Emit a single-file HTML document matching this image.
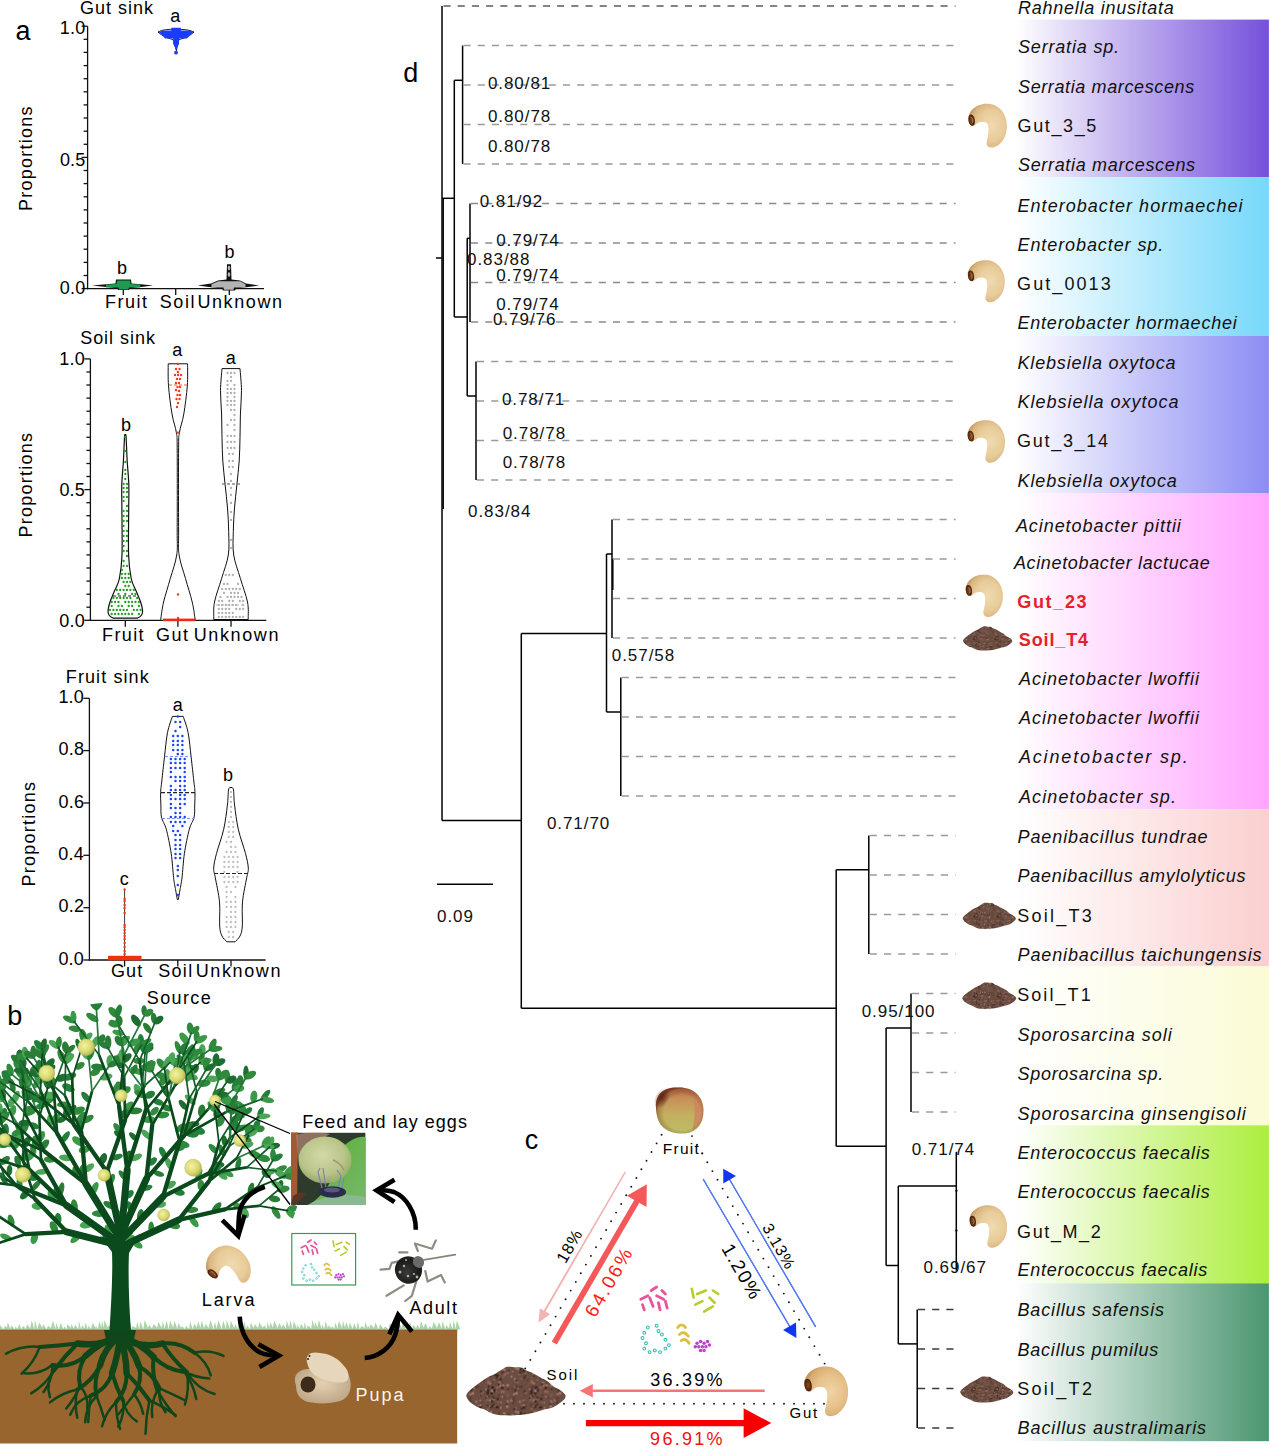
<!DOCTYPE html><html><head><meta charset="utf-8"><style>html,body{margin:0;padding:0;background:#fff;overflow:hidden}svg{display:block}</style></head><body>
<svg width="1270" height="1447" viewBox="0 0 1270 1447" font-family='"Liberation Sans", sans-serif'>
<defs>
<radialGradient id="larvaG" cx="0.6" cy="0.5" r="0.62"><stop offset="0" stop-color="#f0dab0"/><stop offset="0.55" stop-color="#e8cc9a"/><stop offset="0.85" stop-color="#dab680"/><stop offset="1" stop-color="#c49660"/></radialGradient>
<radialGradient id="headG" cx="0.5" cy="0.5" r="0.6"><stop offset="0" stop-color="#8a4a1e"/><stop offset="1" stop-color="#3a1a08"/></radialGradient>
<symbol id="larva" viewBox="0 0 41 46" overflow="visible"><path d="M1.06,13.00 C1.56,11.77 2.36,9.41 3.66,7.83 C4.96,6.25 6.99,4.62 8.86,3.50 C10.73,2.38 12.59,1.54 14.90,1.11 C17.21,0.68 20.32,0.57 22.70,0.90 C25.08,1.23 27.18,1.91 29.20,3.06 C31.22,4.21 33.28,5.96 34.80,7.83 C36.32,9.70 37.47,12.14 38.30,14.30 C39.13,16.46 39.58,18.63 39.80,20.80 C40.02,22.97 39.92,25.13 39.60,27.30 C39.28,29.47 38.77,31.78 37.90,33.80 C37.03,35.82 35.85,37.73 34.40,39.40 C32.95,41.07 31.00,42.85 29.20,43.80 C27.40,44.75 25.12,45.18 23.60,45.10 C22.08,45.02 20.82,44.17 20.10,43.30 C19.38,42.43 19.30,41.12 19.30,39.90 C19.30,38.68 19.82,37.52 20.10,36.00 C20.38,34.48 20.82,32.60 21.00,30.80 C21.18,29.00 21.35,26.78 21.20,25.20 C21.05,23.62 20.64,22.25 20.10,21.30 C19.56,20.35 18.96,19.87 17.95,19.50 C16.94,19.13 15.28,19.02 14.05,19.10 C12.83,19.18 11.68,19.50 10.60,20.00 C9.52,20.50 8.36,21.60 7.56,22.10 C6.76,22.60 6.62,23.07 5.83,23.00 C5.04,22.93 3.62,22.57 2.79,21.70 C1.96,20.83 1.21,18.88 0.85,17.80 C0.49,16.72 0.59,16.00 0.63,15.20 C0.67,14.40 0.56,14.23 1.06,13.00 Z" fill="url(#larvaG)"/><path d="M1.2,13.5 C2,11.5 4,11 5.5,12.5 C7.5,14.5 8,19 7,21.5 C6,23.5 3.5,23.5 2.2,21.5 C0.8,19.5 0.6,16 1.2,13.5 Z" fill="url(#headG)"/><path d="M3,14.5 C4,14 5,15 5.3,17 C5.5,19 5,20.5 4,20.5" fill="none" stroke="#d8b890" stroke-width="0.8" opacity="0.6"/></symbol>
<radialGradient id="larvaG2" cx="0.6" cy="0.5" r="0.62"><stop offset="0" stop-color="#f0d4a4"/><stop offset="0.55" stop-color="#e6c08a"/><stop offset="0.85" stop-color="#d8ac70"/><stop offset="1" stop-color="#c09058"/></radialGradient>
<symbol id="larva2" viewBox="0 0 41 46" overflow="visible"><path d="M1.06,13.00 C1.56,11.77 2.36,9.41 3.66,7.83 C4.96,6.25 6.99,4.62 8.86,3.50 C10.73,2.38 12.59,1.54 14.90,1.11 C17.21,0.68 20.32,0.57 22.70,0.90 C25.08,1.23 27.18,1.91 29.20,3.06 C31.22,4.21 33.28,5.96 34.80,7.83 C36.32,9.70 37.47,12.14 38.30,14.30 C39.13,16.46 39.58,18.63 39.80,20.80 C40.02,22.97 39.92,25.13 39.60,27.30 C39.28,29.47 38.77,31.78 37.90,33.80 C37.03,35.82 35.85,37.73 34.40,39.40 C32.95,41.07 31.00,42.85 29.20,43.80 C27.40,44.75 25.12,45.18 23.60,45.10 C22.08,45.02 20.82,44.17 20.10,43.30 C19.38,42.43 19.30,41.12 19.30,39.90 C19.30,38.68 19.82,37.52 20.10,36.00 C20.38,34.48 20.82,32.60 21.00,30.80 C21.18,29.00 21.35,26.78 21.20,25.20 C21.05,23.62 20.64,22.25 20.10,21.30 C19.56,20.35 18.96,19.87 17.95,19.50 C16.94,19.13 15.28,19.02 14.05,19.10 C12.83,19.18 11.68,19.50 10.60,20.00 C9.52,20.50 8.36,21.60 7.56,22.10 C6.76,22.60 6.62,23.07 5.83,23.00 C5.04,22.93 3.62,22.57 2.79,21.70 C1.96,20.83 1.21,18.88 0.85,17.80 C0.49,16.72 0.59,16.00 0.63,15.20 C0.67,14.40 0.56,14.23 1.06,13.00 Z" fill="url(#larvaG2)"/><path d="M1.2,13.5 C2,11.5 4,11 5.5,12.5 C7.5,14.5 8,19 7,21.5 C6,23.5 3.5,23.5 2.2,21.5 C0.8,19.5 0.6,16 1.2,13.5 Z" fill="url(#headG)"/></symbol>
<pattern id="soilP" width="24" height="24" patternUnits="userSpaceOnUse"><rect width="24" height="24" fill="#6a4c40"/><rect x="12.5" y="8.5" width="1.3" height="1.3" fill="#9a7264"/><rect x="13.4" y="13.9" width="1.3" height="1.3" fill="#302018"/><rect x="12.7" y="4.4" width="1.0" height="1.0" fill="#302018"/><rect x="19.2" y="11.0" width="1.3" height="1.3" fill="#302018"/><rect x="14.6" y="20.0" width="0.8" height="0.8" fill="#5a3c30"/><rect x="0.3" y="17.9" width="1.3" height="1.3" fill="#a88070"/><rect x="1.0" y="17.9" width="1.3" height="1.3" fill="#5a3c30"/><rect x="13.7" y="21.2" width="1.0" height="1.0" fill="#3a2820"/><rect x="18.1" y="9.8" width="1.3" height="1.3" fill="#a88070"/><rect x="20.2" y="2.2" width="0.8" height="0.8" fill="#302018"/><rect x="5.0" y="22.2" width="1.0" height="1.0" fill="#5a3c30"/><rect x="19.7" y="9.7" width="1.3" height="1.3" fill="#a88070"/><rect x="8.1" y="13.5" width="1.3" height="1.3" fill="#a88070"/><rect x="15.7" y="21.4" width="1.0" height="1.0" fill="#9a7264"/><rect x="15.4" y="3.8" width="1.3" height="1.3" fill="#3a2820"/><rect x="20.8" y="13.1" width="1.3" height="1.3" fill="#7a5040"/><rect x="19.1" y="13.2" width="1.3" height="1.3" fill="#9a7264"/><rect x="1.5" y="19.6" width="0.8" height="0.8" fill="#3a2820"/><rect x="7.9" y="1.5" width="0.8" height="0.8" fill="#302018"/><rect x="6.8" y="17.7" width="0.8" height="0.8" fill="#5a3c30"/><rect x="13.9" y="17.5" width="0.8" height="0.8" fill="#8e6458"/><rect x="13.5" y="12.7" width="1.3" height="1.3" fill="#a88070"/><rect x="5.4" y="0.8" width="1.3" height="1.3" fill="#3a2820"/><rect x="2.5" y="12.3" width="0.8" height="0.8" fill="#4a3026"/><rect x="6.7" y="6.1" width="1.0" height="1.0" fill="#9a7264"/><rect x="7.2" y="22.0" width="1.0" height="1.0" fill="#4a3026"/><rect x="10.6" y="12.0" width="1.0" height="1.0" fill="#a88070"/><rect x="22.4" y="18.7" width="1.3" height="1.3" fill="#8e6458"/><rect x="14.6" y="16.5" width="1.0" height="1.0" fill="#3a2820"/><rect x="22.5" y="12.0" width="1.0" height="1.0" fill="#3a2820"/><rect x="18.1" y="22.7" width="0.8" height="0.8" fill="#7a5040"/><rect x="8.7" y="13.6" width="0.8" height="0.8" fill="#7a5040"/><rect x="14.6" y="7.6" width="0.8" height="0.8" fill="#5a3c30"/><rect x="21.1" y="14.0" width="1.3" height="1.3" fill="#7a5040"/><rect x="11.3" y="13.6" width="1.3" height="1.3" fill="#3a2820"/><rect x="5.8" y="10.5" width="1.0" height="1.0" fill="#4a3026"/><rect x="8.4" y="7.2" width="0.8" height="0.8" fill="#7a5040"/><rect x="6.1" y="18.1" width="1.3" height="1.3" fill="#7a5040"/><rect x="22.3" y="15.7" width="0.8" height="0.8" fill="#8e6458"/><rect x="11.5" y="15.0" width="1.0" height="1.0" fill="#5a3c30"/><rect x="7.5" y="15.6" width="0.8" height="0.8" fill="#3a2820"/><rect x="13.8" y="21.8" width="0.8" height="0.8" fill="#8e6458"/><rect x="18.6" y="22.1" width="1.0" height="1.0" fill="#9a7264"/><rect x="17.1" y="5.0" width="1.0" height="1.0" fill="#8e6458"/><rect x="5.2" y="2.8" width="1.0" height="1.0" fill="#302018"/><rect x="18.6" y="19.3" width="1.0" height="1.0" fill="#9a7264"/><rect x="7.8" y="19.0" width="1.0" height="1.0" fill="#5a3c30"/><rect x="7.9" y="3.0" width="1.3" height="1.3" fill="#8e6458"/><rect x="18.3" y="6.2" width="1.3" height="1.3" fill="#3a2820"/><rect x="9.6" y="9.7" width="1.3" height="1.3" fill="#7a5040"/><rect x="21.2" y="3.6" width="0.8" height="0.8" fill="#a88070"/><rect x="21.7" y="20.2" width="1.0" height="1.0" fill="#4a3026"/><rect x="21.9" y="21.3" width="1.3" height="1.3" fill="#a88070"/><rect x="17.1" y="19.2" width="0.8" height="0.8" fill="#9a7264"/><rect x="7.8" y="5.2" width="1.3" height="1.3" fill="#3a2820"/><rect x="22.3" y="2.8" width="1.3" height="1.3" fill="#8e6458"/><rect x="0.8" y="18.5" width="0.8" height="0.8" fill="#9a7264"/><rect x="13.3" y="0.3" width="1.0" height="1.0" fill="#9a7264"/><rect x="11.6" y="5.5" width="0.8" height="0.8" fill="#8e6458"/><rect x="12.4" y="1.2" width="1.3" height="1.3" fill="#4a3026"/><rect x="2.9" y="22.4" width="1.0" height="1.0" fill="#8e6458"/><rect x="8.1" y="4.5" width="0.8" height="0.8" fill="#302018"/><rect x="5.5" y="6.3" width="0.8" height="0.8" fill="#8e6458"/><rect x="11.2" y="13.1" width="0.8" height="0.8" fill="#5a3c30"/><rect x="17.4" y="5.7" width="0.8" height="0.8" fill="#a88070"/><rect x="10.9" y="17.9" width="0.8" height="0.8" fill="#a88070"/><rect x="17.8" y="1.1" width="0.8" height="0.8" fill="#4a3026"/><rect x="11.1" y="0.8" width="0.8" height="0.8" fill="#4a3026"/><rect x="11.5" y="7.3" width="1.3" height="1.3" fill="#8e6458"/><rect x="8.1" y="14.9" width="0.8" height="0.8" fill="#7a5040"/><rect x="6.1" y="22.7" width="1.0" height="1.0" fill="#3a2820"/><rect x="2.9" y="0.1" width="0.8" height="0.8" fill="#a88070"/><rect x="13.0" y="1.0" width="0.8" height="0.8" fill="#a88070"/><rect x="15.0" y="12.5" width="1.3" height="1.3" fill="#302018"/><rect x="20.4" y="1.2" width="1.3" height="1.3" fill="#4a3026"/><rect x="7.2" y="21.9" width="1.3" height="1.3" fill="#302018"/><rect x="0.4" y="5.0" width="1.0" height="1.0" fill="#a88070"/><rect x="13.6" y="18.5" width="1.3" height="1.3" fill="#3a2820"/><rect x="3.0" y="0.6" width="1.0" height="1.0" fill="#9a7264"/><rect x="22.3" y="12.9" width="1.0" height="1.0" fill="#7a5040"/><rect x="10.7" y="2.8" width="0.8" height="0.8" fill="#3a2820"/><rect x="2.5" y="7.3" width="1.3" height="1.3" fill="#a88070"/><rect x="16.5" y="10.9" width="1.3" height="1.3" fill="#8e6458"/><rect x="1.0" y="2.1" width="1.0" height="1.0" fill="#9a7264"/><rect x="20.3" y="4.1" width="1.3" height="1.3" fill="#8e6458"/><rect x="19.4" y="2.8" width="1.0" height="1.0" fill="#4a3026"/><rect x="11.1" y="16.0" width="1.3" height="1.3" fill="#8e6458"/><rect x="6.9" y="2.0" width="1.3" height="1.3" fill="#3a2820"/><rect x="12.8" y="2.3" width="0.8" height="0.8" fill="#9a7264"/><rect x="7.5" y="13.0" width="1.3" height="1.3" fill="#4a3026"/><rect x="23.0" y="14.9" width="0.8" height="0.8" fill="#8e6458"/><rect x="16.1" y="21.7" width="1.3" height="1.3" fill="#302018"/><rect x="13.8" y="21.6" width="1.0" height="1.0" fill="#3a2820"/><rect x="8.6" y="5.4" width="0.8" height="0.8" fill="#a88070"/><rect x="22.2" y="9.6" width="1.3" height="1.3" fill="#a88070"/><rect x="14.8" y="20.6" width="0.8" height="0.8" fill="#302018"/><rect x="2.2" y="17.2" width="0.8" height="0.8" fill="#5a3c30"/><rect x="16.5" y="4.3" width="1.3" height="1.3" fill="#302018"/><rect x="3.4" y="11.9" width="0.8" height="0.8" fill="#3a2820"/><rect x="12.4" y="17.9" width="1.3" height="1.3" fill="#9a7264"/><rect x="19.6" y="13.4" width="1.3" height="1.3" fill="#a88070"/><rect x="7.1" y="6.2" width="0.8" height="0.8" fill="#3a2820"/><rect x="4.0" y="8.3" width="0.8" height="0.8" fill="#a88070"/><rect x="17.8" y="3.3" width="1.0" height="1.0" fill="#7a5040"/><rect x="13.8" y="10.8" width="1.3" height="1.3" fill="#302018"/><rect x="22.8" y="1.7" width="1.0" height="1.0" fill="#4a3026"/><rect x="20.3" y="1.1" width="1.3" height="1.3" fill="#a88070"/><rect x="14.9" y="17.9" width="0.8" height="0.8" fill="#9a7264"/><rect x="19.6" y="5.6" width="0.8" height="0.8" fill="#8e6458"/><rect x="3.2" y="14.3" width="1.0" height="1.0" fill="#9a7264"/><rect x="3.9" y="1.0" width="1.0" height="1.0" fill="#4a3026"/><rect x="2.1" y="18.4" width="1.0" height="1.0" fill="#5a3c30"/><rect x="6.1" y="21.0" width="0.8" height="0.8" fill="#8e6458"/><rect x="10.4" y="16.9" width="1.0" height="1.0" fill="#4a3026"/><rect x="0.7" y="7.6" width="0.8" height="0.8" fill="#7a5040"/><rect x="1.8" y="14.8" width="1.0" height="1.0" fill="#a88070"/><rect x="2.9" y="7.3" width="1.0" height="1.0" fill="#302018"/><rect x="15.3" y="2.6" width="0.8" height="0.8" fill="#3a2820"/><rect x="12.1" y="16.1" width="0.8" height="0.8" fill="#3a2820"/><rect x="6.8" y="15.5" width="1.0" height="1.0" fill="#7a5040"/><rect x="17.3" y="22.1" width="0.8" height="0.8" fill="#3a2820"/><rect x="11.4" y="8.1" width="1.3" height="1.3" fill="#8e6458"/><rect x="16.7" y="17.1" width="1.3" height="1.3" fill="#3a2820"/><rect x="8.5" y="21.2" width="0.8" height="0.8" fill="#5a3c30"/><rect x="2.5" y="12.9" width="0.8" height="0.8" fill="#302018"/><rect x="16.6" y="13.7" width="1.3" height="1.3" fill="#7a5040"/><rect x="4.3" y="11.1" width="1.3" height="1.3" fill="#3a2820"/><rect x="1.6" y="16.5" width="1.3" height="1.3" fill="#5a3c30"/><rect x="2.3" y="6.2" width="1.0" height="1.0" fill="#a88070"/><rect x="1.0" y="11.6" width="0.8" height="0.8" fill="#4a3026"/><rect x="17.7" y="8.1" width="1.3" height="1.3" fill="#9a7264"/><rect x="10.3" y="18.6" width="1.0" height="1.0" fill="#7a5040"/><rect x="11.5" y="22.9" width="1.0" height="1.0" fill="#8e6458"/><rect x="13.6" y="15.7" width="1.0" height="1.0" fill="#5a3c30"/><rect x="16.1" y="13.0" width="0.8" height="0.8" fill="#8e6458"/><rect x="3.0" y="14.0" width="1.3" height="1.3" fill="#a88070"/><rect x="12.5" y="3.9" width="0.8" height="0.8" fill="#a88070"/><rect x="20.0" y="8.5" width="0.8" height="0.8" fill="#5a3c30"/><rect x="19.4" y="10.2" width="0.8" height="0.8" fill="#3a2820"/><rect x="7.3" y="20.8" width="1.0" height="1.0" fill="#a88070"/><rect x="11.4" y="12.2" width="1.3" height="1.3" fill="#3a2820"/><rect x="11.1" y="13.8" width="1.3" height="1.3" fill="#3a2820"/><rect x="17.7" y="15.2" width="0.8" height="0.8" fill="#4a3026"/><rect x="12.0" y="10.6" width="0.8" height="0.8" fill="#302018"/><rect x="4.9" y="18.7" width="1.3" height="1.3" fill="#9a7264"/><rect x="13.0" y="22.1" width="0.8" height="0.8" fill="#302018"/><rect x="10.7" y="2.0" width="0.8" height="0.8" fill="#5a3c30"/><rect x="8.3" y="5.4" width="0.8" height="0.8" fill="#4a3026"/><rect x="12.4" y="21.4" width="1.0" height="1.0" fill="#8e6458"/><rect x="20.0" y="16.0" width="1.0" height="1.0" fill="#7a5040"/><rect x="19.7" y="13.8" width="0.8" height="0.8" fill="#5a3c30"/><rect x="1.8" y="22.9" width="1.3" height="1.3" fill="#4a3026"/><rect x="19.8" y="10.1" width="0.8" height="0.8" fill="#9a7264"/><rect x="7.3" y="18.1" width="1.0" height="1.0" fill="#9a7264"/><rect x="19.4" y="16.2" width="0.8" height="0.8" fill="#a88070"/><rect x="10.9" y="1.6" width="1.0" height="1.0" fill="#a88070"/><rect x="14.9" y="7.0" width="0.8" height="0.8" fill="#a88070"/><rect x="17.4" y="9.2" width="1.0" height="1.0" fill="#302018"/><rect x="20.7" y="16.6" width="1.0" height="1.0" fill="#5a3c30"/><rect x="10.3" y="8.3" width="1.0" height="1.0" fill="#7a5040"/><rect x="22.3" y="18.5" width="0.8" height="0.8" fill="#a88070"/><rect x="3.3" y="10.6" width="1.0" height="1.0" fill="#3a2820"/><rect x="4.8" y="3.9" width="0.8" height="0.8" fill="#9a7264"/><rect x="3.9" y="0.6" width="1.3" height="1.3" fill="#a88070"/><rect x="3.9" y="11.3" width="1.3" height="1.3" fill="#8e6458"/><rect x="9.3" y="7.3" width="0.8" height="0.8" fill="#4a3026"/><rect x="16.4" y="5.5" width="1.3" height="1.3" fill="#4a3026"/><rect x="11.3" y="20.9" width="1.0" height="1.0" fill="#4a3026"/><rect x="2.2" y="10.9" width="0.8" height="0.8" fill="#9a7264"/><rect x="14.3" y="8.0" width="1.0" height="1.0" fill="#5a3c30"/></pattern>
<symbol id="soil" viewBox="0 0 55 27" overflow="visible"><path d="M0.02,15.81 C0.14,14.63 1.56,13.53 2.82,12.35 C4.08,11.17 6.04,9.85 7.59,8.74 C9.13,7.64 10.67,6.56 12.11,5.73 C13.56,4.89 14.93,4.45 16.27,3.72 C17.61,2.99 19.10,1.93 20.17,1.33 C21.24,0.72 21.52,0.24 22.70,0.07 C23.88,-0.10 25.87,0.23 27.24,0.31 C28.61,0.39 30.04,0.30 30.93,0.55 C31.82,0.80 31.62,1.32 32.59,1.82 C33.57,2.32 35.39,2.87 36.76,3.56 C38.14,4.24 39.50,5.20 40.84,5.94 C42.19,6.68 43.57,7.14 44.82,8.00 C46.07,8.85 47.11,10.22 48.33,11.07 C49.54,11.91 51.03,12.26 52.10,13.07 C53.16,13.87 54.48,14.99 54.71,15.91 C54.94,16.82 54.16,17.75 53.48,18.55 C52.81,19.35 51.69,20.04 50.65,20.72 C49.61,21.39 48.52,22.11 47.22,22.59 C45.92,23.08 44.45,23.18 42.86,23.61 C41.27,24.04 39.35,24.74 37.69,25.18 C36.03,25.61 34.69,25.95 32.90,26.22 C31.10,26.49 28.99,26.69 26.91,26.79 C24.84,26.89 22.44,26.93 20.46,26.82 C18.48,26.71 16.78,26.66 15.04,26.12 C13.30,25.58 11.55,24.29 10.02,23.60 C8.49,22.92 7.16,22.69 5.84,22.00 C4.51,21.31 3.06,20.50 2.08,19.47 C1.11,18.44 -0.11,17.00 0.02,15.81 Z" fill="url(#soilP)"/></symbol>
<radialGradient id="appleG" cx="0.5" cy="0.7" r="0.7" fx="0.45" fy="0.75"><stop offset="0" stop-color="#c0b458"/><stop offset="0.35" stop-color="#b0a04a"/><stop offset="0.65" stop-color="#a8783a"/><stop offset="0.88" stop-color="#985030"/><stop offset="1" stop-color="#5a1c10"/></radialGradient>
<radialGradient id="fruitG" cx="0.4" cy="0.4" r="0.6"><stop offset="0" stop-color="#f4f2a0"/><stop offset="0.7" stop-color="#d6d870"/><stop offset="1" stop-color="#b8b850"/></radialGradient>
<linearGradient id="photoG" x1="0" y1="0" x2="1" y2="1"><stop offset="0" stop-color="#6a4a30"/><stop offset="0.4" stop-color="#8aa060"/><stop offset="1" stop-color="#5aa050"/></linearGradient>
<radialGradient id="budG" cx="0.45" cy="0.4" r="0.55"><stop offset="0" stop-color="#c4d0a0"/><stop offset="0.8" stop-color="#a8b880"/><stop offset="1" stop-color="#809060"/></radialGradient>
<radialGradient id="pupaG" cx="0.5" cy="0.45" r="0.6"><stop offset="0" stop-color="#e4d0b0"/><stop offset="1" stop-color="#bca486"/></radialGradient>
<radialGradient id="beetleG" cx="0.4" cy="0.4" r="0.6"><stop offset="0" stop-color="#707070"/><stop offset="1" stop-color="#1a1a1a"/></radialGradient>
<linearGradient id="bg0" x1="0" x2="1" y1="0" y2="0"><stop offset="0" stop-color="#fff"/><stop offset="1" stop-color="#7550dc"/></linearGradient>
<linearGradient id="bg1" x1="0" x2="1" y1="0" y2="0"><stop offset="0" stop-color="#fff"/><stop offset="1" stop-color="#76d8fa"/></linearGradient>
<linearGradient id="bg2" x1="0" x2="1" y1="0" y2="0"><stop offset="0" stop-color="#fff"/><stop offset="1" stop-color="#8c8cf4"/></linearGradient>
<linearGradient id="bg3" x1="0" x2="1" y1="0" y2="0"><stop offset="0" stop-color="#fff"/><stop offset="1" stop-color="#ffa4ff"/></linearGradient>
<linearGradient id="bg4" x1="0" x2="1" y1="0" y2="0"><stop offset="0" stop-color="#fff"/><stop offset="1" stop-color="#fbcfcf"/></linearGradient>
<linearGradient id="bg5" x1="0" x2="1" y1="0" y2="0"><stop offset="0" stop-color="#fff"/><stop offset="1" stop-color="#fbfbd6"/></linearGradient>
<linearGradient id="bg6" x1="0" x2="1" y1="0" y2="0"><stop offset="0" stop-color="#fff"/><stop offset="1" stop-color="#acee3e"/></linearGradient>
<linearGradient id="bg7" x1="0" x2="1" y1="0" y2="0"><stop offset="0" stop-color="#fff"/><stop offset="1" stop-color="#4b9670"/></linearGradient>
</defs>
<rect width="1270" height="1447" fill="#fff"/>
<rect x="1015.7" y="19.6" width="253.2" height="157.5" fill="url(#bg0)"/>
<rect x="1015.7" y="177.1" width="253.2" height="158.5" fill="url(#bg1)"/>
<rect x="1015.7" y="335.6" width="253.2" height="157.4" fill="url(#bg2)"/>
<rect x="1015.7" y="493.0" width="253.2" height="316.2" fill="url(#bg3)"/>
<rect x="1015.7" y="809.2" width="253.2" height="157.1" fill="url(#bg4)"/>
<rect x="1015.7" y="966.3" width="253.2" height="159.0" fill="url(#bg5)"/>
<rect x="1015.7" y="1125.3" width="253.2" height="158.0" fill="url(#bg6)"/>
<rect x="1015.7" y="1283.3" width="253.2" height="157.9" fill="url(#bg7)"/>
<g stroke-linecap="butt">
<line x1="442.0" y1="6.0" x2="442.0" y2="820.6" stroke="#000" stroke-width="1.5" />
<line x1="443.2" y1="198.3" x2="443.2" y2="509.0" stroke="#000" stroke-width="1.5" />
<line x1="436.0" y1="258.0" x2="442.0" y2="258.0" stroke="#000" stroke-width="1.5" />
<line x1="443.5" y1="6.0" x2="955.5" y2="6.0" stroke="#5c5c5c" stroke-width="1.4" stroke-dasharray="7.1 7.1"/>
<line x1="442.0" y1="198.3" x2="454.3" y2="198.3" stroke="#000" stroke-width="1.5" />
<line x1="454.3" y1="80.3" x2="454.3" y2="317.0" stroke="#000" stroke-width="1.5" />
<line x1="454.3" y1="80.3" x2="462.6" y2="80.3" stroke="#000" stroke-width="1.5" />
<line x1="462.6" y1="45.5" x2="462.6" y2="164.0" stroke="#000" stroke-width="1.5" />
<line x1="463.5" y1="45.5" x2="955.5" y2="45.5" stroke="#9a9a9a" stroke-width="1.4" stroke-dasharray="7.1 7.1"/>
<line x1="463.5" y1="85.0" x2="955.5" y2="85.0" stroke="#9a9a9a" stroke-width="1.4" stroke-dasharray="7.1 7.1"/>
<line x1="463.5" y1="124.5" x2="955.5" y2="124.5" stroke="#9a9a9a" stroke-width="1.4" stroke-dasharray="7.1 7.1"/>
<line x1="463.5" y1="164.0" x2="955.5" y2="164.0" stroke="#9a9a9a" stroke-width="1.4" stroke-dasharray="7.1 7.1"/>
<line x1="454.3" y1="317.0" x2="467.2" y2="317.0" stroke="#000" stroke-width="1.5" />
<line x1="467.2" y1="238.3" x2="467.2" y2="396.0" stroke="#000" stroke-width="1.5" />
<line x1="467.2" y1="238.3" x2="470.0" y2="238.3" stroke="#000" stroke-width="1.5" />
<line x1="470.0" y1="203.5" x2="470.0" y2="322.0" stroke="#000" stroke-width="1.5" />
<line x1="471.0" y1="203.5" x2="955.5" y2="203.5" stroke="#8a8a8a" stroke-width="1.4" stroke-dasharray="7.1 7.1"/>
<line x1="471.0" y1="243.0" x2="955.5" y2="243.0" stroke="#8a8a8a" stroke-width="1.4" stroke-dasharray="7.1 7.1"/>
<line x1="471.0" y1="282.5" x2="955.5" y2="282.5" stroke="#8a8a8a" stroke-width="1.4" stroke-dasharray="7.1 7.1"/>
<line x1="471.0" y1="322.0" x2="955.5" y2="322.0" stroke="#8a8a8a" stroke-width="1.4" stroke-dasharray="7.1 7.1"/>
<line x1="467.2" y1="396.0" x2="476.0" y2="396.0" stroke="#000" stroke-width="1.5" />
<line x1="476.0" y1="361.5" x2="476.0" y2="480.0" stroke="#000" stroke-width="1.5" />
<line x1="477.0" y1="361.5" x2="955.5" y2="361.5" stroke="#9a9a9a" stroke-width="1.4" stroke-dasharray="7.1 7.1"/>
<line x1="477.0" y1="401.0" x2="955.5" y2="401.0" stroke="#9a9a9a" stroke-width="1.4" stroke-dasharray="7.1 7.1"/>
<line x1="477.0" y1="440.5" x2="955.5" y2="440.5" stroke="#9a9a9a" stroke-width="1.4" stroke-dasharray="7.1 7.1"/>
<line x1="477.0" y1="480.0" x2="955.5" y2="480.0" stroke="#9a9a9a" stroke-width="1.4" stroke-dasharray="7.1 7.1"/>
<line x1="442.0" y1="820.6" x2="521.3" y2="820.6" stroke="#000" stroke-width="1.5" />
<line x1="521.3" y1="633.4" x2="521.3" y2="1008.2" stroke="#000" stroke-width="1.5" />
<line x1="521.3" y1="633.4" x2="606.5" y2="633.4" stroke="#000" stroke-width="1.5" />
<line x1="606.5" y1="554.0" x2="606.5" y2="712.0" stroke="#000" stroke-width="1.5" />
<line x1="606.5" y1="554.0" x2="612.0" y2="554.0" stroke="#000" stroke-width="1.5" />
<line x1="612.0" y1="519.5" x2="612.0" y2="638.0" stroke="#000" stroke-width="1.5" />
<line x1="612.8" y1="559.0" x2="612.8" y2="590.0" stroke="#000" stroke-width="1.5" />
<line x1="613.0" y1="519.5" x2="955.5" y2="519.5" stroke="#9a9a9a" stroke-width="1.4" stroke-dasharray="7.1 7.1"/>
<line x1="613.0" y1="559.0" x2="955.5" y2="559.0" stroke="#9a9a9a" stroke-width="1.4" stroke-dasharray="7.1 7.1"/>
<line x1="613.0" y1="598.5" x2="955.5" y2="598.5" stroke="#9a9a9a" stroke-width="1.4" stroke-dasharray="7.1 7.1"/>
<line x1="613.0" y1="638.0" x2="955.5" y2="638.0" stroke="#9a9a9a" stroke-width="1.4" stroke-dasharray="7.1 7.1"/>
<line x1="606.5" y1="712.0" x2="620.8" y2="712.0" stroke="#000" stroke-width="1.5" />
<line x1="620.8" y1="677.5" x2="620.8" y2="796.0" stroke="#000" stroke-width="1.5" />
<line x1="621.8" y1="677.5" x2="955.5" y2="677.5" stroke="#9a9a9a" stroke-width="1.4" stroke-dasharray="7.1 7.1"/>
<line x1="621.8" y1="717.0" x2="955.5" y2="717.0" stroke="#9a9a9a" stroke-width="1.4" stroke-dasharray="7.1 7.1"/>
<line x1="621.8" y1="756.5" x2="955.5" y2="756.5" stroke="#9a9a9a" stroke-width="1.4" stroke-dasharray="7.1 7.1"/>
<line x1="621.8" y1="796.0" x2="955.5" y2="796.0" stroke="#9a9a9a" stroke-width="1.4" stroke-dasharray="7.1 7.1"/>
<line x1="521.3" y1="1008.2" x2="836.2" y2="1008.2" stroke="#000" stroke-width="1.5" />
<line x1="836.2" y1="869.8" x2="836.2" y2="1146.2" stroke="#000" stroke-width="1.5" />
<line x1="836.2" y1="869.8" x2="868.8" y2="869.8" stroke="#000" stroke-width="1.5" />
<line x1="868.8" y1="835.5" x2="868.8" y2="954.0" stroke="#000" stroke-width="1.5" />
<line x1="869.8" y1="835.5" x2="955.5" y2="835.5" stroke="#9a9a9a" stroke-width="1.4" stroke-dasharray="7.1 7.1"/>
<line x1="869.8" y1="875.0" x2="955.5" y2="875.0" stroke="#9a9a9a" stroke-width="1.4" stroke-dasharray="7.1 7.1"/>
<line x1="869.8" y1="914.5" x2="955.5" y2="914.5" stroke="#9a9a9a" stroke-width="1.4" stroke-dasharray="7.1 7.1"/>
<line x1="869.8" y1="954.0" x2="955.5" y2="954.0" stroke="#9a9a9a" stroke-width="1.4" stroke-dasharray="7.1 7.1"/>
<line x1="836.2" y1="1146.2" x2="886.1" y2="1146.2" stroke="#000" stroke-width="1.5" />
<line x1="886.1" y1="1028.0" x2="886.1" y2="1265.5" stroke="#000" stroke-width="1.5" />
<line x1="886.1" y1="1028.0" x2="911.0" y2="1028.0" stroke="#000" stroke-width="1.5" />
<line x1="911.0" y1="993.5" x2="911.0" y2="1112.0" stroke="#000" stroke-width="1.5" />
<line x1="912.0" y1="993.5" x2="955.5" y2="993.5" stroke="#9a9a9a" stroke-width="1.4" stroke-dasharray="7.1 7.1"/>
<line x1="912.0" y1="1033.0" x2="955.5" y2="1033.0" stroke="#9a9a9a" stroke-width="1.4" stroke-dasharray="7.1 7.1"/>
<line x1="912.0" y1="1072.5" x2="955.5" y2="1072.5" stroke="#9a9a9a" stroke-width="1.4" stroke-dasharray="7.1 7.1"/>
<line x1="912.0" y1="1112.0" x2="955.5" y2="1112.0" stroke="#9a9a9a" stroke-width="1.4" stroke-dasharray="7.1 7.1"/>
<line x1="886.1" y1="1265.5" x2="898.3" y2="1265.5" stroke="#000" stroke-width="1.5" />
<line x1="898.3" y1="1186.0" x2="898.3" y2="1343.9" stroke="#000" stroke-width="1.5" />
<line x1="898.3" y1="1186.0" x2="956.3" y2="1186.0" stroke="#000" stroke-width="1.5" />
<line x1="956.3" y1="1151.8" x2="956.3" y2="1270.7" stroke="#000" stroke-width="1.5" />
<line x1="955.3" y1="1190.7" x2="957.5" y2="1190.7" stroke="#000" stroke-width="1.5" />
<line x1="955.3" y1="1230.5" x2="957.5" y2="1230.5" stroke="#000" stroke-width="1.5" />
<line x1="898.3" y1="1343.9" x2="917.2" y2="1343.9" stroke="#000" stroke-width="1.5" />
<line x1="917.2" y1="1309.5" x2="917.2" y2="1428.0" stroke="#000" stroke-width="1.5" />
<line x1="918.0" y1="1309.5" x2="953.6" y2="1309.5" stroke="#3a3a3a" stroke-width="1.4" stroke-dasharray="7.1 7.1"/>
<line x1="918.0" y1="1349.0" x2="953.6" y2="1349.0" stroke="#3a3a3a" stroke-width="1.4" stroke-dasharray="7.1 7.1"/>
<line x1="918.0" y1="1388.5" x2="953.6" y2="1388.5" stroke="#3a3a3a" stroke-width="1.4" stroke-dasharray="7.1 7.1"/>
<line x1="918.0" y1="1428.0" x2="953.6" y2="1428.0" stroke="#3a3a3a" stroke-width="1.4" stroke-dasharray="7.1 7.1"/>
<line x1="437.0" y1="884.2" x2="493.0" y2="884.2" stroke="#000" stroke-width="1.5" />
</g>
<text x="487.9" y="88.6" font-size="17" fill="#111" letter-spacing="0.95" >0.80/81</text>
<text x="487.9" y="121.5" font-size="17" fill="#111" letter-spacing="0.95" >0.80/78</text>
<text x="487.9" y="151.5" font-size="17" fill="#111" letter-spacing="0.95" >0.80/78</text>
<text x="479.8" y="207.0" font-size="17" fill="#111" letter-spacing="0.95" >0.81/92</text>
<text x="496.2" y="246.3" font-size="17" fill="#111" letter-spacing="0.95" >0.79/74</text>
<text x="467.0" y="265.2" font-size="17" fill="#111" letter-spacing="0.95" >0.83/88</text>
<text x="496.2" y="280.6" font-size="17" fill="#111" letter-spacing="0.95" >0.79/74</text>
<text x="496.2" y="309.6" font-size="17" fill="#111" letter-spacing="0.95" >0.79/74</text>
<text x="493.0" y="325.4" font-size="17" fill="#111" letter-spacing="0.95" >0.79/76</text>
<text x="501.9" y="404.6" font-size="17" fill="#111" letter-spacing="0.95" >0.78/71</text>
<text x="502.7" y="438.9" font-size="17" fill="#111" letter-spacing="0.95" >0.78/78</text>
<text x="502.7" y="467.6" font-size="17" fill="#111" letter-spacing="0.95" >0.78/78</text>
<text x="468.0" y="517.2" font-size="17" fill="#111" letter-spacing="0.95" >0.83/84</text>
<text x="611.8" y="661.0" font-size="17" fill="#111" letter-spacing="0.95" >0.57/58</text>
<text x="546.9" y="828.9" font-size="17" fill="#111" letter-spacing="0.95" >0.71/70</text>
<text x="861.7" y="1016.5" font-size="17" fill="#111" letter-spacing="0.95" >0.95/100</text>
<text x="911.8" y="1154.5" font-size="17" fill="#111" letter-spacing="0.95" >0.71/74</text>
<text x="923.5" y="1273.0" font-size="17" fill="#111" letter-spacing="0.95" >0.69/67</text>
<text x="437.0" y="922.2" font-size="17" fill="#111" letter-spacing="0.95" >0.09</text>
<text x="403.3" y="82.0" font-size="27" fill="#000" letter-spacing="0" >d</text>
<text x="1018.0" y="13.9" font-size="18" fill="#111" font-style="italic" letter-spacing="0.74" >Rahnella inusitata</text>
<text x="1018.0" y="53.4" font-size="18" fill="#111" font-style="italic" letter-spacing="0.82" >Serratia sp.</text>
<text x="1018.0" y="92.7" font-size="18" fill="#111" font-style="italic" letter-spacing="0.62" >Serratia marcescens</text>
<text x="1017.6" y="132.3" font-size="18" fill="#111" letter-spacing="1.62" >Gut_3_5</text>
<text x="1018.0" y="171.3" font-size="18" fill="#111" font-style="italic" letter-spacing="0.67" >Serratia marcescens</text>
<text x="1017.5" y="211.6" font-size="18" fill="#111" font-style="italic" letter-spacing="1.04" >Enterobacter hormaechei</text>
<text x="1017.5" y="250.7" font-size="18" fill="#111" font-style="italic" letter-spacing="0.91" >Enterobacter sp.</text>
<text x="1017.1" y="289.8" font-size="18" fill="#111" letter-spacing="2.07" >Gut_0013</text>
<text x="1017.5" y="328.8" font-size="18" fill="#111" font-style="italic" letter-spacing="0.78" >Enterobacter hormaechei</text>
<text x="1017.5" y="369.1" font-size="18" fill="#111" font-style="italic" letter-spacing="0.82" >Klebsiella oxytoca</text>
<text x="1017.5" y="408.2" font-size="18" fill="#111" font-style="italic" letter-spacing="1.0" >Klebsiella oxytoca</text>
<text x="1017.1" y="447.2" font-size="18" fill="#111" letter-spacing="1.69" >Gut_3_14</text>
<text x="1017.5" y="487.0" font-size="18" fill="#111" font-style="italic" letter-spacing="0.9" >Klebsiella oxytoca</text>
<text x="1015.9" y="531.6" font-size="18" fill="#111" font-style="italic" letter-spacing="0.94" >Acinetobacter pittii</text>
<text x="1013.9" y="569.4" font-size="18" fill="#111" font-style="italic" letter-spacing="0.65" >Acinetobacter lactucae</text>
<text x="1017.3" y="607.7" font-size="18" fill="#e8202a" font-weight="bold" letter-spacing="1.66" >Gut_23</text>
<text x="1018.8" y="645.8" font-size="18" fill="#e8202a" font-weight="bold" letter-spacing="0.87" >Soil_T4</text>
<text x="1018.9" y="684.6" font-size="18" fill="#111" font-style="italic" letter-spacing="1.0" >Acinetobacter lwoffii</text>
<text x="1018.9" y="723.9" font-size="18" fill="#111" font-style="italic" letter-spacing="1.0" >Acinetobacter lwoffii</text>
<text x="1018.9" y="763.4" font-size="18" fill="#111" font-style="italic" letter-spacing="1.86" >Acinetobacter sp.</text>
<text x="1018.9" y="802.5" font-size="18" fill="#111" font-style="italic" letter-spacing="1.12" >Acinetobacter sp.</text>
<text x="1017.5" y="842.8" font-size="18" fill="#111" font-style="italic" letter-spacing="0.9" >Paenibacillus tundrae</text>
<text x="1017.5" y="881.9" font-size="18" fill="#111" font-style="italic" letter-spacing="0.76" >Paenibacillus amylolyticus</text>
<text x="1017.2" y="922.2" font-size="18" fill="#111" letter-spacing="2.27" >Soil_T3</text>
<text x="1017.5" y="961.2" font-size="18" fill="#111" font-style="italic" letter-spacing="0.88" >Paenibacillus taichungensis</text>
<text x="1017.2" y="1000.8" font-size="18" fill="#111" letter-spacing="2.07" >Soil_T1</text>
<text x="1017.5" y="1040.6" font-size="18" fill="#111" font-style="italic" letter-spacing="1.01" >Sporosarcina soli</text>
<text x="1017.5" y="1079.7" font-size="18" fill="#111" font-style="italic" letter-spacing="0.71" >Sporosarcina sp.</text>
<text x="1017.5" y="1119.5" font-size="18" fill="#111" font-style="italic" letter-spacing="0.96" >Sporosarcina ginsengisoli</text>
<text x="1017.5" y="1159.0" font-size="18" fill="#111" font-style="italic" letter-spacing="0.86" >Enterococcus faecalis</text>
<text x="1017.5" y="1198.1" font-size="18" fill="#111" font-style="italic" letter-spacing="0.86" >Enterococcus faecalis</text>
<text x="1017.1" y="1237.9" font-size="18" fill="#111" letter-spacing="1.6" >Gut_M_2</text>
<text x="1017.5" y="1276.2" font-size="18" fill="#111" font-style="italic" letter-spacing="0.73" >Enterococcus faecalis</text>
<text x="1017.5" y="1316.0" font-size="18" fill="#111" font-style="italic" letter-spacing="0.84" >Bacillus safensis</text>
<text x="1017.5" y="1355.6" font-size="18" fill="#111" font-style="italic" letter-spacing="0.78" >Bacillus pumilus</text>
<text x="1017.2" y="1395.1" font-size="18" fill="#111" letter-spacing="2.28" >Soil_T2</text>
<text x="1017.5" y="1434.4" font-size="18" fill="#111" font-style="italic" letter-spacing="0.93" >Bacillus australimaris</text>
<use href="#larva" x="967.6" y="103.0" width="40.4" height="45.6" preserveAspectRatio="none"/>
<use href="#larva" x="966.0" y="259.5" width="41.0" height="43.5" preserveAspectRatio="none"/>
<use href="#larva" x="966.0" y="419.5" width="41.0" height="44.1" preserveAspectRatio="none"/>
<use href="#larva" x="965.0" y="573.7" width="39.0" height="44.3" preserveAspectRatio="none"/>
<use href="#larva" x="968.4" y="1204.6" width="40.2" height="44.1" preserveAspectRatio="none"/>
<use href="#soil" x="963.0" y="626.0" width="49.5" height="25.0" preserveAspectRatio="none"/>
<use href="#soil" x="962.0" y="902.8" width="54.8" height="26.2" preserveAspectRatio="none"/>
<use href="#soil" x="962.0" y="982.4" width="54.8" height="26.6" preserveAspectRatio="none"/>
<use href="#soil" x="959.6" y="1376.5" width="54.6" height="26.2" preserveAspectRatio="none"/>
<text x="79.9" y="13.9" font-size="18" fill="#000" letter-spacing="1.03" >Gut sink</text>
<text x="15.5" y="40.3" font-size="27" fill="#000" letter-spacing="0" >a</text>
<g transform="translate(27.3 158.5) rotate(-90)">
<text x="-52.6" y="4.7" font-size="18" fill="#000" letter-spacing="1.25" >Proportions</text>
</g>
<g stroke="#111" stroke-width="1.3">
<line x1="87.6" y1="26.2" x2="87.6" y2="289.20000000000005"/>
<line x1="87.0" y1="288.6" x2="264" y2="288.6"/>
<line x1="81.6" y1="26.2" x2="87.6" y2="26.2"/>
<line x1="83.6" y1="39.3" x2="87.6" y2="39.3"/>
<line x1="83.6" y1="52.4" x2="87.6" y2="52.4"/>
<line x1="83.6" y1="65.6" x2="87.6" y2="65.6"/>
<line x1="83.6" y1="78.7" x2="87.6" y2="78.7"/>
<line x1="83.6" y1="91.8" x2="87.6" y2="91.8"/>
<line x1="83.6" y1="104.9" x2="87.6" y2="104.9"/>
<line x1="83.6" y1="118.0" x2="87.6" y2="118.0"/>
<line x1="83.6" y1="131.2" x2="87.6" y2="131.2"/>
<line x1="83.6" y1="144.3" x2="87.6" y2="144.3"/>
<line x1="81.6" y1="157.4" x2="87.6" y2="157.4"/>
<line x1="83.6" y1="170.5" x2="87.6" y2="170.5"/>
<line x1="83.6" y1="183.6" x2="87.6" y2="183.6"/>
<line x1="83.6" y1="196.8" x2="87.6" y2="196.8"/>
<line x1="83.6" y1="209.9" x2="87.6" y2="209.9"/>
<line x1="83.6" y1="223.0" x2="87.6" y2="223.0"/>
<line x1="83.6" y1="236.1" x2="87.6" y2="236.1"/>
<line x1="83.6" y1="249.2" x2="87.6" y2="249.2"/>
<line x1="83.6" y1="262.4" x2="87.6" y2="262.4"/>
<line x1="83.6" y1="275.5" x2="87.6" y2="275.5"/>
<line x1="81.6" y1="288.6" x2="87.6" y2="288.6"/>
<line x1="123.3" y1="288.6" x2="123.3" y2="295.1"/>
<line x1="175.7" y1="288.6" x2="175.7" y2="295.1"/>
<line x1="229.3" y1="288.6" x2="229.3" y2="295.1"/>
</g>
<text x="59.8" y="34.0" font-size="18" fill="#000" letter-spacing="0.2" >1.0</text>
<text x="59.9" y="165.5" font-size="18" fill="#000" letter-spacing="0.2" >0.5</text>
<text x="59.8" y="294.4" font-size="18" fill="#000" letter-spacing="0.2" >0.0</text>
<path d="M92,285.6 L106,284.2 L115.5,283.6 L116,279.6 L131,279.6 L131.5,283.6 L141,284.2 L153,285.6 L141,287 L130,288.2 L129,290 L118.3,290 L117.5,288.2 L106,287 Z" fill="#111"/>
<path d="M106,284.6 L116.5,284 L117,280.5 L130,280.5 L130.5,284 L140.3,284.6 L140.3,287.5 L129,287.5 L128.5,289.5 L119,289.5 L118.5,287.5 L106,287.5 Z" fill="#1f9a50"/>
<path d="M197.7,285.6 L211,283.5 L218,280.5 L226.5,279.6 L227,264.2 L231,264.2 L231.5,279.6 L240,280.5 L246,283.5 L259.4,285.6 L246,287.2 L236,288.6 L235,290.5 L223,290.5 L222,288.6 L211,287.2 Z" fill="#111"/>
<path d="M211.5,284.2 L218.5,281.3 L240,281.3 L245.5,284.2 L245.5,287.6 L234,287.6 L233.5,289.8 L224,289.8 L223.5,287.6 L211.5,287.6 Z" fill="#b4b4b4"/>
<ellipse cx="229" cy="268" rx="1.3" ry="2.2" fill="#b4b4b4"/><ellipse cx="229" cy="274.5" rx="1.3" ry="2.2" fill="#b4b4b4"/>
<path d="M158,32 C162,29.5 168,29.3 175.5,29.3 C183,29.3 189,29.5 194,32 C190,36 184,38.5 179,39.5 C177.5,43 177,47 176.5,51 C175.5,47 174.5,43 173,39.5 C168,38.5 162,36 158,32 Z" fill="none" stroke="#222" stroke-width="1"/>
<path d="M158.3,32 L163,30.4 L171.3,30.4 L171.3,27.7 L180.9,27.7 L180.9,30.4 L189.4,30.4 L193.7,32 L189.4,35.7 L187,38.5 L179.1,38.5 L179,44 L177.2,47.6 L176,50 L175,47.6 L173.2,44 L173.2,38.5 L165,38.5 L163,35.7 Z" fill="#1a3cff"/>
<circle cx="176" cy="52.7" r="1.9" fill="#1a3cff"/>
<text x="170.3" y="22.0" font-size="18" fill="#000" letter-spacing="0" >a</text>
<text x="116.9" y="274.3" font-size="18" fill="#000" letter-spacing="0" >b</text>
<text x="224.4" y="258.1" font-size="18" fill="#000" letter-spacing="0" >b</text>
<text x="105.1" y="307.9" font-size="18" fill="#000" letter-spacing="1.5" >Fruit</text>
<text x="159.7" y="307.9" font-size="18" fill="#000" letter-spacing="1.6" >Soil</text>
<text x="197.4" y="307.9" font-size="18" fill="#000" letter-spacing="1.6" >Unknown</text>
<text x="80.2" y="344.0" font-size="18" fill="#000" letter-spacing="0.96" >Soil sink</text>
<g transform="translate(27.2 485.0) rotate(-90)">
<text x="-52.6" y="4.7" font-size="18" fill="#000" letter-spacing="1.25" >Proportions</text>
</g>
<g stroke="#111" stroke-width="1.3">
<line x1="90.4" y1="358.9" x2="90.4" y2="620.9"/>
<line x1="89.80000000000001" y1="620.3" x2="266.3" y2="620.3"/>
<line x1="84.4" y1="358.9" x2="90.4" y2="358.9"/>
<line x1="86.4" y1="372.0" x2="90.4" y2="372.0"/>
<line x1="86.4" y1="385.0" x2="90.4" y2="385.0"/>
<line x1="86.4" y1="398.1" x2="90.4" y2="398.1"/>
<line x1="86.4" y1="411.2" x2="90.4" y2="411.2"/>
<line x1="86.4" y1="424.2" x2="90.4" y2="424.2"/>
<line x1="86.4" y1="437.3" x2="90.4" y2="437.3"/>
<line x1="86.4" y1="450.4" x2="90.4" y2="450.4"/>
<line x1="86.4" y1="463.5" x2="90.4" y2="463.5"/>
<line x1="86.4" y1="476.5" x2="90.4" y2="476.5"/>
<line x1="84.4" y1="489.6" x2="90.4" y2="489.6"/>
<line x1="86.4" y1="502.7" x2="90.4" y2="502.7"/>
<line x1="86.4" y1="515.7" x2="90.4" y2="515.7"/>
<line x1="86.4" y1="528.8" x2="90.4" y2="528.8"/>
<line x1="86.4" y1="541.9" x2="90.4" y2="541.9"/>
<line x1="86.4" y1="554.9" x2="90.4" y2="554.9"/>
<line x1="86.4" y1="568.0" x2="90.4" y2="568.0"/>
<line x1="86.4" y1="581.1" x2="90.4" y2="581.1"/>
<line x1="86.4" y1="594.2" x2="90.4" y2="594.2"/>
<line x1="86.4" y1="607.2" x2="90.4" y2="607.2"/>
<line x1="84.4" y1="620.3" x2="90.4" y2="620.3"/>
<line x1="125.3" y1="620.3" x2="125.3" y2="626.8"/>
<line x1="177.9" y1="620.3" x2="177.9" y2="626.8"/>
<line x1="231.0" y1="620.3" x2="231.0" y2="626.8"/>
</g>
<text x="59.3" y="364.9" font-size="18" fill="#000" letter-spacing="0.2" >1.0</text>
<text x="59.4" y="496.1" font-size="18" fill="#000" letter-spacing="0.2" >0.5</text>
<text x="59.3" y="626.6" font-size="18" fill="#000" letter-spacing="0.2" >0.0</text>
<path d="M125.60,434.50 C125.68,435.00 125.83,433.08 126.10,437.50 C126.37,441.92 126.75,453.17 127.20,461.00 C127.65,468.83 128.55,476.33 128.80,484.50 C129.05,492.67 128.73,498.25 128.70,510.00 C128.67,521.75 128.18,543.58 128.60,555.00 C129.02,566.42 130.00,572.62 131.20,578.50 C132.40,584.38 134.23,586.38 135.80,590.30 C137.37,594.22 139.47,598.48 140.60,602.00 C141.73,605.52 142.57,609.07 142.60,611.40 C142.63,613.73 141.68,614.87 140.80,616.00 C139.92,617.13 137.88,617.83 137.30,618.20 L113.30,618.20 C112.72,617.83 110.68,617.13 109.80,616.00 C108.92,614.87 107.97,613.73 108.00,611.40 C108.03,609.07 108.87,605.52 110.00,602.00 C111.13,598.48 113.23,594.22 114.80,590.30 C116.37,586.38 118.20,584.38 119.40,578.50 C120.60,572.62 121.58,566.42 122.00,555.00 C122.42,543.58 121.93,521.75 121.90,510.00 C121.87,498.25 121.55,492.67 121.80,484.50 C122.05,476.33 122.95,468.83 123.40,461.00 C123.85,453.17 124.23,441.92 124.50,437.50 C124.77,433.08 124.92,435.00 125.00,434.50 Z" fill="#fff" stroke="#111" stroke-width="1.2"/>
<path d="M187.60,363.80 C187.55,367.47 187.93,377.43 187.30,385.80 C186.67,394.17 185.12,406.17 183.80,414.00 C182.48,421.83 180.27,426.80 179.40,432.80 C178.53,438.80 178.73,433.80 178.60,450.00 C178.47,466.20 178.52,512.50 178.60,530.00 C178.68,547.50 177.95,546.92 179.10,555.00 C180.25,563.08 183.32,570.67 185.50,578.50 C187.68,586.33 190.63,595.42 192.20,602.00 C193.77,608.58 194.45,614.95 194.90,618.00 C195.35,621.05 194.90,619.92 194.90,620.30 L160.90,620.30 C160.90,619.92 160.45,621.05 160.90,618.00 C161.35,614.95 162.03,608.58 163.60,602.00 C165.17,595.42 168.12,586.33 170.30,578.50 C172.48,570.67 175.55,563.08 176.70,555.00 C177.85,546.92 177.12,547.50 177.20,530.00 C177.28,512.50 177.33,466.20 177.20,450.00 C177.07,433.80 177.27,438.80 176.40,432.80 C175.53,426.80 173.32,421.83 172.00,414.00 C170.68,406.17 169.13,394.17 168.50,385.80 C167.87,377.43 168.25,367.47 168.20,363.80 Z" fill="#fff" stroke="#111" stroke-width="1.0"/>
<path d="M240.00,368.60 C240.25,372.25 241.43,382.93 241.50,390.50 C241.57,398.07 240.65,406.17 240.40,414.00 C240.15,421.83 240.20,429.67 240.00,437.50 C239.80,445.33 239.72,453.17 239.20,461.00 C238.68,468.83 237.68,476.67 236.90,484.50 C236.12,492.33 235.10,500.17 234.50,508.00 C233.90,515.83 233.43,523.67 233.30,531.50 C233.17,539.33 232.52,547.17 233.70,555.00 C234.88,562.83 238.10,570.67 240.40,578.50 C242.70,586.33 246.20,595.42 247.50,602.00 C248.80,608.58 248.12,615.08 248.20,618.00 C248.28,620.92 248.03,619.25 248.00,619.50 L214.00,619.50 C213.97,619.25 213.72,620.92 213.80,618.00 C213.88,615.08 213.20,608.58 214.50,602.00 C215.80,595.42 219.30,586.33 221.60,578.50 C223.90,570.67 227.12,562.83 228.30,555.00 C229.48,547.17 228.83,539.33 228.70,531.50 C228.57,523.67 228.10,515.83 227.50,508.00 C226.90,500.17 225.88,492.33 225.10,484.50 C224.32,476.67 223.32,468.83 222.80,461.00 C222.28,453.17 222.20,445.33 222.00,437.50 C221.80,429.67 221.85,421.83 221.60,414.00 C221.35,406.17 220.43,398.07 220.50,390.50 C220.57,382.93 221.75,372.25 222.00,368.60 Z" fill="#fff" stroke="#111" stroke-width="1.0"/>
<circle cx="125.3" cy="437.0" r="1.15" fill="#1ea01e"/>
<circle cx="125.3" cy="451.0" r="1.15" fill="#1ea01e"/>
<circle cx="125.3" cy="462.0" r="1.15" fill="#1ea01e"/>
<circle cx="125.3" cy="470.0" r="1.15" fill="#1ea01e"/>
<circle cx="125.3" cy="474.0" r="1.15" fill="#1ea01e"/>
<circle cx="125.3" cy="479.0" r="1.15" fill="#1ea01e"/>
<circle cx="123.6" cy="484.0" r="1.15" fill="#1ea01e"/>
<circle cx="127.0" cy="484.0" r="1.15" fill="#1ea01e"/>
<circle cx="123.6" cy="488.0" r="1.15" fill="#1ea01e"/>
<circle cx="127.0" cy="488.0" r="1.15" fill="#1ea01e"/>
<circle cx="123.6" cy="492.0" r="1.15" fill="#1ea01e"/>
<circle cx="127.0" cy="492.0" r="1.15" fill="#1ea01e"/>
<circle cx="123.6" cy="497.0" r="1.15" fill="#1ea01e"/>
<circle cx="127.0" cy="497.0" r="1.15" fill="#1ea01e"/>
<circle cx="123.6" cy="501.0" r="1.15" fill="#1ea01e"/>
<circle cx="127.0" cy="506.0" r="1.15" fill="#1ea01e"/>
<circle cx="123.6" cy="511.0" r="1.15" fill="#1ea01e"/>
<circle cx="127.0" cy="511.0" r="1.15" fill="#1ea01e"/>
<circle cx="123.6" cy="516.0" r="1.15" fill="#1ea01e"/>
<circle cx="127.0" cy="516.0" r="1.15" fill="#1ea01e"/>
<circle cx="123.6" cy="521.0" r="1.15" fill="#1ea01e"/>
<circle cx="127.0" cy="521.0" r="1.15" fill="#1ea01e"/>
<circle cx="123.6" cy="526.0" r="1.15" fill="#1ea01e"/>
<circle cx="123.6" cy="531.0" r="1.15" fill="#1ea01e"/>
<circle cx="127.0" cy="531.0" r="1.15" fill="#1ea01e"/>
<circle cx="123.6" cy="536.0" r="1.15" fill="#1ea01e"/>
<circle cx="127.0" cy="536.0" r="1.15" fill="#1ea01e"/>
<circle cx="123.6" cy="541.0" r="1.15" fill="#1ea01e"/>
<circle cx="127.0" cy="541.0" r="1.15" fill="#1ea01e"/>
<circle cx="123.6" cy="546.0" r="1.15" fill="#1ea01e"/>
<circle cx="123.6" cy="551.0" r="1.15" fill="#1ea01e"/>
<circle cx="127.0" cy="551.0" r="1.15" fill="#1ea01e"/>
<circle cx="127.0" cy="556.0" r="1.15" fill="#1ea01e"/>
<circle cx="123.6" cy="561.0" r="1.15" fill="#1ea01e"/>
<circle cx="123.6" cy="566.0" r="1.15" fill="#1ea01e"/>
<circle cx="127.0" cy="566.0" r="1.15" fill="#1ea01e"/>
<circle cx="121.9" cy="570.0" r="1.15" fill="#1ea01e"/>
<circle cx="121.9" cy="574.0" r="1.15" fill="#1ea01e"/>
<circle cx="125.3" cy="574.0" r="1.15" fill="#1ea01e"/>
<circle cx="128.7" cy="574.0" r="1.15" fill="#1ea01e"/>
<circle cx="121.9" cy="578.0" r="1.15" fill="#1ea01e"/>
<circle cx="125.3" cy="578.0" r="1.15" fill="#1ea01e"/>
<circle cx="128.7" cy="578.0" r="1.15" fill="#1ea01e"/>
<circle cx="123.6" cy="582.0" r="1.15" fill="#1ea01e"/>
<circle cx="127.0" cy="582.0" r="1.15" fill="#1ea01e"/>
<circle cx="130.4" cy="582.0" r="1.15" fill="#1ea01e"/>
<circle cx="125.3" cy="586.0" r="1.15" fill="#1ea01e"/>
<circle cx="128.7" cy="586.0" r="1.15" fill="#1ea01e"/>
<circle cx="116.8" cy="590.0" r="1.15" fill="#1ea01e"/>
<circle cx="120.2" cy="590.0" r="1.15" fill="#1ea01e"/>
<circle cx="123.6" cy="590.0" r="1.15" fill="#1ea01e"/>
<circle cx="127.0" cy="590.0" r="1.15" fill="#1ea01e"/>
<circle cx="130.4" cy="590.0" r="1.15" fill="#1ea01e"/>
<circle cx="133.8" cy="590.0" r="1.15" fill="#1ea01e"/>
<circle cx="118.5" cy="594.0" r="1.15" fill="#1ea01e"/>
<circle cx="125.3" cy="594.0" r="1.15" fill="#1ea01e"/>
<circle cx="132.1" cy="594.0" r="1.15" fill="#1ea01e"/>
<circle cx="135.5" cy="594.0" r="1.15" fill="#1ea01e"/>
<circle cx="113.4" cy="598.0" r="1.15" fill="#1ea01e"/>
<circle cx="116.8" cy="598.0" r="1.15" fill="#1ea01e"/>
<circle cx="120.2" cy="598.0" r="1.15" fill="#1ea01e"/>
<circle cx="123.6" cy="598.0" r="1.15" fill="#1ea01e"/>
<circle cx="127.0" cy="598.0" r="1.15" fill="#1ea01e"/>
<circle cx="130.4" cy="598.0" r="1.15" fill="#1ea01e"/>
<circle cx="137.2" cy="598.0" r="1.15" fill="#1ea01e"/>
<circle cx="111.7" cy="602.0" r="1.15" fill="#1ea01e"/>
<circle cx="115.1" cy="602.0" r="1.15" fill="#1ea01e"/>
<circle cx="118.5" cy="602.0" r="1.15" fill="#1ea01e"/>
<circle cx="125.3" cy="602.0" r="1.15" fill="#1ea01e"/>
<circle cx="128.7" cy="602.0" r="1.15" fill="#1ea01e"/>
<circle cx="132.1" cy="602.0" r="1.15" fill="#1ea01e"/>
<circle cx="135.5" cy="602.0" r="1.15" fill="#1ea01e"/>
<circle cx="138.9" cy="602.0" r="1.15" fill="#1ea01e"/>
<circle cx="111.7" cy="606.0" r="1.15" fill="#1ea01e"/>
<circle cx="118.5" cy="606.0" r="1.15" fill="#1ea01e"/>
<circle cx="121.9" cy="606.0" r="1.15" fill="#1ea01e"/>
<circle cx="128.7" cy="606.0" r="1.15" fill="#1ea01e"/>
<circle cx="132.1" cy="606.0" r="1.15" fill="#1ea01e"/>
<circle cx="138.9" cy="606.0" r="1.15" fill="#1ea01e"/>
<circle cx="110.0" cy="610.0" r="1.15" fill="#1ea01e"/>
<circle cx="113.4" cy="610.0" r="1.15" fill="#1ea01e"/>
<circle cx="116.8" cy="610.0" r="1.15" fill="#1ea01e"/>
<circle cx="120.2" cy="610.0" r="1.15" fill="#1ea01e"/>
<circle cx="123.6" cy="610.0" r="1.15" fill="#1ea01e"/>
<circle cx="127.0" cy="610.0" r="1.15" fill="#1ea01e"/>
<circle cx="133.8" cy="610.0" r="1.15" fill="#1ea01e"/>
<circle cx="137.2" cy="610.0" r="1.15" fill="#1ea01e"/>
<circle cx="140.6" cy="610.0" r="1.15" fill="#1ea01e"/>
<circle cx="111.7" cy="614.0" r="1.15" fill="#1ea01e"/>
<circle cx="115.1" cy="614.0" r="1.15" fill="#1ea01e"/>
<circle cx="118.5" cy="614.0" r="1.15" fill="#1ea01e"/>
<circle cx="121.9" cy="614.0" r="1.15" fill="#1ea01e"/>
<circle cx="125.3" cy="614.0" r="1.15" fill="#1ea01e"/>
<circle cx="128.7" cy="614.0" r="1.15" fill="#1ea01e"/>
<circle cx="132.1" cy="614.0" r="1.15" fill="#1ea01e"/>
<circle cx="138.9" cy="614.0" r="1.15" fill="#1ea01e"/>
<line x1="113" y1="596" x2="137.5" y2="596" stroke="#222" stroke-width="1" stroke-dasharray="3 2"/>
<circle cx="177.9" cy="364" r="1.2" fill="#f03a1a"/>
<circle cx="176" cy="369" r="1.2" fill="#f03a1a"/>
<circle cx="179.5" cy="369" r="1.2" fill="#f03a1a"/>
<circle cx="177.9" cy="372" r="1.2" fill="#f03a1a"/>
<circle cx="175" cy="375" r="1.2" fill="#f03a1a"/>
<circle cx="178" cy="375" r="1.2" fill="#f03a1a"/>
<circle cx="181" cy="375" r="1.2" fill="#f03a1a"/>
<circle cx="177" cy="379" r="1.2" fill="#f03a1a"/>
<circle cx="180" cy="379" r="1.2" fill="#f03a1a"/>
<circle cx="176" cy="383" r="1.2" fill="#f03a1a"/>
<circle cx="179" cy="383" r="1.2" fill="#f03a1a"/>
<circle cx="177.5" cy="387" r="1.2" fill="#f03a1a"/>
<circle cx="180" cy="387" r="1.2" fill="#f03a1a"/>
<circle cx="176" cy="390" r="1.2" fill="#f03a1a"/>
<circle cx="179" cy="391" r="1.2" fill="#f03a1a"/>
<circle cx="177.5" cy="395" r="1.2" fill="#f03a1a"/>
<circle cx="180" cy="395" r="1.2" fill="#f03a1a"/>
<circle cx="176.5" cy="399" r="1.2" fill="#f03a1a"/>
<circle cx="179.5" cy="399" r="1.2" fill="#f03a1a"/>
<circle cx="178" cy="403" r="1.2" fill="#f03a1a"/>
<circle cx="177" cy="407" r="1.2" fill="#f03a1a"/>
<circle cx="178" cy="432.6" r="1.2" fill="#f03a1a"/>
<circle cx="178" cy="594.5" r="1.2" fill="#f03a1a"/>
<circle cx="178" cy="618" r="1.2" fill="#f03a1a"/>
<line x1="169" y1="385" x2="187" y2="385" stroke="#f06040" stroke-width="1" stroke-dasharray="3 2"/>
<rect x="163" y="618.6" width="32.5" height="2.6" fill="#f02a10"/>
<circle cx="227.5" cy="373.0" r="1.15" fill="#b0b0b0"/>
<circle cx="231.0" cy="373.0" r="1.15" fill="#b0b0b0"/>
<circle cx="234.5" cy="373.0" r="1.15" fill="#b0b0b0"/>
<circle cx="231.0" cy="377.0" r="1.15" fill="#b0b0b0"/>
<circle cx="227.5" cy="381.0" r="1.15" fill="#b0b0b0"/>
<circle cx="231.0" cy="381.0" r="1.15" fill="#b0b0b0"/>
<circle cx="227.5" cy="385.0" r="1.15" fill="#b0b0b0"/>
<circle cx="234.5" cy="385.0" r="1.15" fill="#b0b0b0"/>
<circle cx="227.5" cy="389.0" r="1.15" fill="#b0b0b0"/>
<circle cx="231.0" cy="389.0" r="1.15" fill="#b0b0b0"/>
<circle cx="234.5" cy="389.0" r="1.15" fill="#b0b0b0"/>
<circle cx="227.5" cy="393.0" r="1.15" fill="#b0b0b0"/>
<circle cx="231.0" cy="393.0" r="1.15" fill="#b0b0b0"/>
<circle cx="234.5" cy="393.0" r="1.15" fill="#b0b0b0"/>
<circle cx="227.5" cy="397.0" r="1.15" fill="#b0b0b0"/>
<circle cx="234.5" cy="397.0" r="1.15" fill="#b0b0b0"/>
<circle cx="227.5" cy="401.0" r="1.15" fill="#b0b0b0"/>
<circle cx="231.0" cy="401.0" r="1.15" fill="#b0b0b0"/>
<circle cx="234.5" cy="401.0" r="1.15" fill="#b0b0b0"/>
<circle cx="227.5" cy="405.0" r="1.15" fill="#b0b0b0"/>
<circle cx="231.0" cy="405.0" r="1.15" fill="#b0b0b0"/>
<circle cx="234.5" cy="405.0" r="1.15" fill="#b0b0b0"/>
<circle cx="231.0" cy="410.0" r="1.15" fill="#b0b0b0"/>
<circle cx="234.5" cy="410.0" r="1.15" fill="#b0b0b0"/>
<circle cx="234.5" cy="415.0" r="1.15" fill="#b0b0b0"/>
<circle cx="231.0" cy="420.0" r="1.15" fill="#b0b0b0"/>
<circle cx="234.5" cy="420.0" r="1.15" fill="#b0b0b0"/>
<circle cx="227.5" cy="425.0" r="1.15" fill="#b0b0b0"/>
<circle cx="234.5" cy="425.0" r="1.15" fill="#b0b0b0"/>
<circle cx="234.5" cy="430.0" r="1.15" fill="#b0b0b0"/>
<circle cx="227.5" cy="436.0" r="1.15" fill="#b0b0b0"/>
<circle cx="231.0" cy="436.0" r="1.15" fill="#b0b0b0"/>
<circle cx="234.5" cy="436.0" r="1.15" fill="#b0b0b0"/>
<circle cx="227.5" cy="442.0" r="1.15" fill="#b0b0b0"/>
<circle cx="231.0" cy="442.0" r="1.15" fill="#b0b0b0"/>
<circle cx="234.5" cy="442.0" r="1.15" fill="#b0b0b0"/>
<circle cx="227.5" cy="448.0" r="1.15" fill="#b0b0b0"/>
<circle cx="231.0" cy="448.0" r="1.15" fill="#b0b0b0"/>
<circle cx="234.5" cy="448.0" r="1.15" fill="#b0b0b0"/>
<circle cx="229.2" cy="454.0" r="1.15" fill="#b0b0b0"/>
<circle cx="232.8" cy="454.0" r="1.15" fill="#b0b0b0"/>
<circle cx="229.2" cy="461.0" r="1.15" fill="#b0b0b0"/>
<circle cx="232.8" cy="461.0" r="1.15" fill="#b0b0b0"/>
<circle cx="229.2" cy="467.0" r="1.15" fill="#b0b0b0"/>
<circle cx="232.8" cy="467.0" r="1.15" fill="#b0b0b0"/>
<circle cx="231.0" cy="474.0" r="1.15" fill="#b0b0b0"/>
<circle cx="231.0" cy="481.0" r="1.15" fill="#b0b0b0"/>
<circle cx="231.0" cy="488.0" r="1.15" fill="#b0b0b0"/>
<circle cx="231.0" cy="495.0" r="1.15" fill="#b0b0b0"/>
<circle cx="231.0" cy="503.0" r="1.15" fill="#b0b0b0"/>
<circle cx="231.0" cy="512.0" r="1.15" fill="#b0b0b0"/>
<circle cx="231.0" cy="520.0" r="1.15" fill="#b0b0b0"/>
<circle cx="231.0" cy="540.0" r="1.15" fill="#b0b0b0"/>
<circle cx="231.0" cy="548.0" r="1.15" fill="#b0b0b0"/>
<circle cx="225.8" cy="575.0" r="1.15" fill="#b0b0b0"/>
<circle cx="229.2" cy="575.0" r="1.15" fill="#b0b0b0"/>
<circle cx="232.8" cy="575.0" r="1.15" fill="#b0b0b0"/>
<circle cx="224.0" cy="584.0" r="1.15" fill="#b0b0b0"/>
<circle cx="227.5" cy="584.0" r="1.15" fill="#b0b0b0"/>
<circle cx="238.0" cy="584.0" r="1.15" fill="#b0b0b0"/>
<circle cx="222.2" cy="589.0" r="1.15" fill="#b0b0b0"/>
<circle cx="225.8" cy="589.0" r="1.15" fill="#b0b0b0"/>
<circle cx="229.2" cy="589.0" r="1.15" fill="#b0b0b0"/>
<circle cx="232.8" cy="589.0" r="1.15" fill="#b0b0b0"/>
<circle cx="236.2" cy="589.0" r="1.15" fill="#b0b0b0"/>
<circle cx="239.8" cy="589.0" r="1.15" fill="#b0b0b0"/>
<circle cx="224.0" cy="593.0" r="1.15" fill="#b0b0b0"/>
<circle cx="231.0" cy="593.0" r="1.15" fill="#b0b0b0"/>
<circle cx="234.5" cy="593.0" r="1.15" fill="#b0b0b0"/>
<circle cx="238.0" cy="593.0" r="1.15" fill="#b0b0b0"/>
<circle cx="220.5" cy="597.0" r="1.15" fill="#b0b0b0"/>
<circle cx="227.5" cy="597.0" r="1.15" fill="#b0b0b0"/>
<circle cx="231.0" cy="597.0" r="1.15" fill="#b0b0b0"/>
<circle cx="234.5" cy="597.0" r="1.15" fill="#b0b0b0"/>
<circle cx="238.0" cy="597.0" r="1.15" fill="#b0b0b0"/>
<circle cx="241.5" cy="597.0" r="1.15" fill="#b0b0b0"/>
<circle cx="218.8" cy="601.0" r="1.15" fill="#b0b0b0"/>
<circle cx="222.2" cy="601.0" r="1.15" fill="#b0b0b0"/>
<circle cx="229.2" cy="601.0" r="1.15" fill="#b0b0b0"/>
<circle cx="232.8" cy="601.0" r="1.15" fill="#b0b0b0"/>
<circle cx="239.8" cy="601.0" r="1.15" fill="#b0b0b0"/>
<circle cx="243.2" cy="601.0" r="1.15" fill="#b0b0b0"/>
<circle cx="218.8" cy="605.0" r="1.15" fill="#b0b0b0"/>
<circle cx="222.2" cy="605.0" r="1.15" fill="#b0b0b0"/>
<circle cx="225.8" cy="605.0" r="1.15" fill="#b0b0b0"/>
<circle cx="229.2" cy="605.0" r="1.15" fill="#b0b0b0"/>
<circle cx="232.8" cy="605.0" r="1.15" fill="#b0b0b0"/>
<circle cx="236.2" cy="605.0" r="1.15" fill="#b0b0b0"/>
<circle cx="243.2" cy="605.0" r="1.15" fill="#b0b0b0"/>
<circle cx="218.8" cy="609.0" r="1.15" fill="#b0b0b0"/>
<circle cx="222.2" cy="609.0" r="1.15" fill="#b0b0b0"/>
<circle cx="225.8" cy="609.0" r="1.15" fill="#b0b0b0"/>
<circle cx="229.2" cy="609.0" r="1.15" fill="#b0b0b0"/>
<circle cx="236.2" cy="609.0" r="1.15" fill="#b0b0b0"/>
<circle cx="239.8" cy="609.0" r="1.15" fill="#b0b0b0"/>
<circle cx="243.2" cy="609.0" r="1.15" fill="#b0b0b0"/>
<circle cx="218.8" cy="613.0" r="1.15" fill="#b0b0b0"/>
<circle cx="222.2" cy="613.0" r="1.15" fill="#b0b0b0"/>
<circle cx="225.8" cy="613.0" r="1.15" fill="#b0b0b0"/>
<circle cx="229.2" cy="613.0" r="1.15" fill="#b0b0b0"/>
<circle cx="232.8" cy="613.0" r="1.15" fill="#b0b0b0"/>
<circle cx="218.8" cy="617.0" r="1.15" fill="#b0b0b0"/>
<circle cx="222.2" cy="617.0" r="1.15" fill="#b0b0b0"/>
<circle cx="225.8" cy="617.0" r="1.15" fill="#b0b0b0"/>
<circle cx="229.2" cy="617.0" r="1.15" fill="#b0b0b0"/>
<circle cx="232.8" cy="617.0" r="1.15" fill="#b0b0b0"/>
<circle cx="236.2" cy="617.0" r="1.15" fill="#b0b0b0"/>
<circle cx="239.8" cy="617.0" r="1.15" fill="#b0b0b0"/>
<circle cx="243.2" cy="617.0" r="1.15" fill="#b0b0b0"/>
<line x1="222" y1="484" x2="240" y2="484" stroke="#555" stroke-width="1" stroke-dasharray="3 2"/>
<line x1="216" y1="605" x2="246" y2="605" stroke="#bbb" stroke-width="1" stroke-dasharray="3 2"/>
<text x="120.9" y="430.5" font-size="18" fill="#000" letter-spacing="0" >b</text>
<text x="172.3" y="356.4" font-size="18" fill="#000" letter-spacing="0" >a</text>
<text x="225.8" y="363.5" font-size="18" fill="#000" letter-spacing="0" >a</text>
<text x="102.0" y="641.0" font-size="18" fill="#000" letter-spacing="1.38" >Fruit</text>
<text x="156.1" y="641.0" font-size="18" fill="#000" letter-spacing="1.5" >Gut</text>
<text x="193.7" y="641.0" font-size="18" fill="#000" letter-spacing="1.62" >Unknown</text>
<text x="65.8" y="682.5" font-size="18" fill="#000" letter-spacing="1.1" >Fruit sink</text>
<g transform="translate(30.2 834.0) rotate(-90)">
<text x="-52.6" y="4.7" font-size="18" fill="#000" letter-spacing="1.25" >Proportions</text>
</g>
<g stroke="#111" stroke-width="1.3">
<line x1="89.4" y1="698.3" x2="89.4" y2="960.6"/>
<line x1="88.80000000000001" y1="960.0" x2="265.6" y2="960.0"/>
<line x1="83.4" y1="698.3" x2="89.4" y2="698.3"/>
<line x1="83.4" y1="750.6" x2="89.4" y2="750.6"/>
<line x1="83.4" y1="803.0" x2="89.4" y2="803.0"/>
<line x1="83.4" y1="855.3" x2="89.4" y2="855.3"/>
<line x1="83.4" y1="907.7" x2="89.4" y2="907.7"/>
<line x1="83.4" y1="960.0" x2="89.4" y2="960.0"/>
<line x1="124.6" y1="960.0" x2="124.6" y2="966.5"/>
<line x1="177.8" y1="960.0" x2="177.8" y2="966.5"/>
<line x1="231.0" y1="960.0" x2="231.0" y2="966.5"/>
</g>
<text x="58.4" y="703.0" font-size="18" fill="#000" letter-spacing="0.2" >1.0</text>
<text x="58.5" y="755.2" font-size="18" fill="#000" letter-spacing="0.2" >0.8</text>
<text x="58.5" y="807.7" font-size="18" fill="#000" letter-spacing="0.2" >0.6</text>
<text x="58.3" y="860.0" font-size="18" fill="#000" letter-spacing="0.2" >0.4</text>
<text x="58.6" y="912.4" font-size="18" fill="#000" letter-spacing="0.2" >0.2</text>
<text x="58.4" y="964.7" font-size="18" fill="#000" letter-spacing="0.2" >0.0</text>
<line x1="124.6" y1="889.3" x2="124.6" y2="958" stroke="#222" stroke-width="0.9"/>
<circle cx="124.6" cy="889.5" r="1.2" fill="#f03a1a"/>
<circle cx="124.6" cy="899" r="1.2" fill="#f03a1a"/>
<circle cx="124.6" cy="901" r="1.2" fill="#f03a1a"/>
<circle cx="124.6" cy="905" r="1.2" fill="#f03a1a"/>
<circle cx="124.6" cy="908" r="1.2" fill="#f03a1a"/>
<circle cx="124.6" cy="913" r="1.2" fill="#f03a1a"/>
<circle cx="124.6" cy="925" r="1.2" fill="#f03a1a"/>
<circle cx="124.6" cy="927" r="1.2" fill="#f03a1a"/>
<circle cx="124.6" cy="930" r="1.2" fill="#f03a1a"/>
<circle cx="124.6" cy="933" r="1.2" fill="#f03a1a"/>
<circle cx="124.6" cy="936" r="1.2" fill="#f03a1a"/>
<circle cx="124.6" cy="939" r="1.2" fill="#f03a1a"/>
<circle cx="124.6" cy="943" r="1.2" fill="#f03a1a"/>
<circle cx="124.6" cy="947" r="1.2" fill="#f03a1a"/>
<circle cx="124.6" cy="951" r="1.2" fill="#f03a1a"/>
<circle cx="124.6" cy="954" r="1.2" fill="#f03a1a"/>
<rect x="108" y="955.8" width="33.5" height="4.6" fill="#f0300c"/>
<path d="M183.20,716.40 C184.02,719.10 186.78,725.87 188.10,732.60 C189.42,739.33 190.15,748.73 191.10,756.80 C192.05,764.87 193.15,775.03 193.80,781.00 C194.45,786.97 194.85,788.58 195.00,792.60 C195.15,796.62 194.85,801.00 194.70,805.10 C194.55,809.20 195.00,813.17 194.10,817.20 C193.20,821.23 190.92,823.25 189.30,829.30 C187.68,835.35 185.62,845.43 184.40,853.50 C183.18,861.57 182.73,871.65 182.00,877.70 C181.27,883.75 180.62,886.17 180.00,889.80 C179.38,893.43 178.58,897.88 178.30,899.50 L177.30,899.50 C177.02,897.88 176.22,893.43 175.60,889.80 C174.98,886.17 174.33,883.75 173.60,877.70 C172.87,871.65 172.42,861.57 171.20,853.50 C169.98,845.43 167.92,835.35 166.30,829.30 C164.68,823.25 162.40,821.23 161.50,817.20 C160.60,813.17 161.05,809.20 160.90,805.10 C160.75,801.00 160.45,796.62 160.60,792.60 C160.75,788.58 161.15,786.97 161.80,781.00 C162.45,775.03 163.55,764.87 164.50,756.80 C165.45,748.73 166.18,739.33 167.50,732.60 C168.82,725.87 171.58,719.10 172.40,716.40 Z" fill="#fff" stroke="#111" stroke-width="1.0"/>
<circle cx="177.8" cy="716.5" r="1.25" fill="#1a44ff"/>
<circle cx="175.5" cy="722.0" r="1.25" fill="#1a44ff"/>
<circle cx="180.1" cy="722.0" r="1.25" fill="#1a44ff"/>
<circle cx="180.1" cy="727.0" r="1.25" fill="#1a44ff"/>
<circle cx="175.5" cy="731.0" r="1.25" fill="#1a44ff"/>
<circle cx="173.2" cy="736.0" r="1.25" fill="#1a44ff"/>
<circle cx="177.8" cy="736.0" r="1.25" fill="#1a44ff"/>
<circle cx="182.4" cy="736.0" r="1.25" fill="#1a44ff"/>
<circle cx="173.2" cy="741.0" r="1.25" fill="#1a44ff"/>
<circle cx="177.8" cy="741.0" r="1.25" fill="#1a44ff"/>
<circle cx="182.4" cy="741.0" r="1.25" fill="#1a44ff"/>
<circle cx="173.2" cy="745.0" r="1.25" fill="#1a44ff"/>
<circle cx="177.8" cy="745.0" r="1.25" fill="#1a44ff"/>
<circle cx="182.4" cy="745.0" r="1.25" fill="#1a44ff"/>
<circle cx="173.2" cy="750.0" r="1.25" fill="#1a44ff"/>
<circle cx="177.8" cy="750.0" r="1.25" fill="#1a44ff"/>
<circle cx="182.4" cy="750.0" r="1.25" fill="#1a44ff"/>
<circle cx="177.8" cy="754.0" r="1.25" fill="#1a44ff"/>
<circle cx="182.4" cy="754.0" r="1.25" fill="#1a44ff"/>
<circle cx="170.9" cy="759.0" r="1.25" fill="#1a44ff"/>
<circle cx="175.5" cy="759.0" r="1.25" fill="#1a44ff"/>
<circle cx="180.1" cy="759.0" r="1.25" fill="#1a44ff"/>
<circle cx="184.7" cy="759.0" r="1.25" fill="#1a44ff"/>
<circle cx="170.9" cy="763.0" r="1.25" fill="#1a44ff"/>
<circle cx="175.5" cy="763.0" r="1.25" fill="#1a44ff"/>
<circle cx="180.1" cy="763.0" r="1.25" fill="#1a44ff"/>
<circle cx="184.7" cy="763.0" r="1.25" fill="#1a44ff"/>
<circle cx="170.9" cy="768.0" r="1.25" fill="#1a44ff"/>
<circle cx="175.5" cy="768.0" r="1.25" fill="#1a44ff"/>
<circle cx="180.1" cy="768.0" r="1.25" fill="#1a44ff"/>
<circle cx="184.7" cy="768.0" r="1.25" fill="#1a44ff"/>
<circle cx="170.9" cy="772.0" r="1.25" fill="#1a44ff"/>
<circle cx="184.7" cy="772.0" r="1.25" fill="#1a44ff"/>
<circle cx="170.9" cy="777.0" r="1.25" fill="#1a44ff"/>
<circle cx="175.5" cy="777.0" r="1.25" fill="#1a44ff"/>
<circle cx="180.1" cy="777.0" r="1.25" fill="#1a44ff"/>
<circle cx="184.7" cy="777.0" r="1.25" fill="#1a44ff"/>
<circle cx="175.5" cy="781.0" r="1.25" fill="#1a44ff"/>
<circle cx="180.1" cy="781.0" r="1.25" fill="#1a44ff"/>
<circle cx="184.7" cy="781.0" r="1.25" fill="#1a44ff"/>
<circle cx="170.9" cy="786.0" r="1.25" fill="#1a44ff"/>
<circle cx="180.1" cy="786.0" r="1.25" fill="#1a44ff"/>
<circle cx="184.7" cy="786.0" r="1.25" fill="#1a44ff"/>
<circle cx="170.9" cy="790.0" r="1.25" fill="#1a44ff"/>
<circle cx="175.5" cy="790.0" r="1.25" fill="#1a44ff"/>
<circle cx="180.1" cy="790.0" r="1.25" fill="#1a44ff"/>
<circle cx="184.7" cy="790.0" r="1.25" fill="#1a44ff"/>
<circle cx="170.9" cy="795.0" r="1.25" fill="#1a44ff"/>
<circle cx="180.1" cy="795.0" r="1.25" fill="#1a44ff"/>
<circle cx="184.7" cy="795.0" r="1.25" fill="#1a44ff"/>
<circle cx="170.9" cy="799.0" r="1.25" fill="#1a44ff"/>
<circle cx="175.5" cy="799.0" r="1.25" fill="#1a44ff"/>
<circle cx="180.1" cy="799.0" r="1.25" fill="#1a44ff"/>
<circle cx="184.7" cy="799.0" r="1.25" fill="#1a44ff"/>
<circle cx="170.9" cy="804.0" r="1.25" fill="#1a44ff"/>
<circle cx="180.1" cy="804.0" r="1.25" fill="#1a44ff"/>
<circle cx="184.7" cy="804.0" r="1.25" fill="#1a44ff"/>
<circle cx="170.9" cy="808.0" r="1.25" fill="#1a44ff"/>
<circle cx="175.5" cy="808.0" r="1.25" fill="#1a44ff"/>
<circle cx="180.1" cy="808.0" r="1.25" fill="#1a44ff"/>
<circle cx="175.5" cy="813.0" r="1.25" fill="#1a44ff"/>
<circle cx="180.1" cy="813.0" r="1.25" fill="#1a44ff"/>
<circle cx="170.9" cy="817.0" r="1.25" fill="#1a44ff"/>
<circle cx="175.5" cy="817.0" r="1.25" fill="#1a44ff"/>
<circle cx="180.1" cy="817.0" r="1.25" fill="#1a44ff"/>
<circle cx="184.7" cy="817.0" r="1.25" fill="#1a44ff"/>
<circle cx="170.9" cy="822.0" r="1.25" fill="#1a44ff"/>
<circle cx="175.5" cy="822.0" r="1.25" fill="#1a44ff"/>
<circle cx="180.1" cy="822.0" r="1.25" fill="#1a44ff"/>
<circle cx="184.7" cy="822.0" r="1.25" fill="#1a44ff"/>
<circle cx="173.2" cy="826.0" r="1.25" fill="#1a44ff"/>
<circle cx="182.4" cy="826.0" r="1.25" fill="#1a44ff"/>
<circle cx="173.2" cy="831.0" r="1.25" fill="#1a44ff"/>
<circle cx="177.8" cy="831.0" r="1.25" fill="#1a44ff"/>
<circle cx="175.5" cy="835.0" r="1.25" fill="#1a44ff"/>
<circle cx="180.1" cy="835.0" r="1.25" fill="#1a44ff"/>
<circle cx="175.5" cy="840.0" r="1.25" fill="#1a44ff"/>
<circle cx="180.1" cy="840.0" r="1.25" fill="#1a44ff"/>
<circle cx="175.5" cy="845.0" r="1.25" fill="#1a44ff"/>
<circle cx="180.1" cy="845.0" r="1.25" fill="#1a44ff"/>
<circle cx="175.5" cy="849.0" r="1.25" fill="#1a44ff"/>
<circle cx="180.1" cy="849.0" r="1.25" fill="#1a44ff"/>
<circle cx="175.5" cy="854.0" r="1.25" fill="#1a44ff"/>
<circle cx="180.1" cy="854.0" r="1.25" fill="#1a44ff"/>
<circle cx="175.5" cy="858.0" r="1.25" fill="#1a44ff"/>
<circle cx="180.1" cy="858.0" r="1.25" fill="#1a44ff"/>
<circle cx="177.8" cy="866.0" r="1.25" fill="#1a44ff"/>
<circle cx="177.8" cy="870.0" r="1.25" fill="#1a44ff"/>
<circle cx="177.8" cy="876.0" r="1.25" fill="#1a44ff"/>
<circle cx="177.8" cy="885.0" r="1.25" fill="#1a44ff"/>
<circle cx="177.8" cy="895.0" r="1.25" fill="#1a44ff"/>
<line x1="161" y1="792.6" x2="195" y2="792.6" stroke="#222" stroke-width="1.1" stroke-dasharray="4 2"/>
<line x1="165" y1="756.5" x2="191" y2="756.5" stroke="#6a8aff" stroke-width="0.9" stroke-dasharray="3 2"/>
<line x1="162" y1="818.5" x2="194" y2="818.5" stroke="#6a8aff" stroke-width="0.9" stroke-dasharray="3 2"/>
<path d="M232.00,787.50 C232.25,787.92 233.07,787.07 233.50,790.00 C233.93,792.93 233.80,798.55 234.60,805.10 C235.40,811.65 236.48,821.23 238.30,829.30 C240.12,837.37 243.83,847.05 245.50,853.50 C247.17,859.95 248.10,863.97 248.30,868.00 C248.50,872.03 247.67,872.05 246.70,877.70 C245.73,883.35 243.23,893.83 242.50,901.90 C241.77,909.97 242.72,920.42 242.30,926.10 C241.88,931.78 241.22,933.38 240.00,936.00 C238.78,938.62 235.83,940.83 235.00,941.80 L227.00,941.80 C226.17,940.83 223.22,938.62 222.00,936.00 C220.78,933.38 220.12,931.78 219.70,926.10 C219.28,920.42 220.23,909.97 219.50,901.90 C218.77,893.83 216.27,883.35 215.30,877.70 C214.33,872.05 213.50,872.03 213.70,868.00 C213.90,863.97 214.83,859.95 216.50,853.50 C218.17,847.05 221.88,837.37 223.70,829.30 C225.52,821.23 226.60,811.65 227.40,805.10 C228.20,798.55 228.07,792.93 228.50,790.00 C228.93,787.07 229.75,787.92 230.00,787.50 Z" fill="#fff" stroke="#111" stroke-width="1.0"/>
<circle cx="231.0" cy="792.0" r="1.15" fill="#c0c0c0"/>
<circle cx="231.0" cy="797.0" r="1.15" fill="#c0c0c0"/>
<circle cx="231.0" cy="802.0" r="1.15" fill="#c0c0c0"/>
<circle cx="231.0" cy="807.0" r="1.15" fill="#c0c0c0"/>
<circle cx="231.0" cy="812.0" r="1.15" fill="#c0c0c0"/>
<circle cx="231.0" cy="817.0" r="1.15" fill="#c0c0c0"/>
<circle cx="228.8" cy="822.0" r="1.15" fill="#c0c0c0"/>
<circle cx="233.2" cy="822.0" r="1.15" fill="#c0c0c0"/>
<circle cx="228.8" cy="827.0" r="1.15" fill="#c0c0c0"/>
<circle cx="233.2" cy="827.0" r="1.15" fill="#c0c0c0"/>
<circle cx="228.8" cy="832.0" r="1.15" fill="#c0c0c0"/>
<circle cx="233.2" cy="832.0" r="1.15" fill="#c0c0c0"/>
<circle cx="228.8" cy="837.0" r="1.15" fill="#c0c0c0"/>
<circle cx="233.2" cy="837.0" r="1.15" fill="#c0c0c0"/>
<circle cx="226.6" cy="842.0" r="1.15" fill="#c0c0c0"/>
<circle cx="231.0" cy="842.0" r="1.15" fill="#c0c0c0"/>
<circle cx="231.0" cy="847.0" r="1.15" fill="#c0c0c0"/>
<circle cx="235.4" cy="847.0" r="1.15" fill="#c0c0c0"/>
<circle cx="226.6" cy="852.0" r="1.15" fill="#c0c0c0"/>
<circle cx="231.0" cy="852.0" r="1.15" fill="#c0c0c0"/>
<circle cx="235.4" cy="852.0" r="1.15" fill="#c0c0c0"/>
<circle cx="224.4" cy="857.0" r="1.15" fill="#c0c0c0"/>
<circle cx="228.8" cy="857.0" r="1.15" fill="#c0c0c0"/>
<circle cx="233.2" cy="857.0" r="1.15" fill="#c0c0c0"/>
<circle cx="237.6" cy="857.0" r="1.15" fill="#c0c0c0"/>
<circle cx="224.4" cy="862.0" r="1.15" fill="#c0c0c0"/>
<circle cx="228.8" cy="862.0" r="1.15" fill="#c0c0c0"/>
<circle cx="233.2" cy="862.0" r="1.15" fill="#c0c0c0"/>
<circle cx="237.6" cy="862.0" r="1.15" fill="#c0c0c0"/>
<circle cx="224.4" cy="867.0" r="1.15" fill="#c0c0c0"/>
<circle cx="228.8" cy="867.0" r="1.15" fill="#c0c0c0"/>
<circle cx="233.2" cy="867.0" r="1.15" fill="#c0c0c0"/>
<circle cx="237.6" cy="867.0" r="1.15" fill="#c0c0c0"/>
<circle cx="224.4" cy="872.0" r="1.15" fill="#c0c0c0"/>
<circle cx="237.6" cy="872.0" r="1.15" fill="#c0c0c0"/>
<circle cx="224.4" cy="877.0" r="1.15" fill="#c0c0c0"/>
<circle cx="228.8" cy="877.0" r="1.15" fill="#c0c0c0"/>
<circle cx="233.2" cy="877.0" r="1.15" fill="#c0c0c0"/>
<circle cx="237.6" cy="877.0" r="1.15" fill="#c0c0c0"/>
<circle cx="224.4" cy="882.0" r="1.15" fill="#c0c0c0"/>
<circle cx="228.8" cy="882.0" r="1.15" fill="#c0c0c0"/>
<circle cx="233.2" cy="882.0" r="1.15" fill="#c0c0c0"/>
<circle cx="237.6" cy="882.0" r="1.15" fill="#c0c0c0"/>
<circle cx="226.6" cy="887.0" r="1.15" fill="#c0c0c0"/>
<circle cx="235.4" cy="887.0" r="1.15" fill="#c0c0c0"/>
<circle cx="226.6" cy="892.0" r="1.15" fill="#c0c0c0"/>
<circle cx="231.0" cy="892.0" r="1.15" fill="#c0c0c0"/>
<circle cx="226.6" cy="897.0" r="1.15" fill="#c0c0c0"/>
<circle cx="235.4" cy="897.0" r="1.15" fill="#c0c0c0"/>
<circle cx="226.6" cy="902.0" r="1.15" fill="#c0c0c0"/>
<circle cx="231.0" cy="902.0" r="1.15" fill="#c0c0c0"/>
<circle cx="235.4" cy="902.0" r="1.15" fill="#c0c0c0"/>
<circle cx="226.6" cy="907.0" r="1.15" fill="#c0c0c0"/>
<circle cx="231.0" cy="907.0" r="1.15" fill="#c0c0c0"/>
<circle cx="235.4" cy="907.0" r="1.15" fill="#c0c0c0"/>
<circle cx="231.0" cy="912.0" r="1.15" fill="#c0c0c0"/>
<circle cx="235.4" cy="912.0" r="1.15" fill="#c0c0c0"/>
<circle cx="226.6" cy="917.0" r="1.15" fill="#c0c0c0"/>
<circle cx="231.0" cy="917.0" r="1.15" fill="#c0c0c0"/>
<circle cx="235.4" cy="917.0" r="1.15" fill="#c0c0c0"/>
<circle cx="226.6" cy="922.0" r="1.15" fill="#c0c0c0"/>
<circle cx="231.0" cy="922.0" r="1.15" fill="#c0c0c0"/>
<circle cx="235.4" cy="922.0" r="1.15" fill="#c0c0c0"/>
<circle cx="226.6" cy="927.0" r="1.15" fill="#c0c0c0"/>
<circle cx="231.0" cy="927.0" r="1.15" fill="#c0c0c0"/>
<circle cx="235.4" cy="927.0" r="1.15" fill="#c0c0c0"/>
<circle cx="228.8" cy="932.0" r="1.15" fill="#c0c0c0"/>
<circle cx="233.2" cy="932.0" r="1.15" fill="#c0c0c0"/>
<circle cx="228.8" cy="937.0" r="1.15" fill="#c0c0c0"/>
<circle cx="233.2" cy="937.0" r="1.15" fill="#c0c0c0"/>
<line x1="214" y1="873.5" x2="248" y2="873.5" stroke="#222" stroke-width="1.1" stroke-dasharray="4 2"/>
<text x="119.8" y="885.0" font-size="18" fill="#000" letter-spacing="0" >c</text>
<text x="172.8" y="710.8" font-size="18" fill="#000" letter-spacing="0" >a</text>
<text x="222.9" y="781.0" font-size="18" fill="#000" letter-spacing="0" >b</text>
<text x="110.9" y="977.4" font-size="18" fill="#000" letter-spacing="1.2" >Gut</text>
<text x="158.2" y="977.4" font-size="18" fill="#000" letter-spacing="1.33" >Soil</text>
<text x="195.7" y="977.4" font-size="18" fill="#000" letter-spacing="1.63" >Unknown</text>
<text x="146.8" y="1003.5" font-size="18" fill="#000" letter-spacing="1.38" >Source</text>
<text x="7.3" y="1024.7" font-size="27" fill="#000" letter-spacing="0" >b</text>
<rect x="0" y="1329.3" width="457.2" height="114.2" fill="#98652f"/>
<line x1="0" y1="1329.6" x2="457.2" y2="1329.6" stroke="#2a2a1a" stroke-width="0.8"/>
<path d="M120.0,1336.0 Q100.0,1346.9 77.5,1343.5" fill="none" stroke="#0f461a" stroke-width="6.4" stroke-linecap="round"/>
<path d="M77.5,1343.5 Q58.6,1345.6 39.7,1346.9" fill="none" stroke="#0f461a" stroke-width="4.0" stroke-linecap="round"/>
<path d="M39.7,1346.9 Q21.8,1345.1 6.0,1353.7" fill="none" stroke="#0f461a" stroke-width="2.5" stroke-linecap="round"/>
<path d="M39.7,1346.9 Q34.2,1362.7 21.6,1373.6" fill="none" stroke="#0f461a" stroke-width="2.5" stroke-linecap="round"/>
<path d="M77.5,1343.5 Q64.6,1356.0 54.1,1370.4" fill="none" stroke="#0f461a" stroke-width="4.0" stroke-linecap="round"/>
<path d="M54.1,1370.4 Q45.7,1384.9 31.2,1393.3" fill="none" stroke="#0f461a" stroke-width="2.5" stroke-linecap="round"/>
<path d="M54.1,1370.4 Q45.4,1382.7 49.9,1397.1" fill="none" stroke="#0f461a" stroke-width="2.5" stroke-linecap="round"/>
<path d="M120.0,1336.0 Q100.5,1341.8 85.7,1355.8" fill="none" stroke="#0f461a" stroke-width="6.4" stroke-linecap="round"/>
<path d="M85.7,1355.8 Q71.2,1368.2 52.4,1365.0" fill="none" stroke="#0f461a" stroke-width="4.0" stroke-linecap="round"/>
<path d="M52.4,1365.0 Q39.9,1374.6 24.2,1373.3" fill="none" stroke="#0f461a" stroke-width="2.5" stroke-linecap="round"/>
<path d="M52.4,1365.0 Q52.6,1380.1 43.5,1392.1" fill="none" stroke="#0f461a" stroke-width="2.5" stroke-linecap="round"/>
<path d="M85.7,1355.8 Q76.4,1369.7 80.0,1386.0" fill="none" stroke="#0f461a" stroke-width="4.0" stroke-linecap="round"/>
<path d="M80.0,1386.0 Q74.9,1398.3 66.2,1408.5" fill="none" stroke="#0f461a" stroke-width="2.5" stroke-linecap="round"/>
<path d="M80.0,1386.0 Q89.0,1395.8 87.2,1409.0" fill="none" stroke="#0f461a" stroke-width="2.5" stroke-linecap="round"/>
<path d="M120.0,1336.0 Q104.5,1347.2 99.9,1365.8" fill="none" stroke="#0f461a" stroke-width="6.4" stroke-linecap="round"/>
<path d="M99.9,1365.8 Q92.1,1380.9 77.4,1389.5" fill="none" stroke="#0f461a" stroke-width="4.0" stroke-linecap="round"/>
<path d="M77.4,1389.5 Q62.1,1392.5 50.0,1402.4" fill="none" stroke="#0f461a" stroke-width="2.5" stroke-linecap="round"/>
<path d="M77.4,1389.5 Q74.1,1403.6 77.3,1417.8" fill="none" stroke="#0f461a" stroke-width="2.5" stroke-linecap="round"/>
<path d="M99.9,1365.8 Q93.2,1380.4 96.5,1396.1" fill="none" stroke="#0f461a" stroke-width="4.0" stroke-linecap="round"/>
<path d="M96.5,1396.1 Q85.8,1406.9 85.2,1422.2" fill="none" stroke="#0f461a" stroke-width="2.5" stroke-linecap="round"/>
<path d="M96.5,1396.1 Q101.1,1407.8 104.6,1419.8" fill="none" stroke="#0f461a" stroke-width="2.5" stroke-linecap="round"/>
<path d="M120.0,1336.0 Q118.2,1354.9 112.1,1373.0" fill="none" stroke="#0f461a" stroke-width="6.4" stroke-linecap="round"/>
<path d="M112.1,1373.0 Q106.8,1389.4 90.7,1395.7" fill="none" stroke="#0f461a" stroke-width="4.0" stroke-linecap="round"/>
<path d="M90.7,1395.7 Q75.8,1400.2 70.2,1414.7" fill="none" stroke="#0f461a" stroke-width="2.5" stroke-linecap="round"/>
<path d="M90.7,1395.7 Q88.8,1408.9 88.2,1422.1" fill="none" stroke="#0f461a" stroke-width="2.5" stroke-linecap="round"/>
<path d="M112.1,1373.0 Q116.1,1387.5 123.2,1400.9" fill="none" stroke="#0f461a" stroke-width="4.0" stroke-linecap="round"/>
<path d="M123.2,1400.9 Q124.8,1414.6 118.2,1426.7" fill="none" stroke="#0f461a" stroke-width="2.5" stroke-linecap="round"/>
<path d="M123.2,1400.9 Q125.6,1414.1 136.8,1421.4" fill="none" stroke="#0f461a" stroke-width="2.5" stroke-linecap="round"/>
<path d="M120.0,1336.0 Q126.1,1354.1 126.6,1373.2" fill="none" stroke="#0f461a" stroke-width="6.4" stroke-linecap="round"/>
<path d="M126.6,1373.2 Q127.1,1389.7 116.1,1402.1" fill="none" stroke="#0f461a" stroke-width="4.0" stroke-linecap="round"/>
<path d="M116.1,1402.1 Q105.7,1412.2 102.0,1426.2" fill="none" stroke="#0f461a" stroke-width="2.5" stroke-linecap="round"/>
<path d="M116.1,1402.1 Q115.8,1415.9 120.1,1428.9" fill="none" stroke="#0f461a" stroke-width="2.5" stroke-linecap="round"/>
<path d="M126.6,1373.2 Q139.3,1385.8 149.4,1400.5" fill="none" stroke="#0f461a" stroke-width="4.0" stroke-linecap="round"/>
<path d="M149.4,1400.5 Q145.9,1417.0 145.5,1433.8" fill="none" stroke="#0f461a" stroke-width="2.5" stroke-linecap="round"/>
<path d="M149.4,1400.5 Q163.5,1406.3 175.7,1415.3" fill="none" stroke="#0f461a" stroke-width="2.5" stroke-linecap="round"/>
<path d="M120.0,1336.0 Q133.4,1348.9 139.1,1366.5" fill="none" stroke="#0f461a" stroke-width="6.4" stroke-linecap="round"/>
<path d="M139.1,1366.5 Q142.6,1381.5 134.1,1394.3" fill="none" stroke="#0f461a" stroke-width="4.0" stroke-linecap="round"/>
<path d="M134.1,1394.3 Q126.4,1404.4 118.4,1414.3" fill="none" stroke="#0f461a" stroke-width="2.5" stroke-linecap="round"/>
<path d="M134.1,1394.3 Q140.9,1402.9 143.1,1413.7" fill="none" stroke="#0f461a" stroke-width="2.5" stroke-linecap="round"/>
<path d="M139.1,1366.5 Q153.0,1374.1 159.6,1388.4" fill="none" stroke="#0f461a" stroke-width="4.0" stroke-linecap="round"/>
<path d="M159.6,1388.4 Q157.8,1401.5 165.5,1412.2" fill="none" stroke="#0f461a" stroke-width="2.5" stroke-linecap="round"/>
<path d="M159.6,1388.4 Q172.0,1393.9 184.1,1399.9" fill="none" stroke="#0f461a" stroke-width="2.5" stroke-linecap="round"/>
<path d="M120.0,1336.0 Q139.4,1342.3 153.6,1357.0" fill="none" stroke="#0f461a" stroke-width="6.4" stroke-linecap="round"/>
<path d="M153.6,1357.0 Q151.6,1374.2 157.4,1390.6" fill="none" stroke="#0f461a" stroke-width="4.0" stroke-linecap="round"/>
<path d="M157.4,1390.6 Q150.3,1402.9 152.2,1417.0" fill="none" stroke="#0f461a" stroke-width="2.5" stroke-linecap="round"/>
<path d="M157.4,1390.6 Q165.2,1404.3 175.5,1416.2" fill="none" stroke="#0f461a" stroke-width="2.5" stroke-linecap="round"/>
<path d="M153.6,1357.0 Q166.4,1369.9 184.4,1372.0" fill="none" stroke="#0f461a" stroke-width="4.0" stroke-linecap="round"/>
<path d="M184.4,1372.0 Q193.4,1384.1 196.3,1398.9" fill="none" stroke="#0f461a" stroke-width="2.5" stroke-linecap="round"/>
<path d="M184.4,1372.0 Q196.3,1377.6 209.4,1378.5" fill="none" stroke="#0f461a" stroke-width="2.5" stroke-linecap="round"/>
<path d="M120.0,1336.0 Q139.6,1349.4 162.5,1343.5" fill="none" stroke="#0f461a" stroke-width="6.4" stroke-linecap="round"/>
<path d="M162.5,1343.5 Q172.7,1359.5 186.9,1372.0" fill="none" stroke="#0f461a" stroke-width="4.0" stroke-linecap="round"/>
<path d="M186.9,1372.0 Q189.8,1388.5 184.9,1404.5" fill="none" stroke="#0f461a" stroke-width="2.5" stroke-linecap="round"/>
<path d="M186.9,1372.0 Q196.3,1388.6 214.6,1394.0" fill="none" stroke="#0f461a" stroke-width="2.5" stroke-linecap="round"/>
<path d="M162.5,1343.5 Q180.4,1341.7 194.4,1352.8" fill="none" stroke="#0f461a" stroke-width="4.0" stroke-linecap="round"/>
<path d="M194.4,1352.8 Q206.7,1361.2 210.8,1375.4" fill="none" stroke="#0f461a" stroke-width="2.5" stroke-linecap="round"/>
<path d="M194.4,1352.8 Q209.6,1349.0 223.5,1355.9" fill="none" stroke="#0f461a" stroke-width="2.5" stroke-linecap="round"/>
<path d="M104,1330 L136,1330 L133,1344 L107,1344 Z" fill="#0f461a"/>
<polygon points="0,1330 0.0,1324.9 3.4,1329.2 5.0,1325.9 7.0,1327.5 7.8,1322.0 10.2,1328.6 11.5,1325.2 14.6,1329.3 15.5,1326.4 17.5,1328.7 19.4,1323.8 21.1,1329.0 23.1,1326.1 25.8,1328.7 27.3,1324.1 30.2,1328.5 31.7,1320.2 34.3,1329.2 34.9,1319.9 37.4,1329.1 39.3,1322.4 42.3,1327.7 43.2,1324.0 46.5,1329.2 48.1,1325.8 51.0,1328.1 52.9,1320.6 55.4,1329.1 56.1,1322.8 58.7,1329.4 60.5,1322.9 63.4,1329.1 64.3,1326.4 66.5,1329.0 67.6,1323.9 70.8,1327.7 71.5,1323.7 73.4,1328.2 75.3,1325.1 78.4,1328.9 78.9,1321.1 81.1,1329.2 82.2,1324.9 84.5,1328.6 85.7,1322.4 87.7,1329.3 88.4,1325.8 90.9,1328.8 92.6,1323.0 95.5,1327.5 96.1,1326.4 97.9,1328.7 99.3,1321.3 101.5,1327.6 102.0,1320.7 103.9,1327.7 104.5,1319.7 107.5,1327.5 108.8,1325.3 112.3,1328.6 112.9,1322.3 115.4,1328.6 116.1,1325.6 118.8,1328.6 119.5,1323.4 122.4,1328.1 123.6,1323.7 125.9,1329.0 126.7,1323.4 128.4,1328.0 129.9,1322.2 131.5,1328.8 132.6,1325.8 136.1,1328.0 137.3,1321.6 139.2,1329.0 140.5,1321.3 143.3,1329.5 144.7,1320.1 147.7,1327.6 149.7,1324.9 151.8,1328.4 153.7,1323.9 157.1,1327.8 158.4,1322.1 161.8,1327.9 162.8,1320.6 164.6,1328.8 166.6,1320.6 168.7,1328.9 170.1,1320.6 173.0,1327.6 174.6,1320.8 177.3,1328.8 178.4,1323.1 181.0,1327.8 181.9,1326.0 184.9,1329.0 186.0,1325.7 189.2,1329.0 190.1,1320.9 192.6,1328.9 194.4,1323.6 196.7,1327.6 198.3,1321.3 200.3,1327.9 201.7,1320.7 204.0,1327.9 205.7,1323.8 208.5,1327.9 210.5,1320.1 213.5,1329.2 215.0,1321.7 216.6,1328.6 218.4,1320.2 221.8,1329.3 223.2,1320.4 226.0,1328.9 226.6,1320.1 229.8,1328.2 230.8,1320.7 234.0,1328.1 235.4,1324.3 237.4,1328.8 238.4,1322.9 240.2,1328.1 241.2,1325.4 243.2,1328.7 244.3,1321.0 246.0,1329.1 247.0,1325.3 250.0,1329.3 250.6,1322.6 253.5,1327.8 254.9,1324.2 258.1,1328.0 259.3,1322.6 262.7,1327.5 264.6,1325.6 266.8,1328.7 267.5,1321.2 269.1,1327.7 270.5,1322.2 272.9,1327.6 274.2,1320.2 277.6,1328.1 279.5,1323.1 281.8,1327.8 283.1,1324.3 285.9,1328.5 286.6,1320.6 289.1,1327.6 290.4,1319.9 292.5,1329.1 293.8,1321.1 296.9,1328.2 297.6,1323.7 299.2,1328.8 301.1,1324.1 304.0,1328.3 304.7,1321.7 306.4,1329.1 307.8,1325.6 311.2,1328.6 312.6,1319.7 314.3,1327.5 314.9,1322.3 317.7,1327.5 318.8,1319.9 321.6,1328.5 322.3,1324.8 324.5,1328.8 325.6,1320.8 327.8,1328.2 328.4,1325.5 331.3,1327.7 332.3,1326.3 334.3,1328.8 335.3,1322.6 337.4,1328.2 339.1,1321.0 342.1,1328.3 343.0,1320.6 345.0,1327.8 346.2,1322.1 348.7,1328.2 349.7,1322.5 352.7,1328.8 354.1,1323.3 356.5,1328.7 357.9,1321.5 359.7,1329.2 361.4,1325.9 364.5,1328.0 365.4,1322.0 367.4,1327.7 368.2,1325.7 369.7,1328.1 370.5,1324.3 374.0,1328.0 375.6,1322.5 378.4,1329.5 380.1,1324.2 383.3,1328.7 385.2,1326.5 388.6,1329.3 389.9,1323.1 393.4,1328.1 395.4,1320.2 397.7,1329.2 398.4,1321.5 401.8,1328.2 402.8,1322.3 405.7,1329.0 407.2,1325.1 408.8,1329.4 410.0,1321.6 411.9,1328.7 413.5,1324.7 416.0,1328.3 417.1,1325.0 420.0,1328.1 420.8,1320.8 423.6,1327.8 425.3,1323.0 428.2,1328.9 429.7,1325.9 431.9,1328.5 433.7,1321.7 437.0,1327.8 439.0,1322.2 441.7,1328.6 442.6,1320.9 445.3,1329.2 446.1,1325.0 449.1,1328.3 449.9,1321.7 452.5,1329.0 453.7,1319.6 455.5,1329.0 456.8,1320.6 460.2,1328.7 457,1330" fill="#9ccc98" opacity="0.85"/>
<clipPath id="canopyClip"><path d="M-5,1060 C10,1035 40,1015 80,1006 C110,1000 150,1002 185,1010 C230,1022 270,1050 292,1085 C306,1115 306,1160 300,1195 C294,1225 280,1245 262,1262 L-5,1262 Z"/></clipPath>
<g clip-path="url(#canopyClip)">
<ellipse cx="105.6" cy="1236.6" rx="5.5" ry="3.1" transform="rotate(-98 105.6 1236.6)" fill="#1e6e30"/>
<ellipse cx="75.4" cy="1238.7" rx="6.0" ry="3.0" transform="rotate(-218 75.4 1238.7)" fill="#3a9a48"/>
<ellipse cx="58.2" cy="1218.6" rx="5.7" ry="3.3" transform="rotate(-96 58.2 1218.6)" fill="#23803a"/>
<ellipse cx="36.9" cy="1206.4" rx="5.3" ry="3.5" transform="rotate(-172 36.9 1206.4)" fill="#4aa656"/>
<ellipse cx="35.9" cy="1185.5" rx="6.5" ry="2.8" transform="rotate(-49 35.9 1185.5)" fill="#2a7d36"/>
<ellipse cx="22.5" cy="1168.9" rx="6.4" ry="3.2" transform="rotate(-148 22.5 1168.9)" fill="#2a7d36"/>
<ellipse cx="26.0" cy="1142.8" rx="7.0" ry="3.6" transform="rotate(-56 26.0 1142.8)" fill="#1e6e30"/>
<ellipse cx="19.7" cy="1128.5" rx="6.7" ry="3.5" transform="rotate(-122 19.7 1128.5)" fill="#2a7d36"/>
<ellipse cx="24.7" cy="1128.3" rx="7.0" ry="3.2" transform="rotate(-62 24.7 1128.3)" fill="#2f8a3c"/>
<ellipse cx="16.8" cy="1142.8" rx="6.6" ry="3.5" transform="rotate(-69 16.8 1142.8)" fill="#2f8a3c"/>
<ellipse cx="1.6" cy="1132.1" rx="6.3" ry="3.6" transform="rotate(-152 1.6 1132.1)" fill="#1e6e30"/>
<ellipse cx="5.8" cy="1129.5" rx="5.9" ry="3.2" transform="rotate(-92 5.8 1129.5)" fill="#2a7d36"/>
<ellipse cx="19.5" cy="1183.5" rx="7.0" ry="3.0" transform="rotate(-94 19.5 1183.5)" fill="#2f8a3c"/>
<ellipse cx="5.0" cy="1160.4" rx="5.8" ry="3.3" transform="rotate(-40 5.0 1160.4)" fill="#2a7d36"/>
<ellipse cx="-3.3" cy="1145.9" rx="6.7" ry="3.3" transform="rotate(-78 -3.3 1145.9)" fill="#2f8a3c"/>
<ellipse cx="54.0" cy="1227.5" rx="6.8" ry="3.6" transform="rotate(-116 54.0 1227.5)" fill="#2f8a3c"/>
<ellipse cx="34.3" cy="1238.5" rx="5.7" ry="3.5" transform="rotate(-252 34.3 1238.5)" fill="#3a9a48"/>
<ellipse cx="11.1" cy="1220.6" rx="6.2" ry="3.1" transform="rotate(-108 11.1 1220.6)" fill="#2f8a3c"/>
<ellipse cx="5.9" cy="1237.1" rx="6.2" ry="2.8" transform="rotate(-156 5.9 1237.1)" fill="#3a9a48"/>
<ellipse cx="108.1" cy="1230.8" rx="6.3" ry="3.4" transform="rotate(-106 108.1 1230.8)" fill="#3a9a48"/>
<ellipse cx="86.7" cy="1224.7" rx="7.0" ry="3.7" transform="rotate(-188 86.7 1224.7)" fill="#4aa656"/>
<ellipse cx="74.4" cy="1206.2" rx="7.1" ry="3.4" transform="rotate(-97 74.4 1206.2)" fill="#2f8a3c"/>
<ellipse cx="51.7" cy="1196.1" rx="6.3" ry="3.3" transform="rotate(-117 51.7 1196.1)" fill="#3a9a48"/>
<ellipse cx="24.6" cy="1194.8" rx="5.6" ry="3.4" transform="rotate(-225 24.6 1194.8)" fill="#1e6e30"/>
<ellipse cx="9.5" cy="1170.2" rx="5.4" ry="2.8" transform="rotate(-88 9.5 1170.2)" fill="#1e6e30"/>
<ellipse cx="3.6" cy="1178.6" rx="6.8" ry="2.8" transform="rotate(-118 3.6 1178.6)" fill="#1e6e30"/>
<ellipse cx="56.7" cy="1192.0" rx="6.4" ry="3.2" transform="rotate(-96 56.7 1192.0)" fill="#23803a"/>
<ellipse cx="32.5" cy="1177.8" rx="5.7" ry="3.0" transform="rotate(-172 32.5 1177.8)" fill="#23803a"/>
<ellipse cx="17.7" cy="1161.0" rx="5.5" ry="3.1" transform="rotate(-110 17.7 1161.0)" fill="#2a7d36"/>
<ellipse cx="24.6" cy="1155.3" rx="6.8" ry="3.1" transform="rotate(-77 24.6 1155.3)" fill="#23803a"/>
<ellipse cx="4.9" cy="1144.9" rx="6.6" ry="2.9" transform="rotate(-191 4.9 1144.9)" fill="#23803a"/>
<ellipse cx="3.3" cy="1112.9" rx="5.3" ry="3.6" transform="rotate(-63 3.3 1112.9)" fill="#23803a"/>
<ellipse cx="-1.0" cy="1096.3" rx="5.8" ry="2.8" transform="rotate(-71 -1.0 1096.3)" fill="#2f8a3c"/>
<ellipse cx="31.3" cy="1155.0" rx="7.2" ry="3.2" transform="rotate(-52 31.3 1155.0)" fill="#3a9a48"/>
<ellipse cx="18.6" cy="1135.9" rx="5.6" ry="3.6" transform="rotate(-140 18.6 1135.9)" fill="#4aa656"/>
<ellipse cx="29.3" cy="1112.8" rx="7.0" ry="2.9" transform="rotate(-19 29.3 1112.8)" fill="#2f8a3c"/>
<ellipse cx="25.6" cy="1094.8" rx="6.9" ry="3.6" transform="rotate(-109 25.6 1094.8)" fill="#2f8a3c"/>
<ellipse cx="30.5" cy="1095.7" rx="5.5" ry="3.6" transform="rotate(-49 30.5 1095.7)" fill="#1e6e30"/>
<ellipse cx="12.9" cy="1110.5" rx="5.6" ry="3.3" transform="rotate(-78 12.9 1110.5)" fill="#3a9a48"/>
<ellipse cx="-1.6" cy="1097.7" rx="7.1" ry="3.7" transform="rotate(-152 -1.6 1097.7)" fill="#4aa656"/>
<ellipse cx="2.7" cy="1095.1" rx="5.4" ry="3.4" transform="rotate(-92 2.7 1095.1)" fill="#23803a"/>
<ellipse cx="61.1" cy="1189.3" rx="7.1" ry="3.0" transform="rotate(-77 61.1 1189.3)" fill="#2a7d36"/>
<ellipse cx="41.6" cy="1171.9" rx="6.6" ry="2.8" transform="rotate(-186 41.6 1171.9)" fill="#4aa656"/>
<ellipse cx="44.0" cy="1145.3" rx="7.1" ry="3.5" transform="rotate(-50 44.0 1145.3)" fill="#2a7d36"/>
<ellipse cx="34.0" cy="1125.7" rx="5.4" ry="2.9" transform="rotate(-155 34.0 1125.7)" fill="#23803a"/>
<ellipse cx="35.3" cy="1097.4" rx="5.4" ry="3.4" transform="rotate(-71 35.3 1097.4)" fill="#23803a"/>
<ellipse cx="23.9" cy="1084.4" rx="5.6" ry="2.9" transform="rotate(-141 23.9 1084.4)" fill="#4aa656"/>
<ellipse cx="28.6" cy="1082.6" rx="5.8" ry="3.0" transform="rotate(-81 28.6 1082.6)" fill="#2f8a3c"/>
<ellipse cx="45.5" cy="1096.9" rx="6.5" ry="3.6" transform="rotate(-29 45.5 1096.9)" fill="#1e6e30"/>
<ellipse cx="38.0" cy="1077.8" rx="6.2" ry="3.7" transform="rotate(-118 38.0 1077.8)" fill="#3a9a48"/>
<ellipse cx="43.0" cy="1078.0" rx="6.5" ry="3.0" transform="rotate(-58 43.0 1078.0)" fill="#4aa656"/>
<ellipse cx="48.2" cy="1100.5" rx="6.5" ry="3.2" transform="rotate(-24 48.2 1100.5)" fill="#2f8a3c"/>
<ellipse cx="46.6" cy="1082.6" rx="6.1" ry="3.2" transform="rotate(-104 46.6 1082.6)" fill="#1e6e30"/>
<ellipse cx="51.4" cy="1083.9" rx="7.0" ry="2.7" transform="rotate(-44 51.4 1083.9)" fill="#1e6e30"/>
<ellipse cx="33.1" cy="1148.6" rx="5.8" ry="3.0" transform="rotate(-87 33.1 1148.6)" fill="#2f8a3c"/>
<ellipse cx="10.4" cy="1143.2" rx="6.3" ry="2.9" transform="rotate(-190 10.4 1143.2)" fill="#2f8a3c"/>
<ellipse cx="-3.2" cy="1118.7" rx="5.6" ry="2.9" transform="rotate(-89 -3.2 1118.7)" fill="#4aa656"/>
<ellipse cx="1.9" cy="1119.2" rx="6.3" ry="2.9" transform="rotate(-71 1.9 1119.2)" fill="#3a9a48"/>
<ellipse cx="117.2" cy="1229.0" rx="7.2" ry="2.7" transform="rotate(-82 117.2 1229.0)" fill="#2a7d36"/>
<ellipse cx="98.9" cy="1213.6" rx="7.0" ry="3.3" transform="rotate(-179 98.9 1213.6)" fill="#2f8a3c"/>
<ellipse cx="94.5" cy="1188.6" rx="7.1" ry="3.2" transform="rotate(-65 94.5 1188.6)" fill="#3a9a48"/>
<ellipse cx="75.6" cy="1171.0" rx="5.3" ry="3.5" transform="rotate(-90 75.6 1171.0)" fill="#23803a"/>
<ellipse cx="49.6" cy="1159.5" rx="5.8" ry="3.2" transform="rotate(-177 49.6 1159.5)" fill="#2f8a3c"/>
<ellipse cx="35.0" cy="1142.0" rx="6.2" ry="3.2" transform="rotate(-96 35.0 1142.0)" fill="#2f8a3c"/>
<ellipse cx="12.2" cy="1142.5" rx="6.5" ry="3.7" transform="rotate(-212 12.2 1142.5)" fill="#4aa656"/>
<ellipse cx="4.6" cy="1117.7" rx="7.1" ry="2.9" transform="rotate(-52 4.6 1117.7)" fill="#2f8a3c"/>
<ellipse cx="39.1" cy="1138.7" rx="6.7" ry="2.8" transform="rotate(-71 39.1 1138.7)" fill="#2a7d36"/>
<ellipse cx="16.9" cy="1132.5" rx="5.7" ry="3.1" transform="rotate(-205 16.9 1132.5)" fill="#2f8a3c"/>
<ellipse cx="11.5" cy="1102.0" rx="5.7" ry="3.4" transform="rotate(-54 11.5 1102.0)" fill="#4aa656"/>
<ellipse cx="-2.2" cy="1087.4" rx="5.7" ry="3.2" transform="rotate(-141 -2.2 1087.4)" fill="#3a9a48"/>
<ellipse cx="2.5" cy="1085.6" rx="6.9" ry="3.3" transform="rotate(-81 2.5 1085.6)" fill="#23803a"/>
<ellipse cx="-0.7" cy="1108.5" rx="5.3" ry="3.3" transform="rotate(-83 -0.7 1108.5)" fill="#4aa656"/>
<ellipse cx="41.8" cy="1136.0" rx="5.3" ry="3.1" transform="rotate(-71 41.8 1136.0)" fill="#3a9a48"/>
<ellipse cx="24.5" cy="1123.0" rx="5.9" ry="3.3" transform="rotate(-182 24.5 1123.0)" fill="#1e6e30"/>
<ellipse cx="27.1" cy="1092.2" rx="6.2" ry="3.1" transform="rotate(-41 27.1 1092.2)" fill="#2a7d36"/>
<ellipse cx="19.9" cy="1073.1" rx="6.6" ry="3.6" transform="rotate(-123 19.9 1073.1)" fill="#2f8a3c"/>
<ellipse cx="24.9" cy="1072.8" rx="5.3" ry="3.6" transform="rotate(-63 24.9 1072.8)" fill="#1e6e30"/>
<ellipse cx="16.0" cy="1096.8" rx="6.5" ry="3.3" transform="rotate(-68 16.0 1096.8)" fill="#4aa656"/>
<ellipse cx="-1.0" cy="1087.8" rx="5.7" ry="2.8" transform="rotate(-161 -1.0 1087.8)" fill="#23803a"/>
<ellipse cx="2.7" cy="1084.5" rx="6.1" ry="3.4" transform="rotate(-101 2.7 1084.5)" fill="#2f8a3c"/>
<ellipse cx="82.0" cy="1170.8" rx="6.4" ry="3.2" transform="rotate(-80 82.0 1170.8)" fill="#23803a"/>
<ellipse cx="65.7" cy="1157.9" rx="6.7" ry="3.2" transform="rotate(-173 65.7 1157.9)" fill="#4aa656"/>
<ellipse cx="65.4" cy="1137.0" rx="6.8" ry="2.9" transform="rotate(-55 65.4 1137.0)" fill="#23803a"/>
<ellipse cx="50.1" cy="1120.1" rx="5.7" ry="3.2" transform="rotate(-90 50.1 1120.1)" fill="#4aa656"/>
<ellipse cx="29.8" cy="1109.6" rx="6.9" ry="3.5" transform="rotate(-178 29.8 1109.6)" fill="#2f8a3c"/>
<ellipse cx="27.9" cy="1081.1" rx="5.8" ry="3.2" transform="rotate(-56 27.9 1081.1)" fill="#4aa656"/>
<ellipse cx="18.0" cy="1065.2" rx="5.6" ry="3.7" transform="rotate(-132 18.0 1065.2)" fill="#2f8a3c"/>
<ellipse cx="22.9" cy="1064.1" rx="5.5" ry="3.5" transform="rotate(-72 22.9 1064.1)" fill="#1e6e30"/>
<ellipse cx="12.5" cy="1085.7" rx="7.2" ry="2.8" transform="rotate(-103 12.5 1085.7)" fill="#2a7d36"/>
<ellipse cx="-3.0" cy="1076.9" rx="6.2" ry="3.7" transform="rotate(-115 -3.0 1076.9)" fill="#2f8a3c"/>
<ellipse cx="55.8" cy="1118.6" rx="5.7" ry="3.6" transform="rotate(-56 55.8 1118.6)" fill="#3a9a48"/>
<ellipse cx="39.5" cy="1099.8" rx="5.4" ry="3.3" transform="rotate(-165 39.5 1099.8)" fill="#2a7d36"/>
<ellipse cx="46.2" cy="1068.5" rx="6.0" ry="2.8" transform="rotate(-38 46.2 1068.5)" fill="#2f8a3c"/>
<ellipse cx="39.9" cy="1049.6" rx="6.6" ry="3.4" transform="rotate(-117 39.9 1049.6)" fill="#4aa656"/>
<ellipse cx="44.9" cy="1049.8" rx="6.4" ry="3.0" transform="rotate(-57 44.9 1049.8)" fill="#2f8a3c"/>
<ellipse cx="32.4" cy="1071.2" rx="6.3" ry="2.9" transform="rotate(-65 32.4 1071.2)" fill="#2a7d36"/>
<ellipse cx="15.8" cy="1058.2" rx="5.4" ry="2.9" transform="rotate(-154 15.8 1058.2)" fill="#23803a"/>
<ellipse cx="19.9" cy="1055.4" rx="5.9" ry="3.7" transform="rotate(-94 19.9 1055.4)" fill="#1e6e30"/>
<ellipse cx="62.0" cy="1119.4" rx="5.6" ry="2.9" transform="rotate(-26 62.0 1119.4)" fill="#1e6e30"/>
<ellipse cx="50.4" cy="1096.1" rx="6.5" ry="2.8" transform="rotate(-139 50.4 1096.1)" fill="#23803a"/>
<ellipse cx="61.7" cy="1077.8" rx="6.3" ry="3.6" transform="rotate(-19 61.7 1077.8)" fill="#1e6e30"/>
<ellipse cx="61.1" cy="1056.1" rx="7.0" ry="2.9" transform="rotate(-112 61.1 1056.1)" fill="#2f8a3c"/>
<ellipse cx="65.6" cy="1047.5" rx="6.0" ry="3.5" transform="rotate(-100 65.6 1047.5)" fill="#2a7d36"/>
<ellipse cx="70.3" cy="1049.2" rx="6.0" ry="2.7" transform="rotate(-40 70.3 1049.2)" fill="#2a7d36"/>
<ellipse cx="50.9" cy="1069.4" rx="5.9" ry="2.9" transform="rotate(-48 50.9 1069.4)" fill="#1e6e30"/>
<ellipse cx="38.4" cy="1053.9" rx="6.8" ry="3.2" transform="rotate(-140 38.4 1053.9)" fill="#2a7d36"/>
<ellipse cx="43.1" cy="1052.2" rx="5.6" ry="3.2" transform="rotate(-80 43.1 1052.2)" fill="#23803a"/>
<ellipse cx="88.9" cy="1167.8" rx="6.1" ry="3.2" transform="rotate(-36 88.9 1167.8)" fill="#4aa656"/>
<ellipse cx="77.8" cy="1141.2" rx="6.6" ry="3.6" transform="rotate(-143 77.8 1141.2)" fill="#3a9a48"/>
<ellipse cx="88.1" cy="1119.0" rx="6.3" ry="3.1" transform="rotate(-31 88.1 1119.0)" fill="#2f8a3c"/>
<ellipse cx="86.0" cy="1097.2" rx="6.6" ry="3.1" transform="rotate(-129 86.0 1097.2)" fill="#23803a"/>
<ellipse cx="106.2" cy="1077.1" rx="6.4" ry="3.2" transform="rotate(-14 106.2 1077.1)" fill="#4aa656"/>
<ellipse cx="109.5" cy="1060.7" rx="5.7" ry="3.1" transform="rotate(-86 109.5 1060.7)" fill="#4aa656"/>
<ellipse cx="113.6" cy="1063.5" rx="6.6" ry="3.0" transform="rotate(-26 113.6 1063.5)" fill="#23803a"/>
<ellipse cx="95.3" cy="1072.0" rx="5.3" ry="3.4" transform="rotate(-31 95.3 1072.0)" fill="#2f8a3c"/>
<ellipse cx="85.9" cy="1054.4" rx="5.9" ry="3.5" transform="rotate(-126 85.9 1054.4)" fill="#4aa656"/>
<ellipse cx="90.9" cy="1054.0" rx="6.9" ry="2.8" transform="rotate(-66 90.9 1054.0)" fill="#23803a"/>
<ellipse cx="80.8" cy="1117.6" rx="6.9" ry="3.1" transform="rotate(-53 80.8 1117.6)" fill="#2f8a3c"/>
<ellipse cx="63.9" cy="1104.6" rx="7.0" ry="3.0" transform="rotate(-181 63.9 1104.6)" fill="#2f8a3c"/>
<ellipse cx="69.7" cy="1076.7" rx="7.0" ry="3.4" transform="rotate(-23 69.7 1076.7)" fill="#23803a"/>
<ellipse cx="63.2" cy="1057.1" rx="6.0" ry="2.9" transform="rotate(-119 63.2 1057.1)" fill="#2f8a3c"/>
<ellipse cx="68.2" cy="1057.2" rx="5.6" ry="3.2" transform="rotate(-59 68.2 1057.2)" fill="#3a9a48"/>
<ellipse cx="52.0" cy="1080.3" rx="5.3" ry="3.0" transform="rotate(-96 52.0 1080.3)" fill="#2a7d36"/>
<ellipse cx="35.2" cy="1073.6" rx="6.2" ry="3.4" transform="rotate(-170 35.2 1073.6)" fill="#1e6e30"/>
<ellipse cx="38.4" cy="1069.8" rx="6.6" ry="3.0" transform="rotate(-110 38.4 1069.8)" fill="#4aa656"/>
<ellipse cx="123.7" cy="1229.4" rx="6.1" ry="3.1" transform="rotate(-40 123.7 1229.4)" fill="#3a9a48"/>
<ellipse cx="109.6" cy="1205.3" rx="6.9" ry="3.2" transform="rotate(-151 109.6 1205.3)" fill="#2a7d36"/>
<ellipse cx="111.4" cy="1179.4" rx="6.0" ry="3.1" transform="rotate(-67 111.4 1179.4)" fill="#2f8a3c"/>
<ellipse cx="117.1" cy="1157.0" rx="5.9" ry="2.8" transform="rotate(-18 117.1 1157.0)" fill="#23803a"/>
<ellipse cx="117.3" cy="1128.1" rx="5.9" ry="2.9" transform="rotate(-123 117.3 1128.1)" fill="#2f8a3c"/>
<ellipse cx="135.5" cy="1110.9" rx="6.9" ry="3.4" transform="rotate(-6 135.5 1110.9)" fill="#2a7d36"/>
<ellipse cx="137.8" cy="1089.8" rx="6.3" ry="3.5" transform="rotate(-115 137.8 1089.8)" fill="#4aa656"/>
<ellipse cx="161.7" cy="1076.0" rx="5.8" ry="3.4" transform="rotate(25 161.7 1076.0)" fill="#2f8a3c"/>
<ellipse cx="171.6" cy="1057.8" rx="5.6" ry="3.4" transform="rotate(-72 171.6 1057.8)" fill="#4aa656"/>
<ellipse cx="174.9" cy="1061.5" rx="5.4" ry="3.5" transform="rotate(-12 174.9 1061.5)" fill="#23803a"/>
<ellipse cx="150.7" cy="1065.1" rx="5.7" ry="3.3" transform="rotate(-35 150.7 1065.1)" fill="#2f8a3c"/>
<ellipse cx="144.6" cy="1047.2" rx="6.8" ry="2.8" transform="rotate(-117 144.6 1047.2)" fill="#2a7d36"/>
<ellipse cx="149.6" cy="1047.5" rx="5.3" ry="3.1" transform="rotate(-57 149.6 1047.5)" fill="#23803a"/>
<ellipse cx="129.1" cy="1106.0" rx="5.8" ry="3.4" transform="rotate(-38 129.1 1106.0)" fill="#3a9a48"/>
<ellipse cx="120.7" cy="1085.4" rx="5.5" ry="3.1" transform="rotate(-147 120.7 1085.4)" fill="#2a7d36"/>
<ellipse cx="118.8" cy="1057.8" rx="6.7" ry="3.1" transform="rotate(-58 118.8 1057.8)" fill="#4aa656"/>
<ellipse cx="103.5" cy="1045.0" rx="5.7" ry="2.8" transform="rotate(-149 103.5 1045.0)" fill="#23803a"/>
<ellipse cx="107.9" cy="1042.6" rx="7.0" ry="3.5" transform="rotate(-89 107.9 1042.6)" fill="#2a7d36"/>
<ellipse cx="126.4" cy="1058.1" rx="6.4" ry="3.4" transform="rotate(-41 126.4 1058.1)" fill="#1e6e30"/>
<ellipse cx="119.0" cy="1041.0" rx="5.8" ry="3.6" transform="rotate(-124 119.0 1041.0)" fill="#2a7d36"/>
<ellipse cx="124.0" cy="1040.6" rx="5.4" ry="3.6" transform="rotate(-64 124.0 1040.6)" fill="#2a7d36"/>
<ellipse cx="138.8" cy="1060.9" rx="5.7" ry="3.1" transform="rotate(-2 138.8 1060.9)" fill="#2f8a3c"/>
<ellipse cx="140.8" cy="1040.4" rx="6.4" ry="3.2" transform="rotate(-92 140.8 1040.4)" fill="#23803a"/>
<ellipse cx="145.2" cy="1042.7" rx="7.0" ry="2.8" transform="rotate(-32 145.2 1042.7)" fill="#2f8a3c"/>
<ellipse cx="103.2" cy="1158.7" rx="5.9" ry="3.6" transform="rotate(-69 103.2 1158.7)" fill="#1e6e30"/>
<ellipse cx="84.3" cy="1149.6" rx="5.8" ry="3.5" transform="rotate(-194 84.3 1149.6)" fill="#3a9a48"/>
<ellipse cx="80.2" cy="1126.0" rx="6.5" ry="3.1" transform="rotate(-81 80.2 1126.0)" fill="#23803a"/>
<ellipse cx="66.5" cy="1111.3" rx="7.1" ry="3.1" transform="rotate(-75 66.5 1111.3)" fill="#1e6e30"/>
<ellipse cx="41.6" cy="1105.5" rx="6.6" ry="2.9" transform="rotate(-201 41.6 1105.5)" fill="#2f8a3c"/>
<ellipse cx="22.4" cy="1083.7" rx="6.5" ry="3.3" transform="rotate(-106 22.4 1083.7)" fill="#2a7d36"/>
<ellipse cx="4.3" cy="1081.8" rx="6.4" ry="2.8" transform="rotate(-183 4.3 1081.8)" fill="#2f8a3c"/>
<ellipse cx="6.5" cy="1077.3" rx="6.9" ry="3.6" transform="rotate(-123 6.5 1077.3)" fill="#2a7d36"/>
<ellipse cx="25.8" cy="1079.6" rx="7.1" ry="3.1" transform="rotate(-83 25.8 1079.6)" fill="#2f8a3c"/>
<ellipse cx="6.9" cy="1073.5" rx="5.5" ry="3.2" transform="rotate(-170 6.9 1073.5)" fill="#23803a"/>
<ellipse cx="10.1" cy="1069.7" rx="6.2" ry="3.2" transform="rotate(-110 10.1 1069.7)" fill="#2f8a3c"/>
<ellipse cx="36.6" cy="1083.4" rx="5.5" ry="2.9" transform="rotate(-60 36.6 1083.4)" fill="#3a9a48"/>
<ellipse cx="19.4" cy="1070.6" rx="5.7" ry="2.9" transform="rotate(-176 19.4 1070.6)" fill="#1e6e30"/>
<ellipse cx="16.3" cy="1059.9" rx="5.2" ry="3.2" transform="rotate(-148 16.3 1059.9)" fill="#2a7d36"/>
<ellipse cx="20.7" cy="1057.6" rx="5.2" ry="3.2" transform="rotate(-88 20.7 1057.6)" fill="#2f8a3c"/>
<ellipse cx="71.7" cy="1110.2" rx="6.5" ry="3.2" transform="rotate(-50 71.7 1110.2)" fill="#1e6e30"/>
<ellipse cx="50.6" cy="1095.4" rx="6.8" ry="3.6" transform="rotate(-180 50.6 1095.4)" fill="#4aa656"/>
<ellipse cx="38.9" cy="1066.6" rx="7.1" ry="3.0" transform="rotate(-88 38.9 1066.6)" fill="#23803a"/>
<ellipse cx="21.7" cy="1056.5" rx="5.4" ry="2.7" transform="rotate(-162 21.7 1056.5)" fill="#2f8a3c"/>
<ellipse cx="25.5" cy="1053.2" rx="6.6" ry="3.4" transform="rotate(-102 25.5 1053.2)" fill="#4aa656"/>
<ellipse cx="43.6" cy="1066.9" rx="5.5" ry="2.9" transform="rotate(-73 43.6 1066.9)" fill="#3a9a48"/>
<ellipse cx="29.1" cy="1054.8" rx="5.5" ry="3.3" transform="rotate(-151 29.1 1054.8)" fill="#2a7d36"/>
<ellipse cx="33.3" cy="1052.2" rx="6.8" ry="3.0" transform="rotate(-91 33.3 1052.2)" fill="#2a7d36"/>
<ellipse cx="50.2" cy="1063.1" rx="5.8" ry="3.4" transform="rotate(-49 50.2 1063.1)" fill="#1e6e30"/>
<ellipse cx="38.8" cy="1045.1" rx="6.2" ry="3.3" transform="rotate(-133 38.8 1045.1)" fill="#23803a"/>
<ellipse cx="43.7" cy="1044.0" rx="5.8" ry="2.9" transform="rotate(-73 43.7 1044.0)" fill="#1e6e30"/>
<ellipse cx="78.6" cy="1110.6" rx="6.7" ry="3.6" transform="rotate(-22 78.6 1110.6)" fill="#2f8a3c"/>
<ellipse cx="68.4" cy="1087.7" rx="6.8" ry="3.6" transform="rotate(-155 68.4 1087.7)" fill="#23803a"/>
<ellipse cx="79.8" cy="1065.9" rx="5.4" ry="3.2" transform="rotate(-32 79.8 1065.9)" fill="#2f8a3c"/>
<ellipse cx="78.9" cy="1045.0" rx="6.6" ry="2.7" transform="rotate(-113 78.9 1045.0)" fill="#1e6e30"/>
<ellipse cx="83.0" cy="1035.7" rx="6.9" ry="3.6" transform="rotate(-102 83.0 1035.7)" fill="#2f8a3c"/>
<ellipse cx="87.7" cy="1037.2" rx="5.9" ry="3.1" transform="rotate(-42 87.7 1037.2)" fill="#4aa656"/>
<ellipse cx="69.0" cy="1058.9" rx="6.8" ry="3.1" transform="rotate(-46 69.0 1058.9)" fill="#4aa656"/>
<ellipse cx="54.3" cy="1044.5" rx="6.5" ry="3.1" transform="rotate(-144 54.3 1044.5)" fill="#4aa656"/>
<ellipse cx="58.9" cy="1042.4" rx="5.9" ry="3.0" transform="rotate(-84 58.9 1042.4)" fill="#2f8a3c"/>
<ellipse cx="125.1" cy="1233.1" rx="5.6" ry="3.3" transform="rotate(-37 125.1 1233.1)" fill="#3a9a48"/>
<ellipse cx="118.4" cy="1213.8" rx="6.3" ry="3.1" transform="rotate(-143 118.4 1213.8)" fill="#4aa656"/>
<ellipse cx="129.1" cy="1194.5" rx="5.5" ry="3.4" transform="rotate(-40 129.1 1194.5)" fill="#23803a"/>
<ellipse cx="123.4" cy="1175.9" rx="6.8" ry="2.8" transform="rotate(-130 123.4 1175.9)" fill="#2a7d36"/>
<ellipse cx="136.1" cy="1157.4" rx="6.4" ry="3.0" transform="rotate(-24 136.1 1157.4)" fill="#4aa656"/>
<ellipse cx="133.4" cy="1136.6" rx="5.6" ry="2.7" transform="rotate(-134 133.4 1136.6)" fill="#1e6e30"/>
<ellipse cx="149.1" cy="1119.6" rx="6.6" ry="3.5" transform="rotate(-3 149.1 1119.6)" fill="#3a9a48"/>
<ellipse cx="158.5" cy="1102.2" rx="5.7" ry="3.0" transform="rotate(19 158.5 1102.2)" fill="#23803a"/>
<ellipse cx="168.2" cy="1075.4" rx="6.5" ry="3.1" transform="rotate(-103 168.2 1075.4)" fill="#4aa656"/>
<ellipse cx="185.5" cy="1061.2" rx="7.2" ry="2.7" transform="rotate(-14 185.5 1061.2)" fill="#4aa656"/>
<ellipse cx="184.5" cy="1038.7" rx="7.2" ry="3.6" transform="rotate(-127 184.5 1038.7)" fill="#3a9a48"/>
<ellipse cx="190.3" cy="1028.3" rx="5.8" ry="3.4" transform="rotate(-101 190.3 1028.3)" fill="#2f8a3c"/>
<ellipse cx="195.0" cy="1030.0" rx="5.4" ry="3.0" transform="rotate(-41 195.0 1030.0)" fill="#2f8a3c"/>
<ellipse cx="191.8" cy="1056.5" rx="6.9" ry="3.6" transform="rotate(-5 191.8 1056.5)" fill="#3a9a48"/>
<ellipse cx="196.7" cy="1036.7" rx="5.9" ry="3.0" transform="rotate(-88 196.7 1036.7)" fill="#2f8a3c"/>
<ellipse cx="201.0" cy="1039.3" rx="6.9" ry="3.3" transform="rotate(-28 201.0 1039.3)" fill="#3a9a48"/>
<ellipse cx="190.6" cy="1067.8" rx="6.0" ry="3.3" transform="rotate(16 190.6 1067.8)" fill="#2f8a3c"/>
<ellipse cx="202.3" cy="1049.6" rx="5.5" ry="3.3" transform="rotate(-90 202.3 1049.6)" fill="#4aa656"/>
<ellipse cx="212.7" cy="1044.7" rx="6.6" ry="3.2" transform="rotate(-65 212.7 1044.7)" fill="#2f8a3c"/>
<ellipse cx="215.5" cy="1048.8" rx="6.9" ry="3.1" transform="rotate(-5 215.5 1048.8)" fill="#2f8a3c"/>
<ellipse cx="150.0" cy="1094.7" rx="5.4" ry="3.6" transform="rotate(-27 150.0 1094.7)" fill="#23803a"/>
<ellipse cx="136.6" cy="1071.0" rx="7.0" ry="3.1" transform="rotate(-158 136.6 1071.0)" fill="#3a9a48"/>
<ellipse cx="148.1" cy="1049.5" rx="5.8" ry="2.7" transform="rotate(-21 148.1 1049.5)" fill="#1e6e30"/>
<ellipse cx="147.5" cy="1028.1" rx="6.3" ry="3.0" transform="rotate(-127 147.5 1028.1)" fill="#2a7d36"/>
<ellipse cx="153.9" cy="1018.3" rx="5.7" ry="2.9" transform="rotate(-98 153.9 1018.3)" fill="#2a7d36"/>
<ellipse cx="158.6" cy="1020.1" rx="5.6" ry="3.3" transform="rotate(-38 158.6 1020.1)" fill="#1e6e30"/>
<ellipse cx="137.0" cy="1047.7" rx="5.3" ry="2.8" transform="rotate(-59 137.0 1047.7)" fill="#2f8a3c"/>
<ellipse cx="118.0" cy="1032.8" rx="5.8" ry="2.8" transform="rotate(-164 118.0 1032.8)" fill="#3a9a48"/>
<ellipse cx="114.7" cy="1023.4" rx="5.9" ry="2.8" transform="rotate(-151 114.7 1023.4)" fill="#2f8a3c"/>
<ellipse cx="119.0" cy="1020.9" rx="5.6" ry="3.6" transform="rotate(-91 119.0 1020.9)" fill="#2a7d36"/>
<ellipse cx="128.1" cy="1155.3" rx="5.3" ry="3.1" transform="rotate(-61 128.1 1155.3)" fill="#1e6e30"/>
<ellipse cx="119.0" cy="1134.8" rx="6.0" ry="2.8" transform="rotate(-142 119.0 1134.8)" fill="#1e6e30"/>
<ellipse cx="124.0" cy="1113.9" rx="6.4" ry="3.5" transform="rotate(-40 124.0 1113.9)" fill="#23803a"/>
<ellipse cx="125.4" cy="1090.5" rx="5.8" ry="3.6" transform="rotate(-30 125.4 1090.5)" fill="#2f8a3c"/>
<ellipse cx="119.4" cy="1063.4" rx="5.7" ry="3.5" transform="rotate(-132 119.4 1063.4)" fill="#1e6e30"/>
<ellipse cx="133.7" cy="1042.7" rx="6.9" ry="3.4" transform="rotate(-25 133.7 1042.7)" fill="#3a9a48"/>
<ellipse cx="136.0" cy="1020.6" rx="6.9" ry="3.6" transform="rotate(-126 136.0 1020.6)" fill="#1e6e30"/>
<ellipse cx="144.2" cy="1010.6" rx="5.4" ry="2.8" transform="rotate(-93 144.2 1010.6)" fill="#23803a"/>
<ellipse cx="148.6" cy="1012.8" rx="5.2" ry="3.3" transform="rotate(-33 148.6 1012.8)" fill="#2f8a3c"/>
<ellipse cx="125.6" cy="1040.9" rx="6.2" ry="2.7" transform="rotate(-52 125.6 1040.9)" fill="#3a9a48"/>
<ellipse cx="113.5" cy="1024.3" rx="5.3" ry="3.1" transform="rotate(-165 113.5 1024.3)" fill="#2f8a3c"/>
<ellipse cx="113.3" cy="1012.3" rx="6.3" ry="3.5" transform="rotate(-131 113.3 1012.3)" fill="#2f8a3c"/>
<ellipse cx="118.2" cy="1011.3" rx="7.0" ry="3.2" transform="rotate(-71 118.2 1011.3)" fill="#23803a"/>
<ellipse cx="116.5" cy="1088.5" rx="6.8" ry="3.5" transform="rotate(-65 116.5 1088.5)" fill="#2f8a3c"/>
<ellipse cx="97.8" cy="1067.1" rx="6.8" ry="3.5" transform="rotate(-172 97.8 1067.1)" fill="#2a7d36"/>
<ellipse cx="101.0" cy="1039.7" rx="6.0" ry="3.4" transform="rotate(-56 101.0 1039.7)" fill="#23803a"/>
<ellipse cx="92.4" cy="1017.5" rx="7.0" ry="3.3" transform="rotate(-148 92.4 1017.5)" fill="#2f8a3c"/>
<ellipse cx="93.6" cy="1004.7" rx="6.4" ry="2.9" transform="rotate(-123 93.6 1004.7)" fill="#2a7d36"/>
<ellipse cx="98.6" cy="1004.4" rx="6.6" ry="3.2" transform="rotate(-63 98.6 1004.4)" fill="#23803a"/>
<ellipse cx="94.8" cy="1042.5" rx="6.8" ry="3.1" transform="rotate(-64 94.8 1042.5)" fill="#4aa656"/>
<ellipse cx="74.6" cy="1028.8" rx="6.1" ry="3.0" transform="rotate(-169 74.6 1028.8)" fill="#2f8a3c"/>
<ellipse cx="69.5" cy="1019.5" rx="7.0" ry="3.0" transform="rotate(-157 69.5 1019.5)" fill="#2f8a3c"/>
<ellipse cx="73.5" cy="1016.5" rx="5.7" ry="2.9" transform="rotate(-97 73.5 1016.5)" fill="#3a9a48"/>
<ellipse cx="127.5" cy="1232.5" rx="5.6" ry="3.4" transform="rotate(-5 127.5 1232.5)" fill="#1e6e30"/>
<ellipse cx="129.9" cy="1206.9" rx="5.8" ry="2.9" transform="rotate(-110 129.9 1206.9)" fill="#23803a"/>
<ellipse cx="147.1" cy="1187.9" rx="5.4" ry="2.8" transform="rotate(-18 147.1 1187.9)" fill="#23803a"/>
<ellipse cx="158.7" cy="1173.7" rx="5.6" ry="2.7" transform="rotate(18 158.7 1173.7)" fill="#2a7d36"/>
<ellipse cx="162.8" cy="1152.5" rx="6.2" ry="3.1" transform="rotate(-116 162.8 1152.5)" fill="#23803a"/>
<ellipse cx="182.6" cy="1144.2" rx="7.1" ry="3.5" transform="rotate(14 182.6 1144.2)" fill="#2f8a3c"/>
<ellipse cx="199.5" cy="1131.1" rx="5.6" ry="3.6" transform="rotate(14 199.5 1131.1)" fill="#23803a"/>
<ellipse cx="216.7" cy="1112.9" rx="5.3" ry="3.3" transform="rotate(-77 216.7 1112.9)" fill="#1e6e30"/>
<ellipse cx="239.2" cy="1112.7" rx="7.2" ry="3.1" transform="rotate(43 239.2 1112.7)" fill="#3a9a48"/>
<ellipse cx="253.8" cy="1096.7" rx="6.2" ry="3.5" transform="rotate(-84 253.8 1096.7)" fill="#3a9a48"/>
<ellipse cx="265.5" cy="1095.2" rx="6.8" ry="2.8" transform="rotate(-50 265.5 1095.2)" fill="#2a7d36"/>
<ellipse cx="267.2" cy="1099.9" rx="7.1" ry="3.0" transform="rotate(10 267.2 1099.9)" fill="#3a9a48"/>
<ellipse cx="236.0" cy="1104.0" rx="6.8" ry="3.2" transform="rotate(6 236.0 1104.0)" fill="#2f8a3c"/>
<ellipse cx="240.5" cy="1080.7" rx="5.5" ry="3.3" transform="rotate(-96 240.5 1080.7)" fill="#2a7d36"/>
<ellipse cx="246.0" cy="1072.6" rx="7.0" ry="2.8" transform="rotate(-90 246.0 1072.6)" fill="#1e6e30"/>
<ellipse cx="250.3" cy="1075.1" rx="6.4" ry="3.6" transform="rotate(-30 250.3 1075.1)" fill="#2f8a3c"/>
<ellipse cx="192.9" cy="1124.3" rx="6.6" ry="3.1" transform="rotate(-5 192.9 1124.3)" fill="#1e6e30"/>
<ellipse cx="190.2" cy="1099.7" rx="7.0" ry="2.8" transform="rotate(-137 190.2 1099.7)" fill="#4aa656"/>
<ellipse cx="212.5" cy="1078.7" rx="6.6" ry="3.2" transform="rotate(5 212.5 1078.7)" fill="#4aa656"/>
<ellipse cx="216.0" cy="1059.4" rx="6.1" ry="3.5" transform="rotate(-86 216.0 1059.4)" fill="#1e6e30"/>
<ellipse cx="220.1" cy="1062.2" rx="5.7" ry="3.3" transform="rotate(-26 220.1 1062.2)" fill="#1e6e30"/>
<ellipse cx="195.0" cy="1068.7" rx="5.3" ry="3.6" transform="rotate(-64 195.0 1068.7)" fill="#1e6e30"/>
<ellipse cx="184.4" cy="1052.5" rx="6.5" ry="3.1" transform="rotate(-134 184.4 1052.5)" fill="#1e6e30"/>
<ellipse cx="189.2" cy="1051.3" rx="5.3" ry="2.8" transform="rotate(-74 189.2 1051.3)" fill="#23803a"/>
<ellipse cx="152.4" cy="1161.5" rx="5.5" ry="3.2" transform="rotate(-41 152.4 1161.5)" fill="#23803a"/>
<ellipse cx="146.4" cy="1134.6" rx="6.7" ry="3.0" transform="rotate(-137 146.4 1134.6)" fill="#4aa656"/>
<ellipse cx="163.2" cy="1115.0" rx="6.1" ry="3.3" transform="rotate(-8 163.2 1115.0)" fill="#2f8a3c"/>
<ellipse cx="165.6" cy="1091.7" rx="6.9" ry="2.8" transform="rotate(-120 165.6 1091.7)" fill="#2a7d36"/>
<ellipse cx="182.9" cy="1068.0" rx="5.4" ry="2.9" transform="rotate(-16 182.9 1068.0)" fill="#4aa656"/>
<ellipse cx="178.2" cy="1047.4" rx="6.8" ry="2.8" transform="rotate(-111 178.2 1047.4)" fill="#2f8a3c"/>
<ellipse cx="183.1" cy="1048.2" rx="6.8" ry="3.2" transform="rotate(-51 183.1 1048.2)" fill="#23803a"/>
<ellipse cx="188.9" cy="1072.0" rx="5.3" ry="3.6" transform="rotate(8 188.9 1072.0)" fill="#4aa656"/>
<ellipse cx="192.4" cy="1050.1" rx="5.9" ry="3.2" transform="rotate(-90 192.4 1050.1)" fill="#23803a"/>
<ellipse cx="196.7" cy="1052.5" rx="6.1" ry="3.2" transform="rotate(-30 196.7 1052.5)" fill="#2f8a3c"/>
<ellipse cx="192.1" cy="1076.7" rx="6.1" ry="3.2" transform="rotate(20 192.1 1076.7)" fill="#4aa656"/>
<ellipse cx="201.6" cy="1057.8" rx="5.7" ry="2.8" transform="rotate(-73 201.6 1057.8)" fill="#2a7d36"/>
<ellipse cx="205.0" cy="1061.4" rx="6.8" ry="3.2" transform="rotate(-13 205.0 1061.4)" fill="#3a9a48"/>
<ellipse cx="154.4" cy="1111.2" rx="5.3" ry="3.2" transform="rotate(-44 154.4 1111.2)" fill="#2f8a3c"/>
<ellipse cx="140.3" cy="1094.2" rx="6.7" ry="3.2" transform="rotate(-153 140.3 1094.2)" fill="#2f8a3c"/>
<ellipse cx="147.0" cy="1065.9" rx="6.8" ry="2.9" transform="rotate(-48 147.0 1065.9)" fill="#23803a"/>
<ellipse cx="143.0" cy="1048.2" rx="5.6" ry="3.0" transform="rotate(-115 143.0 1048.2)" fill="#23803a"/>
<ellipse cx="147.9" cy="1048.6" rx="7.1" ry="2.9" transform="rotate(-55 147.9 1048.6)" fill="#23803a"/>
<ellipse cx="134.2" cy="1069.5" rx="5.4" ry="2.9" transform="rotate(-65 134.2 1069.5)" fill="#2a7d36"/>
<ellipse cx="117.8" cy="1059.1" rx="5.3" ry="3.4" transform="rotate(-157 117.8 1059.1)" fill="#2a7d36"/>
<ellipse cx="121.7" cy="1056.1" rx="7.0" ry="2.8" transform="rotate(-97 121.7 1056.1)" fill="#4aa656"/>
<ellipse cx="130.5" cy="1237.8" rx="5.6" ry="3.3" transform="rotate(9 130.5 1237.8)" fill="#4aa656"/>
<ellipse cx="140.4" cy="1216.0" rx="7.1" ry="3.3" transform="rotate(-82 140.4 1216.0)" fill="#2a7d36"/>
<ellipse cx="160.1" cy="1204.3" rx="6.0" ry="3.5" transform="rotate(-5 160.1 1204.3)" fill="#4aa656"/>
<ellipse cx="179.1" cy="1192.2" rx="5.8" ry="3.3" transform="rotate(15 179.1 1192.2)" fill="#23803a"/>
<ellipse cx="198.8" cy="1174.0" rx="6.5" ry="2.9" transform="rotate(-68 198.8 1174.0)" fill="#3a9a48"/>
<ellipse cx="222.7" cy="1175.9" rx="5.6" ry="2.8" transform="rotate(35 222.7 1175.9)" fill="#4aa656"/>
<ellipse cx="238.3" cy="1164.0" rx="6.4" ry="2.7" transform="rotate(-76 238.3 1164.0)" fill="#23803a"/>
<ellipse cx="266.2" cy="1173.5" rx="5.4" ry="3.6" transform="rotate(43 266.2 1173.5)" fill="#1e6e30"/>
<ellipse cx="280.9" cy="1168.9" rx="6.4" ry="3.0" transform="rotate(-23 280.9 1168.9)" fill="#2f8a3c"/>
<ellipse cx="280.3" cy="1173.8" rx="7.2" ry="3.4" transform="rotate(37 280.3 1173.8)" fill="#4aa656"/>
<ellipse cx="263.6" cy="1158.3" rx="6.6" ry="3.6" transform="rotate(12 263.6 1158.3)" fill="#2f8a3c"/>
<ellipse cx="271.1" cy="1142.2" rx="6.0" ry="2.8" transform="rotate(-72 271.1 1142.2)" fill="#4aa656"/>
<ellipse cx="274.5" cy="1146.0" rx="5.7" ry="3.1" transform="rotate(-12 274.5 1146.0)" fill="#1e6e30"/>
<ellipse cx="218.4" cy="1164.7" rx="6.0" ry="3.2" transform="rotate(-0 218.4 1164.7)" fill="#1e6e30"/>
<ellipse cx="224.4" cy="1140.9" rx="5.4" ry="2.8" transform="rotate(-94 224.4 1140.9)" fill="#1e6e30"/>
<ellipse cx="249.3" cy="1127.4" rx="6.6" ry="2.9" transform="rotate(5 249.3 1127.4)" fill="#1e6e30"/>
<ellipse cx="260.6" cy="1112.3" rx="5.4" ry="2.8" transform="rotate(-66 260.6 1112.3)" fill="#23803a"/>
<ellipse cx="263.5" cy="1116.4" rx="7.1" ry="2.8" transform="rotate(-6 263.5 1116.4)" fill="#4aa656"/>
<ellipse cx="235.9" cy="1118.7" rx="6.1" ry="3.6" transform="rotate(-23 235.9 1118.7)" fill="#2a7d36"/>
<ellipse cx="228.9" cy="1100.1" rx="5.6" ry="3.1" transform="rotate(-118 228.9 1100.1)" fill="#3a9a48"/>
<ellipse cx="233.9" cy="1100.3" rx="6.1" ry="2.8" transform="rotate(-58 233.9 1100.3)" fill="#2a7d36"/>
<ellipse cx="170.6" cy="1184.8" rx="5.9" ry="3.3" transform="rotate(-29 170.6 1184.8)" fill="#4aa656"/>
<ellipse cx="168.8" cy="1163.6" rx="7.1" ry="3.0" transform="rotate(-114 168.8 1163.6)" fill="#4aa656"/>
<ellipse cx="181.6" cy="1147.0" rx="5.2" ry="3.3" transform="rotate(-38 181.6 1147.0)" fill="#2f8a3c"/>
<ellipse cx="180.2" cy="1127.8" rx="6.0" ry="2.8" transform="rotate(-44 180.2 1127.8)" fill="#2f8a3c"/>
<ellipse cx="166.5" cy="1107.8" rx="5.7" ry="3.1" transform="rotate(-156 166.5 1107.8)" fill="#23803a"/>
<ellipse cx="163.2" cy="1080.6" rx="5.4" ry="3.6" transform="rotate(-58 163.2 1080.6)" fill="#2f8a3c"/>
<ellipse cx="147.5" cy="1068.4" rx="6.4" ry="3.2" transform="rotate(-151 147.5 1068.4)" fill="#2f8a3c"/>
<ellipse cx="151.8" cy="1065.9" rx="6.1" ry="2.9" transform="rotate(-91 151.8 1065.9)" fill="#2f8a3c"/>
<ellipse cx="170.7" cy="1080.9" rx="5.9" ry="3.1" transform="rotate(-34 170.7 1080.9)" fill="#4aa656"/>
<ellipse cx="161.3" cy="1063.9" rx="6.4" ry="3.4" transform="rotate(-128 161.3 1063.9)" fill="#2f8a3c"/>
<ellipse cx="166.2" cy="1063.2" rx="7.1" ry="2.7" transform="rotate(-68 166.2 1063.2)" fill="#4aa656"/>
<ellipse cx="176.6" cy="1078.5" rx="5.5" ry="2.8" transform="rotate(-39 176.6 1078.5)" fill="#3a9a48"/>
<ellipse cx="173.1" cy="1060.7" rx="6.1" ry="3.0" transform="rotate(-110 173.1 1060.7)" fill="#4aa656"/>
<ellipse cx="178.1" cy="1061.6" rx="6.5" ry="2.8" transform="rotate(-50 178.1 1061.6)" fill="#3a9a48"/>
<ellipse cx="185.9" cy="1127.7" rx="7.2" ry="3.7" transform="rotate(-40 185.9 1127.7)" fill="#2a7d36"/>
<ellipse cx="183.1" cy="1104.9" rx="6.1" ry="2.9" transform="rotate(-129 183.1 1104.9)" fill="#1e6e30"/>
<ellipse cx="204.1" cy="1083.2" rx="6.6" ry="3.7" transform="rotate(-9 204.1 1083.2)" fill="#2f8a3c"/>
<ellipse cx="206.3" cy="1064.4" rx="7.2" ry="3.4" transform="rotate(-90 206.3 1064.4)" fill="#2f8a3c"/>
<ellipse cx="210.6" cy="1067.0" rx="6.5" ry="2.9" transform="rotate(-30 210.6 1067.0)" fill="#1e6e30"/>
<ellipse cx="189.0" cy="1076.6" rx="5.6" ry="3.1" transform="rotate(-63 189.0 1076.6)" fill="#3a9a48"/>
<ellipse cx="180.9" cy="1059.7" rx="6.2" ry="2.8" transform="rotate(-128 180.9 1059.7)" fill="#2f8a3c"/>
<ellipse cx="185.8" cy="1059.0" rx="5.4" ry="2.9" transform="rotate(-68 185.8 1059.0)" fill="#4aa656"/>
<ellipse cx="192.1" cy="1134.1" rx="6.6" ry="3.5" transform="rotate(6 192.1 1134.1)" fill="#23803a"/>
<ellipse cx="201.7" cy="1110.9" rx="6.5" ry="3.7" transform="rotate(-84 201.7 1110.9)" fill="#2a7d36"/>
<ellipse cx="218.9" cy="1091.6" rx="6.8" ry="2.8" transform="rotate(-22 218.9 1091.6)" fill="#2a7d36"/>
<ellipse cx="218.4" cy="1073.3" rx="5.5" ry="3.1" transform="rotate(-100 218.4 1073.3)" fill="#23803a"/>
<ellipse cx="223.1" cy="1075.0" rx="7.1" ry="3.6" transform="rotate(-40 223.1 1075.0)" fill="#2f8a3c"/>
<ellipse cx="223.3" cy="1094.8" rx="5.4" ry="3.1" transform="rotate(-7 223.3 1094.8)" fill="#1e6e30"/>
<ellipse cx="227.3" cy="1076.8" rx="6.3" ry="2.8" transform="rotate(-86 227.3 1076.8)" fill="#2f8a3c"/>
<ellipse cx="231.4" cy="1079.6" rx="5.4" ry="3.7" transform="rotate(-26 231.4 1079.6)" fill="#1e6e30"/>
<ellipse cx="225.7" cy="1101.2" rx="5.4" ry="3.3" transform="rotate(23 225.7 1101.2)" fill="#3a9a48"/>
<ellipse cx="235.5" cy="1084.6" rx="6.5" ry="3.2" transform="rotate(-68 235.5 1084.6)" fill="#23803a"/>
<ellipse cx="238.6" cy="1088.6" rx="5.8" ry="3.5" transform="rotate(-8 238.6 1088.6)" fill="#3a9a48"/>
<ellipse cx="137.0" cy="1244.1" rx="6.4" ry="3.2" transform="rotate(35 137.0 1244.1)" fill="#3a9a48"/>
<ellipse cx="151.2" cy="1227.9" rx="6.4" ry="2.9" transform="rotate(-89 151.2 1227.9)" fill="#2f8a3c"/>
<ellipse cx="174.1" cy="1225.3" rx="6.1" ry="3.6" transform="rotate(15 174.1 1225.3)" fill="#2f8a3c"/>
<ellipse cx="193.8" cy="1221.6" rx="6.8" ry="3.2" transform="rotate(52 193.8 1221.6)" fill="#3a9a48"/>
<ellipse cx="216.4" cy="1208.1" rx="7.1" ry="3.2" transform="rotate(-51 216.4 1208.1)" fill="#2a7d36"/>
<ellipse cx="244.5" cy="1212.3" rx="6.4" ry="3.7" transform="rotate(61 244.5 1212.3)" fill="#4aa656"/>
<ellipse cx="276.0" cy="1212.6" rx="7.1" ry="3.1" transform="rotate(58 276.0 1212.6)" fill="#2f8a3c"/>
<ellipse cx="292.1" cy="1208.9" rx="5.7" ry="3.5" transform="rotate(-20 292.1 1208.9)" fill="#2f8a3c"/>
<ellipse cx="291.3" cy="1213.8" rx="6.7" ry="3.4" transform="rotate(40 291.3 1213.8)" fill="#3a9a48"/>
<ellipse cx="274.5" cy="1198.9" rx="5.8" ry="3.3" transform="rotate(9 274.5 1198.9)" fill="#2a7d36"/>
<ellipse cx="280.0" cy="1185.3" rx="5.4" ry="3.0" transform="rotate(-70 280.0 1185.3)" fill="#1e6e30"/>
<ellipse cx="283.2" cy="1189.2" rx="6.5" ry="3.5" transform="rotate(-10 283.2 1189.2)" fill="#2f8a3c"/>
<ellipse cx="238.1" cy="1206.2" rx="6.0" ry="3.0" transform="rotate(24 238.1 1206.2)" fill="#3a9a48"/>
<ellipse cx="250.9" cy="1188.1" rx="5.7" ry="2.8" transform="rotate(-70 250.9 1188.1)" fill="#2a7d36"/>
<ellipse cx="276.5" cy="1184.8" rx="5.9" ry="3.2" transform="rotate(31 276.5 1184.8)" fill="#4aa656"/>
<ellipse cx="288.3" cy="1172.0" rx="7.2" ry="3.3" transform="rotate(-52 288.3 1172.0)" fill="#3a9a48"/>
<ellipse cx="290.2" cy="1176.6" rx="6.3" ry="3.2" transform="rotate(8 290.2 1176.6)" fill="#2f8a3c"/>
<ellipse cx="270.8" cy="1171.7" rx="6.0" ry="3.0" transform="rotate(-20 270.8 1171.7)" fill="#4aa656"/>
<ellipse cx="273.0" cy="1155.0" rx="6.4" ry="2.9" transform="rotate(-90 273.0 1155.0)" fill="#2f8a3c"/>
<ellipse cx="277.3" cy="1157.5" rx="6.1" ry="3.2" transform="rotate(-30 277.3 1157.5)" fill="#23803a"/>
<ellipse cx="191.7" cy="1209.9" rx="6.5" ry="3.0" transform="rotate(-4 191.7 1209.9)" fill="#2f8a3c"/>
<ellipse cx="201.0" cy="1185.3" rx="5.3" ry="3.5" transform="rotate(-92 201.0 1185.3)" fill="#2f8a3c"/>
<ellipse cx="216.6" cy="1168.4" rx="5.5" ry="3.1" transform="rotate(-33 216.6 1168.4)" fill="#23803a"/>
<ellipse cx="213.1" cy="1148.7" rx="6.0" ry="2.9" transform="rotate(-132 213.1 1148.7)" fill="#2f8a3c"/>
<ellipse cx="234.0" cy="1127.2" rx="6.6" ry="2.7" transform="rotate(-11 234.0 1127.2)" fill="#23803a"/>
<ellipse cx="236.8" cy="1109.4" rx="6.2" ry="2.9" transform="rotate(-88 236.8 1109.4)" fill="#4aa656"/>
<ellipse cx="241.0" cy="1112.1" rx="6.3" ry="3.4" transform="rotate(-28 241.0 1112.1)" fill="#23803a"/>
<ellipse cx="220.5" cy="1121.3" rx="6.0" ry="3.7" transform="rotate(-58 220.5 1121.3)" fill="#2f8a3c"/>
<ellipse cx="212.1" cy="1106.9" rx="6.6" ry="3.1" transform="rotate(-127 212.1 1106.9)" fill="#3a9a48"/>
<ellipse cx="217.0" cy="1106.3" rx="5.9" ry="3.3" transform="rotate(-67 217.0 1106.3)" fill="#23803a"/>
<ellipse cx="219.4" cy="1172.2" rx="6.9" ry="2.9" transform="rotate(-6 219.4 1172.2)" fill="#2f8a3c"/>
<ellipse cx="221.9" cy="1150.5" rx="6.4" ry="3.0" transform="rotate(-115 221.9 1150.5)" fill="#2a7d36"/>
<ellipse cx="234.2" cy="1125.2" rx="5.4" ry="3.5" transform="rotate(-47 234.2 1125.2)" fill="#23803a"/>
<ellipse cx="228.7" cy="1108.8" rx="5.3" ry="2.8" transform="rotate(-117 228.7 1108.8)" fill="#23803a"/>
<ellipse cx="233.7" cy="1109.1" rx="6.4" ry="3.5" transform="rotate(-57 233.7 1109.1)" fill="#2a7d36"/>
<ellipse cx="241.4" cy="1128.2" rx="6.5" ry="3.1" transform="rotate(-23 241.4 1128.2)" fill="#2f8a3c"/>
<ellipse cx="242.7" cy="1109.5" rx="5.8" ry="3.4" transform="rotate(-96 242.7 1109.5)" fill="#2f8a3c"/>
<ellipse cx="247.2" cy="1111.5" rx="6.0" ry="2.9" transform="rotate(-36 247.2 1111.5)" fill="#23803a"/>
<ellipse cx="246.1" cy="1139.2" rx="5.9" ry="3.0" transform="rotate(20 246.1 1139.2)" fill="#2f8a3c"/>
<ellipse cx="256.7" cy="1124.6" rx="5.5" ry="3.0" transform="rotate(-64 256.7 1124.6)" fill="#23803a"/>
<ellipse cx="259.4" cy="1128.7" rx="5.3" ry="3.5" transform="rotate(-4 259.4 1128.7)" fill="#2f8a3c"/>
<ellipse cx="228.1" cy="1173.3" rx="6.0" ry="2.8" transform="rotate(30 228.1 1173.3)" fill="#3a9a48"/>
<ellipse cx="255.0" cy="1154.5" rx="7.1" ry="3.3" transform="rotate(23 255.0 1154.5)" fill="#2f8a3c"/>
<ellipse cx="266.1" cy="1141.8" rx="6.4" ry="3.4" transform="rotate(-55 266.1 1141.8)" fill="#3a9a48"/>
<ellipse cx="268.3" cy="1146.4" rx="6.4" ry="2.7" transform="rotate(5 268.3 1146.4)" fill="#4aa656"/>
<ellipse cx="247.6" cy="1145.2" rx="6.2" ry="3.0" transform="rotate(-20 247.6 1145.2)" fill="#4aa656"/>
<ellipse cx="248.5" cy="1130.6" rx="7.2" ry="3.6" transform="rotate(-92 248.5 1130.6)" fill="#2f8a3c"/>
<ellipse cx="252.9" cy="1132.9" rx="5.5" ry="2.8" transform="rotate(-32 252.9 1132.9)" fill="#4aa656"/>
<line x1="119.6" y1="1245.4" x2="66.6" y2="1231.8" stroke="#0b4a1c" stroke-width="7.0" stroke-linecap="round"/>
<line x1="66.6" y1="1231.8" x2="35.0" y2="1199.1" stroke="#0b4a1c" stroke-width="4.3" stroke-linecap="round"/>
<line x1="35.0" y1="1199.1" x2="23.4" y2="1162.0" stroke="#0b4a1c" stroke-width="2.7" stroke-linecap="round"/>
<line x1="23.4" y1="1162.0" x2="22.4" y2="1132.7" stroke="#0b4a1c" stroke-width="1.7" stroke-linecap="round"/>
<line x1="23.4" y1="1162.0" x2="6.0" y2="1134.5" stroke="#15602a" stroke-width="1.7" stroke-linecap="round"/>
<line x1="35.0" y1="1199.1" x2="4.8" y2="1177.9" stroke="#0b4a1c" stroke-width="2.7" stroke-linecap="round"/>
<line x1="4.8" y1="1177.9" x2="-23.9" y2="1168.1" stroke="#15602a" stroke-width="1.7" stroke-linecap="round"/>
<line x1="4.8" y1="1177.9" x2="-16.1" y2="1160.8" stroke="#23783a" stroke-width="1.7" stroke-linecap="round"/>
<line x1="4.8" y1="1177.9" x2="-4.3" y2="1150.7" stroke="#15602a" stroke-width="1.7" stroke-linecap="round"/>
<line x1="66.6" y1="1231.8" x2="25.7" y2="1234.1" stroke="#0b4a1c" stroke-width="4.3" stroke-linecap="round"/>
<line x1="25.7" y1="1234.1" x2="-0.3" y2="1216.9" stroke="#0b4a1c" stroke-width="2.7" stroke-linecap="round"/>
<line x1="-0.3" y1="1216.9" x2="-23.2" y2="1211.9" stroke="#0b4a1c" stroke-width="1.7" stroke-linecap="round"/>
<line x1="-0.3" y1="1216.9" x2="-17.1" y2="1201.0" stroke="#15602a" stroke-width="1.7" stroke-linecap="round"/>
<line x1="-0.3" y1="1216.9" x2="-12.7" y2="1194.6" stroke="#15602a" stroke-width="1.7" stroke-linecap="round"/>
<line x1="25.7" y1="1234.1" x2="-4.6" y2="1244.2" stroke="#0b4a1c" stroke-width="2.7" stroke-linecap="round"/>
<line x1="-4.6" y1="1244.2" x2="-27.5" y2="1248.0" stroke="#23783a" stroke-width="1.7" stroke-linecap="round"/>
<line x1="-4.6" y1="1244.2" x2="-30.5" y2="1245.0" stroke="#23783a" stroke-width="1.7" stroke-linecap="round"/>
<line x1="-4.6" y1="1244.2" x2="-27.9" y2="1237.6" stroke="#0b4a1c" stroke-width="1.7" stroke-linecap="round"/>
<line x1="118.4" y1="1242.4" x2="66.4" y2="1205.4" stroke="#0b4a1c" stroke-width="7.0" stroke-linecap="round"/>
<line x1="66.4" y1="1205.4" x2="16.5" y2="1185.5" stroke="#0b4a1c" stroke-width="4.3" stroke-linecap="round"/>
<line x1="16.5" y1="1185.5" x2="-12.7" y2="1150.2" stroke="#0b4a1c" stroke-width="2.7" stroke-linecap="round"/>
<line x1="-12.7" y1="1150.2" x2="-27.8" y2="1114.2" stroke="#0b4a1c" stroke-width="1.7" stroke-linecap="round"/>
<line x1="-12.7" y1="1150.2" x2="-39.6" y2="1128.2" stroke="#15602a" stroke-width="1.7" stroke-linecap="round"/>
<line x1="16.5" y1="1185.5" x2="-23.5" y2="1180.1" stroke="#0b4a1c" stroke-width="2.7" stroke-linecap="round"/>
<line x1="-23.5" y1="1180.1" x2="-54.0" y2="1183.1" stroke="#23783a" stroke-width="1.7" stroke-linecap="round"/>
<line x1="-23.5" y1="1180.1" x2="-53.8" y2="1172.5" stroke="#23783a" stroke-width="1.7" stroke-linecap="round"/>
<line x1="-23.5" y1="1180.1" x2="-51.8" y2="1161.0" stroke="#23783a" stroke-width="1.7" stroke-linecap="round"/>
<line x1="66.4" y1="1205.4" x2="29.5" y2="1169.9" stroke="#0b4a1c" stroke-width="4.3" stroke-linecap="round"/>
<line x1="29.5" y1="1169.9" x2="-9.7" y2="1156.7" stroke="#0b4a1c" stroke-width="2.7" stroke-linecap="round"/>
<line x1="-9.7" y1="1156.7" x2="-31.7" y2="1129.5" stroke="#0b4a1c" stroke-width="1.7" stroke-linecap="round"/>
<line x1="-9.7" y1="1156.7" x2="-44.5" y2="1151.5" stroke="#23783a" stroke-width="1.7" stroke-linecap="round"/>
<line x1="29.5" y1="1169.9" x2="4.1" y2="1135.1" stroke="#0b4a1c" stroke-width="2.7" stroke-linecap="round"/>
<line x1="4.1" y1="1135.1" x2="-2.6" y2="1101.0" stroke="#0b4a1c" stroke-width="1.7" stroke-linecap="round"/>
<line x1="4.1" y1="1135.1" x2="-22.3" y2="1110.1" stroke="#15602a" stroke-width="1.7" stroke-linecap="round"/>
<line x1="29.5" y1="1169.9" x2="21.0" y2="1129.7" stroke="#0b4a1c" stroke-width="2.7" stroke-linecap="round"/>
<line x1="21.0" y1="1129.7" x2="27.1" y2="1099.5" stroke="#15602a" stroke-width="1.7" stroke-linecap="round"/>
<line x1="21.0" y1="1129.7" x2="2.8" y2="1100.1" stroke="#23783a" stroke-width="1.7" stroke-linecap="round"/>
<line x1="66.4" y1="1205.4" x2="41.0" y2="1160.0" stroke="#0b4a1c" stroke-width="4.3" stroke-linecap="round"/>
<line x1="41.0" y1="1160.0" x2="39.4" y2="1117.7" stroke="#0b4a1c" stroke-width="2.7" stroke-linecap="round"/>
<line x1="39.4" y1="1117.7" x2="27.8" y2="1087.5" stroke="#23783a" stroke-width="1.7" stroke-linecap="round"/>
<line x1="39.4" y1="1117.7" x2="40.3" y2="1082.2" stroke="#23783a" stroke-width="1.7" stroke-linecap="round"/>
<line x1="39.4" y1="1117.7" x2="47.8" y2="1087.4" stroke="#0b4a1c" stroke-width="1.7" stroke-linecap="round"/>
<line x1="41.0" y1="1160.0" x2="8.3" y2="1136.2" stroke="#0b4a1c" stroke-width="2.7" stroke-linecap="round"/>
<line x1="8.3" y1="1136.2" x2="-19.7" y2="1127.4" stroke="#0b4a1c" stroke-width="1.7" stroke-linecap="round"/>
<line x1="8.3" y1="1136.2" x2="-14.7" y2="1113.4" stroke="#0b4a1c" stroke-width="1.7" stroke-linecap="round"/>
<line x1="8.3" y1="1136.2" x2="-7.5" y2="1110.8" stroke="#15602a" stroke-width="1.7" stroke-linecap="round"/>
<line x1="122.6" y1="1243.4" x2="85.9" y2="1183.9" stroke="#0b4a1c" stroke-width="7.0" stroke-linecap="round"/>
<line x1="85.9" y1="1183.9" x2="44.8" y2="1151.6" stroke="#0b4a1c" stroke-width="4.3" stroke-linecap="round"/>
<line x1="44.8" y1="1151.6" x2="8.1" y2="1135.2" stroke="#0b4a1c" stroke-width="2.7" stroke-linecap="round"/>
<line x1="8.1" y1="1135.2" x2="-6.3" y2="1109.5" stroke="#15602a" stroke-width="1.7" stroke-linecap="round"/>
<line x1="8.1" y1="1135.2" x2="-23.3" y2="1133.0" stroke="#23783a" stroke-width="1.7" stroke-linecap="round"/>
<line x1="44.8" y1="1151.6" x2="14.2" y2="1123.1" stroke="#0b4a1c" stroke-width="2.7" stroke-linecap="round"/>
<line x1="14.2" y1="1123.1" x2="1.7" y2="1090.5" stroke="#0b4a1c" stroke-width="1.7" stroke-linecap="round"/>
<line x1="14.2" y1="1123.1" x2="-17.1" y2="1106.7" stroke="#0b4a1c" stroke-width="1.7" stroke-linecap="round"/>
<line x1="44.8" y1="1151.6" x2="24.7" y2="1113.1" stroke="#0b4a1c" stroke-width="2.7" stroke-linecap="round"/>
<line x1="24.7" y1="1113.1" x2="22.7" y2="1077.2" stroke="#0b4a1c" stroke-width="1.7" stroke-linecap="round"/>
<line x1="24.7" y1="1113.1" x2="3.7" y2="1089.4" stroke="#15602a" stroke-width="1.7" stroke-linecap="round"/>
<line x1="85.9" y1="1183.9" x2="57.2" y2="1133.5" stroke="#0b4a1c" stroke-width="4.3" stroke-linecap="round"/>
<line x1="57.2" y1="1133.5" x2="28.6" y2="1102.1" stroke="#0b4a1c" stroke-width="2.7" stroke-linecap="round"/>
<line x1="28.6" y1="1102.1" x2="21.4" y2="1068.9" stroke="#15602a" stroke-width="1.7" stroke-linecap="round"/>
<line x1="28.6" y1="1102.1" x2="-0.9" y2="1081.4" stroke="#15602a" stroke-width="1.7" stroke-linecap="round"/>
<line x1="57.2" y1="1133.5" x2="40.6" y2="1090.5" stroke="#0b4a1c" stroke-width="2.7" stroke-linecap="round"/>
<line x1="40.6" y1="1090.5" x2="42.2" y2="1054.0" stroke="#0b4a1c" stroke-width="1.7" stroke-linecap="round"/>
<line x1="40.6" y1="1090.5" x2="20.3" y2="1060.4" stroke="#15602a" stroke-width="1.7" stroke-linecap="round"/>
<line x1="57.2" y1="1133.5" x2="53.6" y2="1088.4" stroke="#0b4a1c" stroke-width="2.7" stroke-linecap="round"/>
<line x1="53.6" y1="1088.4" x2="66.5" y2="1052.5" stroke="#15602a" stroke-width="1.7" stroke-linecap="round"/>
<line x1="53.6" y1="1088.4" x2="42.2" y2="1057.1" stroke="#0b4a1c" stroke-width="1.7" stroke-linecap="round"/>
<line x1="85.9" y1="1183.9" x2="81.2" y2="1131.6" stroke="#0b4a1c" stroke-width="4.3" stroke-linecap="round"/>
<line x1="81.2" y1="1131.6" x2="92.0" y2="1091.4" stroke="#0b4a1c" stroke-width="2.7" stroke-linecap="round"/>
<line x1="92.0" y1="1091.4" x2="109.2" y2="1065.7" stroke="#23783a" stroke-width="1.7" stroke-linecap="round"/>
<line x1="92.0" y1="1091.4" x2="88.8" y2="1058.5" stroke="#23783a" stroke-width="1.7" stroke-linecap="round"/>
<line x1="81.2" y1="1131.6" x2="64.9" y2="1095.5" stroke="#0b4a1c" stroke-width="2.7" stroke-linecap="round"/>
<line x1="64.9" y1="1095.5" x2="65.6" y2="1061.5" stroke="#15602a" stroke-width="1.7" stroke-linecap="round"/>
<line x1="64.9" y1="1095.5" x2="40.1" y2="1074.5" stroke="#15602a" stroke-width="1.7" stroke-linecap="round"/>
<line x1="122.7" y1="1244.5" x2="106.8" y2="1171.8" stroke="#0b4a1c" stroke-width="7.0" stroke-linecap="round"/>
<line x1="106.8" y1="1171.8" x2="125.1" y2="1120.1" stroke="#0b4a1c" stroke-width="4.3" stroke-linecap="round"/>
<line x1="125.1" y1="1120.1" x2="144.8" y2="1085.5" stroke="#0b4a1c" stroke-width="2.7" stroke-linecap="round"/>
<line x1="144.8" y1="1085.5" x2="170.0" y2="1062.6" stroke="#15602a" stroke-width="1.7" stroke-linecap="round"/>
<line x1="144.8" y1="1085.5" x2="146.9" y2="1051.7" stroke="#23783a" stroke-width="1.7" stroke-linecap="round"/>
<line x1="125.1" y1="1120.1" x2="124.2" y2="1077.1" stroke="#0b4a1c" stroke-width="2.7" stroke-linecap="round"/>
<line x1="124.2" y1="1077.1" x2="107.8" y2="1047.6" stroke="#15602a" stroke-width="1.7" stroke-linecap="round"/>
<line x1="124.2" y1="1077.1" x2="121.9" y2="1045.1" stroke="#23783a" stroke-width="1.7" stroke-linecap="round"/>
<line x1="124.2" y1="1077.1" x2="141.0" y2="1045.4" stroke="#15602a" stroke-width="1.7" stroke-linecap="round"/>
<line x1="106.8" y1="1171.8" x2="73.6" y2="1124.3" stroke="#0b4a1c" stroke-width="4.3" stroke-linecap="round"/>
<line x1="73.6" y1="1124.3" x2="38.5" y2="1096.4" stroke="#0b4a1c" stroke-width="2.7" stroke-linecap="round"/>
<line x1="38.5" y1="1096.4" x2="9.2" y2="1081.5" stroke="#0b4a1c" stroke-width="1.7" stroke-linecap="round"/>
<line x1="38.5" y1="1096.4" x2="11.8" y2="1074.3" stroke="#23783a" stroke-width="1.7" stroke-linecap="round"/>
<line x1="38.5" y1="1096.4" x2="20.5" y2="1062.6" stroke="#23783a" stroke-width="1.7" stroke-linecap="round"/>
<line x1="73.6" y1="1124.3" x2="51.0" y2="1085.7" stroke="#0b4a1c" stroke-width="2.7" stroke-linecap="round"/>
<line x1="51.0" y1="1085.7" x2="26.5" y2="1058.1" stroke="#0b4a1c" stroke-width="1.7" stroke-linecap="round"/>
<line x1="51.0" y1="1085.7" x2="33.5" y2="1057.2" stroke="#23783a" stroke-width="1.7" stroke-linecap="round"/>
<line x1="51.0" y1="1085.7" x2="42.2" y2="1048.8" stroke="#15602a" stroke-width="1.7" stroke-linecap="round"/>
<line x1="73.6" y1="1124.3" x2="72.2" y2="1078.1" stroke="#0b4a1c" stroke-width="2.7" stroke-linecap="round"/>
<line x1="72.2" y1="1078.1" x2="84.0" y2="1040.6" stroke="#0b4a1c" stroke-width="1.7" stroke-linecap="round"/>
<line x1="72.2" y1="1078.1" x2="58.4" y2="1047.4" stroke="#0b4a1c" stroke-width="1.7" stroke-linecap="round"/>
<line x1="120.2" y1="1245.6" x2="127.2" y2="1169.9" stroke="#0b4a1c" stroke-width="7.0" stroke-linecap="round"/>
<line x1="127.2" y1="1169.9" x2="145.9" y2="1110.0" stroke="#0b4a1c" stroke-width="4.3" stroke-linecap="round"/>
<line x1="145.9" y1="1110.0" x2="177.5" y2="1072.1" stroke="#0b4a1c" stroke-width="2.7" stroke-linecap="round"/>
<line x1="177.5" y1="1072.1" x2="191.2" y2="1033.3" stroke="#15602a" stroke-width="1.7" stroke-linecap="round"/>
<line x1="177.5" y1="1072.1" x2="196.6" y2="1041.7" stroke="#0b4a1c" stroke-width="1.7" stroke-linecap="round"/>
<line x1="177.5" y1="1072.1" x2="210.6" y2="1049.2" stroke="#23783a" stroke-width="1.7" stroke-linecap="round"/>
<line x1="145.9" y1="1110.0" x2="139.6" y2="1060.6" stroke="#0b4a1c" stroke-width="2.7" stroke-linecap="round"/>
<line x1="139.6" y1="1060.6" x2="154.6" y2="1023.2" stroke="#15602a" stroke-width="1.7" stroke-linecap="round"/>
<line x1="139.6" y1="1060.6" x2="119.0" y2="1025.9" stroke="#15602a" stroke-width="1.7" stroke-linecap="round"/>
<line x1="127.2" y1="1169.9" x2="119.1" y2="1106.4" stroke="#0b4a1c" stroke-width="4.3" stroke-linecap="round"/>
<line x1="119.1" y1="1106.4" x2="124.4" y2="1054.4" stroke="#0b4a1c" stroke-width="2.7" stroke-linecap="round"/>
<line x1="124.4" y1="1054.4" x2="144.4" y2="1015.6" stroke="#23783a" stroke-width="1.7" stroke-linecap="round"/>
<line x1="124.4" y1="1054.4" x2="116.6" y2="1016.1" stroke="#23783a" stroke-width="1.7" stroke-linecap="round"/>
<line x1="119.1" y1="1106.4" x2="99.1" y2="1055.1" stroke="#0b4a1c" stroke-width="2.7" stroke-linecap="round"/>
<line x1="99.1" y1="1055.1" x2="96.4" y2="1008.9" stroke="#23783a" stroke-width="1.7" stroke-linecap="round"/>
<line x1="99.1" y1="1055.1" x2="74.1" y2="1021.5" stroke="#15602a" stroke-width="1.7" stroke-linecap="round"/>
<line x1="116.7" y1="1243.8" x2="146.4" y2="1178.9" stroke="#0b4a1c" stroke-width="7.0" stroke-linecap="round"/>
<line x1="146.4" y1="1178.9" x2="183.9" y2="1135.8" stroke="#0b4a1c" stroke-width="4.3" stroke-linecap="round"/>
<line x1="183.9" y1="1135.8" x2="226.0" y2="1112.1" stroke="#0b4a1c" stroke-width="2.7" stroke-linecap="round"/>
<line x1="226.0" y1="1112.1" x2="262.3" y2="1099.0" stroke="#15602a" stroke-width="1.7" stroke-linecap="round"/>
<line x1="226.0" y1="1112.1" x2="246.0" y2="1077.6" stroke="#23783a" stroke-width="1.7" stroke-linecap="round"/>
<line x1="183.9" y1="1135.8" x2="196.8" y2="1092.0" stroke="#0b4a1c" stroke-width="2.7" stroke-linecap="round"/>
<line x1="196.8" y1="1092.0" x2="215.6" y2="1064.3" stroke="#23783a" stroke-width="1.7" stroke-linecap="round"/>
<line x1="196.8" y1="1092.0" x2="187.9" y2="1056.1" stroke="#15602a" stroke-width="1.7" stroke-linecap="round"/>
<line x1="146.4" y1="1178.9" x2="152.2" y2="1125.3" stroke="#0b4a1c" stroke-width="4.3" stroke-linecap="round"/>
<line x1="152.2" y1="1125.3" x2="174.0" y2="1087.2" stroke="#0b4a1c" stroke-width="2.7" stroke-linecap="round"/>
<line x1="174.0" y1="1087.2" x2="179.9" y2="1052.0" stroke="#15602a" stroke-width="1.7" stroke-linecap="round"/>
<line x1="174.0" y1="1087.2" x2="192.4" y2="1055.1" stroke="#23783a" stroke-width="1.7" stroke-linecap="round"/>
<line x1="174.0" y1="1087.2" x2="200.2" y2="1062.5" stroke="#0b4a1c" stroke-width="1.7" stroke-linecap="round"/>
<line x1="152.2" y1="1125.3" x2="142.0" y2="1086.7" stroke="#0b4a1c" stroke-width="2.7" stroke-linecap="round"/>
<line x1="142.0" y1="1086.7" x2="145.1" y2="1052.7" stroke="#15602a" stroke-width="1.7" stroke-linecap="round"/>
<line x1="142.0" y1="1086.7" x2="122.4" y2="1061.0" stroke="#23783a" stroke-width="1.7" stroke-linecap="round"/>
<line x1="116.5" y1="1244.8" x2="163.0" y2="1196.6" stroke="#0b4a1c" stroke-width="7.0" stroke-linecap="round"/>
<line x1="163.0" y1="1196.6" x2="207.8" y2="1173.9" stroke="#0b4a1c" stroke-width="4.3" stroke-linecap="round"/>
<line x1="207.8" y1="1173.9" x2="246.8" y2="1167.4" stroke="#0b4a1c" stroke-width="2.7" stroke-linecap="round"/>
<line x1="246.8" y1="1167.4" x2="276.3" y2="1170.9" stroke="#15602a" stroke-width="1.7" stroke-linecap="round"/>
<line x1="246.8" y1="1167.4" x2="269.6" y2="1147.0" stroke="#15602a" stroke-width="1.7" stroke-linecap="round"/>
<line x1="207.8" y1="1173.9" x2="230.4" y2="1137.2" stroke="#0b4a1c" stroke-width="2.7" stroke-linecap="round"/>
<line x1="230.4" y1="1137.2" x2="258.6" y2="1116.9" stroke="#0b4a1c" stroke-width="1.7" stroke-linecap="round"/>
<line x1="230.4" y1="1137.2" x2="231.3" y2="1104.5" stroke="#23783a" stroke-width="1.7" stroke-linecap="round"/>
<line x1="163.0" y1="1196.6" x2="179.5" y2="1141.6" stroke="#0b4a1c" stroke-width="4.3" stroke-linecap="round"/>
<line x1="179.5" y1="1141.6" x2="168.8" y2="1099.4" stroke="#0b4a1c" stroke-width="2.7" stroke-linecap="round"/>
<line x1="168.8" y1="1099.4" x2="151.9" y2="1070.9" stroke="#15602a" stroke-width="1.7" stroke-linecap="round"/>
<line x1="168.8" y1="1099.4" x2="164.4" y2="1067.8" stroke="#0b4a1c" stroke-width="1.7" stroke-linecap="round"/>
<line x1="168.8" y1="1099.4" x2="174.8" y2="1065.4" stroke="#23783a" stroke-width="1.7" stroke-linecap="round"/>
<line x1="179.5" y1="1141.6" x2="189.2" y2="1098.8" stroke="#0b4a1c" stroke-width="2.7" stroke-linecap="round"/>
<line x1="189.2" y1="1098.8" x2="206.3" y2="1069.4" stroke="#15602a" stroke-width="1.7" stroke-linecap="round"/>
<line x1="189.2" y1="1098.8" x2="184.0" y2="1063.6" stroke="#15602a" stroke-width="1.7" stroke-linecap="round"/>
<line x1="179.5" y1="1141.6" x2="208.2" y2="1109.2" stroke="#0b4a1c" stroke-width="2.7" stroke-linecap="round"/>
<line x1="208.2" y1="1109.2" x2="219.3" y2="1078.2" stroke="#23783a" stroke-width="1.7" stroke-linecap="round"/>
<line x1="208.2" y1="1109.2" x2="226.9" y2="1081.8" stroke="#15602a" stroke-width="1.7" stroke-linecap="round"/>
<line x1="208.2" y1="1109.2" x2="233.7" y2="1089.3" stroke="#23783a" stroke-width="1.7" stroke-linecap="round"/>
<line x1="123.6" y1="1245.4" x2="178.7" y2="1219.8" stroke="#0b4a1c" stroke-width="7.0" stroke-linecap="round"/>
<line x1="178.7" y1="1219.8" x2="224.8" y2="1209.4" stroke="#0b4a1c" stroke-width="4.3" stroke-linecap="round"/>
<line x1="224.8" y1="1209.4" x2="259.0" y2="1205.9" stroke="#0b4a1c" stroke-width="2.7" stroke-linecap="round"/>
<line x1="259.0" y1="1205.9" x2="287.4" y2="1210.6" stroke="#0b4a1c" stroke-width="1.7" stroke-linecap="round"/>
<line x1="259.0" y1="1205.9" x2="278.2" y2="1190.0" stroke="#15602a" stroke-width="1.7" stroke-linecap="round"/>
<line x1="224.8" y1="1209.4" x2="257.2" y2="1187.4" stroke="#0b4a1c" stroke-width="2.7" stroke-linecap="round"/>
<line x1="257.2" y1="1187.4" x2="285.3" y2="1175.9" stroke="#0b4a1c" stroke-width="1.7" stroke-linecap="round"/>
<line x1="257.2" y1="1187.4" x2="273.0" y2="1160.0" stroke="#15602a" stroke-width="1.7" stroke-linecap="round"/>
<line x1="178.7" y1="1219.8" x2="208.7" y2="1181.7" stroke="#0b4a1c" stroke-width="4.3" stroke-linecap="round"/>
<line x1="208.7" y1="1181.7" x2="218.9" y2="1142.5" stroke="#0b4a1c" stroke-width="2.7" stroke-linecap="round"/>
<line x1="218.9" y1="1142.5" x2="236.6" y2="1114.4" stroke="#15602a" stroke-width="1.7" stroke-linecap="round"/>
<line x1="218.9" y1="1142.5" x2="215.1" y2="1110.9" stroke="#0b4a1c" stroke-width="1.7" stroke-linecap="round"/>
<line x1="208.7" y1="1181.7" x2="229.1" y2="1146.2" stroke="#0b4a1c" stroke-width="2.7" stroke-linecap="round"/>
<line x1="229.1" y1="1146.2" x2="231.0" y2="1113.2" stroke="#23783a" stroke-width="1.7" stroke-linecap="round"/>
<line x1="229.1" y1="1146.2" x2="243.2" y2="1114.5" stroke="#0b4a1c" stroke-width="1.7" stroke-linecap="round"/>
<line x1="229.1" y1="1146.2" x2="254.5" y2="1129.1" stroke="#15602a" stroke-width="1.7" stroke-linecap="round"/>
<line x1="208.7" y1="1181.7" x2="236.4" y2="1158.5" stroke="#0b4a1c" stroke-width="2.7" stroke-linecap="round"/>
<line x1="236.4" y1="1158.5" x2="263.3" y2="1145.9" stroke="#23783a" stroke-width="1.7" stroke-linecap="round"/>
<line x1="236.4" y1="1158.5" x2="248.6" y2="1135.5" stroke="#0b4a1c" stroke-width="1.7" stroke-linecap="round"/>
</g>
<path d="M109.5,1331 C111,1305 113,1275 112,1252 L100,1236 L116,1243 L120,1228 L125,1243 L140,1234 L129,1253 C128,1275 129,1305 131,1331 Z" fill="#0b4a1c"/>
<circle cx="86.2" cy="1047.2" r="8.3" fill="url(#fruitG)" stroke="#c8c070" stroke-width="0.6"/>
<circle cx="46.8" cy="1073.2" r="8" fill="url(#fruitG)" stroke="#c8c070" stroke-width="0.6"/>
<circle cx="177.2" cy="1075.6" r="8" fill="url(#fruitG)" stroke="#c8c070" stroke-width="0.6"/>
<circle cx="121.2" cy="1095.7" r="6" fill="url(#fruitG)" stroke="#c8c070" stroke-width="0.6"/>
<circle cx="215" cy="1100.4" r="5.5" fill="url(#fruitG)" stroke="#c8c070" stroke-width="0.6"/>
<circle cx="4.7" cy="1139.4" r="6" fill="url(#fruitG)" stroke="#c8c070" stroke-width="0.6"/>
<circle cx="239.8" cy="1140.6" r="6" fill="url(#fruitG)" stroke="#c8c070" stroke-width="0.6"/>
<circle cx="193.2" cy="1167.7" r="8.5" fill="url(#fruitG)" stroke="#c8c070" stroke-width="0.6"/>
<circle cx="22.9" cy="1174.8" r="7.5" fill="url(#fruitG)" stroke="#c8c070" stroke-width="0.6"/>
<circle cx="104" cy="1175.3" r="6" fill="url(#fruitG)" stroke="#c8c070" stroke-width="0.6"/>
<circle cx="163.7" cy="1215" r="6" fill="url(#fruitG)" stroke="#c8c070" stroke-width="0.6"/>
<line x1="215.0" y1="1101.5" x2="290.0" y2="1133.5" stroke="#000" stroke-width="1.3" />
<line x1="214.0" y1="1104.0" x2="290.0" y2="1204.5" stroke="#000" stroke-width="1.3" />
<clipPath id="photoClip"><rect x="291" y="1132.6" width="74.6" height="72.4"/></clipPath>
<g clip-path="url(#photoClip)">
<rect x="291" y="1132.6" width="74.6" height="72.4" fill="#2e3a2c"/>
<linearGradient id="leafG" x1="0" y1="0" x2="1" y2="1"><stop offset="0" stop-color="#58b030"/><stop offset="1" stop-color="#7ab870"/></linearGradient>
<path d="M340,1150 C352,1136 366,1134 370,1140 L370,1210 L300,1210 C320,1200 335,1185 340,1150 Z" fill="url(#leafG)"/>
<path d="M300,1210 C320,1195 345,1192 370,1198 L370,1210 Z" fill="#8ab890"/>
<path d="M291,1132 L298,1132 L297,1205 L291,1205 Z" fill="#a45a30"/>
<path d="M296,1135 C305,1132 320,1132 330,1134 L320,1140 C310,1142 302,1150 298,1160 Z" fill="#a88070" opacity="0.8"/>
<radialGradient id="budG2" cx="0.45" cy="0.4" r="0.6"><stop offset="0" stop-color="#d4d8a8"/><stop offset="0.7" stop-color="#b8c488"/><stop offset="1" stop-color="#a0b070" stop-opacity="0.9"/></radialGradient>
<ellipse cx="325" cy="1160" rx="26.5" ry="23.5" fill="url(#budG2)"/>
<path d="M333,1160 C338,1162 342,1166 344,1170" stroke="#a08060" stroke-width="1.5" fill="none" opacity="0.7"/>
<g stroke="#8080b0" stroke-width="1.1" fill="none"><path d="M322,1188 L318,1172 L320,1168"/><path d="M326,1188 L323,1168"/><path d="M338,1188 L341,1176 L337,1170"/><path d="M342,1188 L344,1178"/></g>
<ellipse cx="332.5" cy="1192" rx="13.5" ry="5.8" fill="#2c2c48"/>
<ellipse cx="332" cy="1190" rx="8" ry="2.5" fill="#6a6a98" opacity="0.7"/>
<path d="M291,1205 L293,1196 L300,1192 L306,1194 L300,1200 L296,1205 Z" fill="#5a3424"/>
</g>
<text x="302.3" y="1128.0" font-size="18" fill="#000" letter-spacing="1.03" >Feed and lay eggs</text>
<rect x="291.8" y="1233.5" width="63.8" height="51.5" fill="#fff" stroke="#3a9a5a" stroke-width="1.2"/>
<line x1="301.1" y1="1247.7" x2="305.5" y2="1245.5" stroke="#e8559a" stroke-width="1.76" stroke-linecap="round"/>
<line x1="307.7" y1="1242.2" x2="311.0" y2="1240.0" stroke="#e8559a" stroke-width="1.76" stroke-linecap="round"/>
<line x1="306.6" y1="1246.6" x2="308.8" y2="1252.1" stroke="#e8559a" stroke-width="1.76" stroke-linecap="round"/>
<line x1="311.0" y1="1245.5" x2="315.4" y2="1247.7" stroke="#e8559a" stroke-width="1.76" stroke-linecap="round"/>
<line x1="312.1" y1="1249.9" x2="313.2" y2="1254.3" stroke="#e8559a" stroke-width="1.76" stroke-linecap="round"/>
<line x1="316.5" y1="1248.8" x2="317.6" y2="1253.2" stroke="#e8559a" stroke-width="1.76" stroke-linecap="round"/>
<line x1="302.2" y1="1251.0" x2="303.3" y2="1254.3" stroke="#e8559a" stroke-width="1.76" stroke-linecap="round"/>
<line x1="314.3" y1="1242.2" x2="316.5" y2="1244.4" stroke="#e8559a" stroke-width="1.76" stroke-linecap="round"/>
<line x1="333.0" y1="1241.1" x2="334.1" y2="1246.6" stroke="#b8cc30" stroke-width="1.65" stroke-linecap="round"/>
<line x1="336.3" y1="1244.4" x2="341.8" y2="1242.2" stroke="#b8cc30" stroke-width="1.65" stroke-linecap="round"/>
<line x1="335.2" y1="1251.0" x2="339.6" y2="1248.8" stroke="#b8cc30" stroke-width="1.65" stroke-linecap="round"/>
<line x1="344.0" y1="1246.6" x2="347.3" y2="1249.9" stroke="#b8cc30" stroke-width="1.65" stroke-linecap="round"/>
<line x1="340.7" y1="1255.4" x2="346.2" y2="1252.1" stroke="#b8cc30" stroke-width="1.65" stroke-linecap="round"/>
<line x1="346.2" y1="1242.2" x2="349.5" y2="1244.4" stroke="#b8cc30" stroke-width="1.65" stroke-linecap="round"/>
<circle cx="305.5" cy="1265.3" r="0.88" fill="none" stroke="#30c0b0" stroke-width="0.66"/>
<circle cx="303.3" cy="1268.6" r="0.88" fill="none" stroke="#30c0b0" stroke-width="0.66"/>
<circle cx="302.2" cy="1271.9" r="0.88" fill="none" stroke="#30c0b0" stroke-width="0.66"/>
<circle cx="304.4" cy="1275.2" r="0.88" fill="none" stroke="#30c0b0" stroke-width="0.66"/>
<circle cx="303.3" cy="1278.5" r="0.88" fill="none" stroke="#30c0b0" stroke-width="0.66"/>
<circle cx="306.6" cy="1280.7" r="0.88" fill="none" stroke="#30c0b0" stroke-width="0.66"/>
<circle cx="309.9" cy="1279.6" r="0.88" fill="none" stroke="#30c0b0" stroke-width="0.66"/>
<circle cx="313.2" cy="1280.7" r="0.88" fill="none" stroke="#30c0b0" stroke-width="0.66"/>
<circle cx="316.5" cy="1278.5" r="0.88" fill="none" stroke="#30c0b0" stroke-width="0.66"/>
<circle cx="318.7" cy="1276.3" r="0.88" fill="none" stroke="#30c0b0" stroke-width="0.66"/>
<circle cx="316.5" cy="1273.0" r="0.88" fill="none" stroke="#30c0b0" stroke-width="0.66"/>
<circle cx="314.3" cy="1269.7" r="0.88" fill="none" stroke="#30c0b0" stroke-width="0.66"/>
<circle cx="312.1" cy="1267.5" r="0.88" fill="none" stroke="#30c0b0" stroke-width="0.66"/>
<circle cx="311.0" cy="1264.2" r="0.88" fill="none" stroke="#30c0b0" stroke-width="0.66"/>
<path d="M324.2,1265.3 q2.2,-3.3 5.0,0 M325.3,1269.7 q2.8,-2.8 5.5,1.1 M326.4,1273.5 q2.8,-2.2 5.0,1.7" fill="none" stroke="#d8c040" stroke-width="1.76" stroke-linecap="round"/>
<circle cx="336.3" cy="1275.2" r="1.10" fill="#c040d0"/>
<circle cx="338.5" cy="1274.1" r="1.10" fill="#c040d0"/>
<circle cx="340.7" cy="1275.2" r="1.10" fill="#c040d0"/>
<circle cx="342.9" cy="1274.1" r="1.10" fill="#c040d0"/>
<circle cx="337.4" cy="1277.4" r="1.10" fill="#c040d0"/>
<circle cx="339.6" cy="1277.4" r="1.10" fill="#c040d0"/>
<circle cx="341.8" cy="1277.4" r="1.10" fill="#c040d0"/>
<circle cx="344.0" cy="1276.3" r="1.10" fill="#c040d0"/>
<circle cx="338.5" cy="1279.6" r="1.10" fill="#c040d0"/>
<circle cx="340.7" cy="1279.6" r="1.10" fill="#c040d0"/>
<circle cx="335.2" cy="1277.4" r="1.10" fill="#c040d0"/>
<g transform="translate(229 1267) rotate(-42) scale(1.02) translate(-20.5 -23)"><use href="#larva" width="41" height="46"/></g>
<text x="201.8" y="1306.2" font-size="18" fill="#000" letter-spacing="1.9" >Larva</text>
<g stroke="#8f8a82" stroke-width="2.2" fill="none" stroke-linecap="round" stroke-linejoin="round">
<path d="M417.9,1251 L414.9,1243.5 L432,1248.7 L435.8,1240.5"/>
<path d="M407.4,1252.4 L399.2,1252.4"/>
<path d="M398.4,1261.4 L391.7,1262.9 L389.4,1268.9 L380.5,1269.6"/>
<path d="M425.3,1271.1 L427.6,1281.6 L441,1274.9 L444.8,1282.4"/>
<path d="M403.7,1285.4 L386.5,1295.8"/>
<path d="M416.4,1280.9 L411.9,1295.8 L405.2,1301"/>
</g>
<path d="M423.9,1259.9 L455.3,1254.7" stroke="#8a857c" stroke-width="1.8" stroke-linecap="round"/>
<radialGradient id="beetleG2" cx="0.4" cy="0.55" r="0.6"><stop offset="0" stop-color="#3a3a38"/><stop offset="0.8" stop-color="#1a1a18"/><stop offset="1" stop-color="#2a2a28"/></radialGradient>
<ellipse cx="408.5" cy="1270" rx="13.5" ry="13.8" fill="url(#beetleG2)" transform="rotate(-30 408.5 1270)"/>
<ellipse cx="418.5" cy="1262" rx="5.5" ry="6" fill="#6a6a68" transform="rotate(-30 418.5 1262)"/>
<circle cx="404" cy="1266" r="1.2" fill="#b8b0a0"/>
<circle cx="400" cy="1272" r="1.5" fill="#b8b0a0"/>
<circle cx="408" cy="1276" r="1.3" fill="#b8b0a0"/>
<circle cx="414" cy="1274" r="1.1" fill="#b8b0a0"/>
<circle cx="406" cy="1260" r="1.0" fill="#b8b0a0"/>
<circle cx="417" cy="1277" r="1.4" fill="#b8b0a0"/>
<text x="409.4" y="1313.7" font-size="18" fill="#000" letter-spacing="1.63" >Adult</text>
<path d="M296,1385 C292,1374 300,1368 312,1369 C325,1366 340,1368 349,1376 C353,1386 350,1398 340,1401 C330,1404 318,1404 308,1402 C298,1399 296,1392 296,1385 Z" fill="url(#pupaG)"/>
<path d="M307,1362 C305,1354 312,1351 320,1353 C330,1354 338,1358 344,1366 C350,1372 350,1380 345,1382 C335,1384 323,1380 316,1376 C310,1372 308,1367 307,1362 Z" fill="#e6d6bc"/>
<ellipse cx="308" cy="1384.5" rx="7.5" ry="8" fill="#3c2a1a"/>
<circle cx="309.5" cy="1356" r="1" fill="#223"/><circle cx="308" cy="1359" r="1" fill="#223"/>
<text x="355.4" y="1400.8" font-size="18" fill="#f8f4ec" letter-spacing="2.0" >Pupa</text>
<path d="M264.8,1186.7 C252,1191 242,1200 239.5,1212 C238.3,1220 238.3,1228 238.3,1234" fill="none" stroke="#000" stroke-width="4.6" stroke-linecap="butt"/>
<path d="M222.3,1220.1 L238.3,1236 L244.6,1214.8" fill="none" stroke="#000" stroke-width="4.6" stroke-linejoin="miter" stroke-linecap="butt"/>
<path d="M415.8,1229.7 C416,1212 406,1197 394,1192 C388,1190 382,1190 378,1190.4" fill="none" stroke="#000" stroke-width="4.6" stroke-linecap="butt"/>
<path d="M394.5,1179.7 L376.5,1190.4 L394.5,1202" fill="none" stroke="#000" stroke-width="4.6" stroke-linejoin="miter" stroke-linecap="butt"/>
<path d="M239.7,1316.7 C240.5,1332 248,1346 260,1352.5 C266,1355 272,1355.5 277,1355.5" fill="none" stroke="#000" stroke-width="4.6" stroke-linecap="butt"/>
<path d="M258.4,1344.3 L279,1355.5 L259.4,1366.9" fill="none" stroke="#000" stroke-width="4.6" stroke-linejoin="miter" stroke-linecap="butt"/>
<path d="M364.7,1358 C378,1357 391,1348 395.5,1334 C397.5,1327 398.1,1321 398.1,1317" fill="none" stroke="#000" stroke-width="4.6" stroke-linecap="butt"/>
<path d="M389.3,1334.4 L398.1,1314.8 L411.9,1331.5" fill="none" stroke="#000" stroke-width="4.6" stroke-linejoin="miter" stroke-linecap="butt"/>
<text x="524.7" y="1148.8" font-size="27" fill="#000" letter-spacing="0" >c</text>
<linearGradient id="appleL" x1="0" y1="0" x2="0" y2="1"><stop offset="0" stop-color="#b86840"/><stop offset="0.25" stop-color="#c89058"/><stop offset="0.6" stop-color="#c4b060"/><stop offset="1" stop-color="#bcbc64"/></linearGradient>
<radialGradient id="appleR" cx="0.55" cy="0.55" r="0.55"><stop offset="0.7" stop-color="#000" stop-opacity="0"/><stop offset="0.93" stop-color="#5a1a10" stop-opacity="0.25"/><stop offset="1" stop-color="#4a1008" stop-opacity="0.55"/></radialGradient>
<path d="M656,1108 C655,1094 664,1087 678,1087.5 C693,1087 703.5,1096 703.6,1110 C703.5,1124 697,1131 688,1133 C680,1134.5 670,1133 664,1128 C658,1123 656.5,1116 656,1108 Z" fill="url(#appleL)"/>
<path d="M692,1094 C700,1098 704,1106 703,1116 C701,1124 697,1128 692,1130 C695,1120 696,1105 692,1094 Z" fill="#d08060" opacity="0.75"/>
<radialGradient id="darkG" cx="0.5" cy="0.5" r="0.5"><stop offset="0" stop-color="#5a1a10" stop-opacity="0.8"/><stop offset="1" stop-color="#5a1a10" stop-opacity="0"/></radialGradient>
<ellipse cx="662" cy="1098" rx="7" ry="11" fill="url(#darkG)" transform="rotate(30 662 1098)"/>
<path d="M656,1108 C655,1094 664,1087 678,1087.5 C693,1087 703.5,1096 703.6,1110 C703.5,1124 697,1131 688,1133 C680,1134.5 670,1133 664,1128 C658,1123 656.5,1116 656,1108 Z" fill="url(#appleR)"/>
<text x="662.8" y="1153.8" font-size="15.5" fill="#000" letter-spacing="1.26" >Fruit.</text>
<circle cx="661.6" cy="1134.7" r="0.95" fill="#111"/>
<circle cx="656.6" cy="1143.4" r="0.95" fill="#111"/>
<circle cx="651.5" cy="1152.0" r="0.95" fill="#111"/>
<circle cx="646.5" cy="1160.7" r="0.95" fill="#111"/>
<circle cx="641.4" cy="1169.3" r="0.95" fill="#111"/>
<circle cx="636.4" cy="1178.0" r="0.95" fill="#111"/>
<circle cx="631.3" cy="1186.7" r="0.95" fill="#111"/>
<circle cx="626.2" cy="1195.3" r="0.95" fill="#111"/>
<circle cx="621.2" cy="1204.0" r="0.95" fill="#111"/>
<circle cx="616.1" cy="1212.6" r="0.95" fill="#111"/>
<circle cx="611.1" cy="1221.3" r="0.95" fill="#111"/>
<circle cx="606.1" cy="1230.0" r="0.95" fill="#111"/>
<circle cx="601.0" cy="1238.6" r="0.95" fill="#111"/>
<circle cx="596.0" cy="1247.3" r="0.95" fill="#111"/>
<circle cx="590.9" cy="1255.9" r="0.95" fill="#111"/>
<circle cx="585.9" cy="1264.6" r="0.95" fill="#111"/>
<circle cx="580.8" cy="1273.3" r="0.95" fill="#111"/>
<circle cx="575.8" cy="1281.9" r="0.95" fill="#111"/>
<circle cx="570.7" cy="1290.6" r="0.95" fill="#111"/>
<circle cx="565.6" cy="1299.2" r="0.95" fill="#111"/>
<circle cx="560.6" cy="1307.9" r="0.95" fill="#111"/>
<circle cx="555.6" cy="1316.6" r="0.95" fill="#111"/>
<circle cx="550.5" cy="1325.2" r="0.95" fill="#111"/>
<circle cx="545.5" cy="1333.9" r="0.95" fill="#111"/>
<circle cx="540.4" cy="1342.5" r="0.95" fill="#111"/>
<circle cx="535.4" cy="1351.2" r="0.95" fill="#111"/>
<circle cx="530.3" cy="1359.9" r="0.95" fill="#111"/>
<circle cx="525.2" cy="1368.5" r="0.95" fill="#111"/>
<circle cx="692.0" cy="1136.1" r="0.95" fill="#111"/>
<circle cx="697.1" cy="1144.8" r="0.95" fill="#111"/>
<circle cx="702.2" cy="1153.6" r="0.95" fill="#111"/>
<circle cx="707.3" cy="1162.3" r="0.95" fill="#111"/>
<circle cx="712.4" cy="1171.1" r="0.95" fill="#111"/>
<circle cx="717.5" cy="1179.8" r="0.95" fill="#111"/>
<circle cx="722.6" cy="1188.6" r="0.95" fill="#111"/>
<circle cx="727.7" cy="1197.3" r="0.95" fill="#111"/>
<circle cx="732.8" cy="1206.1" r="0.95" fill="#111"/>
<circle cx="737.9" cy="1214.8" r="0.95" fill="#111"/>
<circle cx="743.0" cy="1223.6" r="0.95" fill="#111"/>
<circle cx="748.1" cy="1232.3" r="0.95" fill="#111"/>
<circle cx="753.2" cy="1241.1" r="0.95" fill="#111"/>
<circle cx="758.3" cy="1249.8" r="0.95" fill="#111"/>
<circle cx="763.4" cy="1258.6" r="0.95" fill="#111"/>
<circle cx="768.5" cy="1267.3" r="0.95" fill="#111"/>
<circle cx="773.6" cy="1276.1" r="0.95" fill="#111"/>
<circle cx="778.7" cy="1284.8" r="0.95" fill="#111"/>
<circle cx="783.8" cy="1293.6" r="0.95" fill="#111"/>
<circle cx="788.9" cy="1302.3" r="0.95" fill="#111"/>
<circle cx="794.0" cy="1311.1" r="0.95" fill="#111"/>
<circle cx="799.1" cy="1319.8" r="0.95" fill="#111"/>
<circle cx="804.2" cy="1328.6" r="0.95" fill="#111"/>
<circle cx="809.3" cy="1337.3" r="0.95" fill="#111"/>
<circle cx="814.4" cy="1346.1" r="0.95" fill="#111"/>
<circle cx="819.5" cy="1354.8" r="0.95" fill="#111"/>
<circle cx="824.6" cy="1363.6" r="0.95" fill="#111"/>
<circle cx="564.0" cy="1403.7" r="0.95" fill="#111"/>
<circle cx="574.0" cy="1403.7" r="0.95" fill="#111"/>
<circle cx="584.0" cy="1403.7" r="0.95" fill="#111"/>
<circle cx="594.0" cy="1403.7" r="0.95" fill="#111"/>
<circle cx="604.0" cy="1403.7" r="0.95" fill="#111"/>
<circle cx="614.0" cy="1403.7" r="0.95" fill="#111"/>
<circle cx="624.0" cy="1403.7" r="0.95" fill="#111"/>
<circle cx="634.0" cy="1403.7" r="0.95" fill="#111"/>
<circle cx="644.0" cy="1403.7" r="0.95" fill="#111"/>
<circle cx="654.0" cy="1403.7" r="0.95" fill="#111"/>
<circle cx="664.0" cy="1403.7" r="0.95" fill="#111"/>
<circle cx="674.0" cy="1403.7" r="0.95" fill="#111"/>
<circle cx="684.0" cy="1403.7" r="0.95" fill="#111"/>
<circle cx="694.0" cy="1403.7" r="0.95" fill="#111"/>
<circle cx="704.0" cy="1403.7" r="0.95" fill="#111"/>
<circle cx="714.0" cy="1403.7" r="0.95" fill="#111"/>
<circle cx="724.0" cy="1403.7" r="0.95" fill="#111"/>
<circle cx="734.0" cy="1403.7" r="0.95" fill="#111"/>
<circle cx="744.0" cy="1403.7" r="0.95" fill="#111"/>
<circle cx="754.0" cy="1403.7" r="0.95" fill="#111"/>
<circle cx="764.0" cy="1403.7" r="0.95" fill="#111"/>
<circle cx="774.0" cy="1403.7" r="0.95" fill="#111"/>
<circle cx="784.0" cy="1403.7" r="0.95" fill="#111"/>
<circle cx="794.0" cy="1403.7" r="0.95" fill="#111"/>
<circle cx="804.0" cy="1403.7" r="0.95" fill="#111"/>
<circle cx="814.0" cy="1403.7" r="0.95" fill="#111"/>
<circle cx="824.0" cy="1403.7" r="0.95" fill="#111"/>
<line x1="625.3" y1="1172" x2="543" y2="1313" stroke="#f2a8a8" stroke-width="1.2"/>
<line x1="625.3" y1="1172.0" x2="544.7" y2="1311.7" stroke="#f4b4b4" stroke-width="1.2"/>
<polygon points="538.5,1322.5 539.8,1308.2 550.2,1314.2" fill="#f4b4b4"/>
<line x1="554.3" y1="1343.0" x2="637.0" y2="1201.0" stroke="#f45858" stroke-width="5.7"/>
<polygon points="646.8,1184.2 646.5,1207.1 627.0,1195.8" fill="#f45858"/>
<line x1="703.1" y1="1179.0" x2="789.8" y2="1326.7" stroke="#1036f0" stroke-width="1.1"/>
<polygon points="796.4,1337.9 783.1,1330.1 796.0,1322.5" fill="#1036f0"/>
<line x1="703.1" y1="1179" x2="789" y2="1325" stroke="#5a84f4" stroke-width="1.1"/>
<line x1="815.7" y1="1326.9" x2="729.4" y2="1179.3" stroke="#1036f0" stroke-width="1.1"/>
<polygon points="723.2,1168.7 736.0,1176.0 723.3,1183.5" fill="#1036f0"/>
<line x1="815.7" y1="1326.9" x2="730" y2="1180" stroke="#5a84f4" stroke-width="1.1"/>
<line x1="764.7" y1="1390.8" x2="592.3" y2="1390.8" stroke="#f87474" stroke-width="2.6"/>
<polygon points="579.8,1390.8 592.8,1384.1 592.8,1397.5" fill="#f87474"/>
<line x1="585.9" y1="1423.1" x2="744.1" y2="1423.1" stroke="#f80000" stroke-width="6.2"/>
<polygon points="771.3,1423.1 743.6,1437.9 743.6,1408.2" fill="#f80000"/>
<g transform="translate(569.3 1246.0) rotate(-60)">
<text x="-17.7" y="5.7" font-size="16.5" fill="#000" letter-spacing="0.85" >18%</text>
</g>
<g transform="translate(608.5 1282.5) rotate(-60)">
<text x="-37.9" y="6.6" font-size="19" fill="#ff1a1a" letter-spacing="2.22" >64.06%</text>
</g>
<g transform="translate(741.8 1271.5) rotate(60)">
<text x="-30.4" y="6.6" font-size="19" fill="#000" letter-spacing="1.53" >1.20%</text>
</g>
<g transform="translate(778.7 1246.0) rotate(60)">
<text x="-24.6" y="5.5" font-size="16" fill="#000" letter-spacing="0.95" >3.13%</text>
</g>
<text x="650.3" y="1386.0" font-size="18" fill="#000" letter-spacing="2.24" >36.39%</text>
<text x="650.1" y="1444.7" font-size="18" fill="#f01010" letter-spacing="2.28" >96.91%</text>
<text x="546.4" y="1380.2" font-size="15" fill="#000" letter-spacing="2.0" >Soil</text>
<text x="789.5" y="1418.0" font-size="15" fill="#000" letter-spacing="1.8" >Gut</text>
<use href="#soil" x="465.8" y="1366.7" width="100.7" height="49.0" preserveAspectRatio="none"/>
<use href="#larva2" x="802.8" y="1365.7" width="47.2" height="51.5" preserveAspectRatio="none"/>
<line x1="640.8" y1="1299.3" x2="647.8" y2="1295.8" stroke="#e8559a" stroke-width="2.82" stroke-linecap="round"/>
<line x1="651.3" y1="1290.5" x2="656.6" y2="1287.0" stroke="#e8559a" stroke-width="2.82" stroke-linecap="round"/>
<line x1="649.6" y1="1297.6" x2="653.1" y2="1306.4" stroke="#e8559a" stroke-width="2.82" stroke-linecap="round"/>
<line x1="656.6" y1="1295.8" x2="663.6" y2="1299.3" stroke="#e8559a" stroke-width="2.82" stroke-linecap="round"/>
<line x1="658.4" y1="1302.8" x2="660.1" y2="1309.9" stroke="#e8559a" stroke-width="2.82" stroke-linecap="round"/>
<line x1="665.4" y1="1301.1" x2="667.2" y2="1308.1" stroke="#e8559a" stroke-width="2.82" stroke-linecap="round"/>
<line x1="642.5" y1="1304.6" x2="644.3" y2="1309.9" stroke="#e8559a" stroke-width="2.82" stroke-linecap="round"/>
<line x1="661.9" y1="1290.5" x2="665.4" y2="1294.0" stroke="#e8559a" stroke-width="2.82" stroke-linecap="round"/>
<line x1="691.8" y1="1288.8" x2="693.6" y2="1297.6" stroke="#b8cc30" stroke-width="2.64" stroke-linecap="round"/>
<line x1="697.1" y1="1294.0" x2="705.9" y2="1290.5" stroke="#b8cc30" stroke-width="2.64" stroke-linecap="round"/>
<line x1="695.3" y1="1304.6" x2="702.4" y2="1301.1" stroke="#b8cc30" stroke-width="2.64" stroke-linecap="round"/>
<line x1="709.4" y1="1297.6" x2="714.7" y2="1302.8" stroke="#b8cc30" stroke-width="2.64" stroke-linecap="round"/>
<line x1="704.1" y1="1311.6" x2="712.9" y2="1306.4" stroke="#b8cc30" stroke-width="2.64" stroke-linecap="round"/>
<line x1="712.9" y1="1290.5" x2="718.2" y2="1294.0" stroke="#b8cc30" stroke-width="2.64" stroke-linecap="round"/>
<circle cx="647.8" cy="1327.5" r="1.41" fill="none" stroke="#30c0b0" stroke-width="1.06"/>
<circle cx="644.3" cy="1332.8" r="1.41" fill="none" stroke="#30c0b0" stroke-width="1.06"/>
<circle cx="642.5" cy="1338.0" r="1.41" fill="none" stroke="#30c0b0" stroke-width="1.06"/>
<circle cx="646.0" cy="1343.3" r="1.41" fill="none" stroke="#30c0b0" stroke-width="1.06"/>
<circle cx="644.3" cy="1348.6" r="1.41" fill="none" stroke="#30c0b0" stroke-width="1.06"/>
<circle cx="649.6" cy="1352.1" r="1.41" fill="none" stroke="#30c0b0" stroke-width="1.06"/>
<circle cx="654.8" cy="1350.4" r="1.41" fill="none" stroke="#30c0b0" stroke-width="1.06"/>
<circle cx="660.1" cy="1352.1" r="1.41" fill="none" stroke="#30c0b0" stroke-width="1.06"/>
<circle cx="665.4" cy="1348.6" r="1.41" fill="none" stroke="#30c0b0" stroke-width="1.06"/>
<circle cx="668.9" cy="1345.1" r="1.41" fill="none" stroke="#30c0b0" stroke-width="1.06"/>
<circle cx="665.4" cy="1339.8" r="1.41" fill="none" stroke="#30c0b0" stroke-width="1.06"/>
<circle cx="661.9" cy="1334.5" r="1.41" fill="none" stroke="#30c0b0" stroke-width="1.06"/>
<circle cx="658.4" cy="1331.0" r="1.41" fill="none" stroke="#30c0b0" stroke-width="1.06"/>
<circle cx="656.6" cy="1325.7" r="1.41" fill="none" stroke="#30c0b0" stroke-width="1.06"/>
<path d="M677.7,1327.5 q3.5,-5.3 7.9,0 M679.5,1334.5 q4.4,-4.4 8.8,1.8 M681.2,1340.7 q4.4,-3.5 7.9,2.6" fill="none" stroke="#d8c040" stroke-width="2.82" stroke-linecap="round"/>
<circle cx="697.1" cy="1343.3" r="1.76" fill="#c040d0"/>
<circle cx="700.6" cy="1341.6" r="1.76" fill="#c040d0"/>
<circle cx="704.1" cy="1343.3" r="1.76" fill="#c040d0"/>
<circle cx="707.6" cy="1341.6" r="1.76" fill="#c040d0"/>
<circle cx="698.8" cy="1346.8" r="1.76" fill="#c040d0"/>
<circle cx="702.4" cy="1346.8" r="1.76" fill="#c040d0"/>
<circle cx="705.9" cy="1346.8" r="1.76" fill="#c040d0"/>
<circle cx="709.4" cy="1345.1" r="1.76" fill="#c040d0"/>
<circle cx="700.6" cy="1350.4" r="1.76" fill="#c040d0"/>
<circle cx="704.1" cy="1350.4" r="1.76" fill="#c040d0"/>
<circle cx="695.3" cy="1346.8" r="1.76" fill="#c040d0"/>
</svg></body></html>
